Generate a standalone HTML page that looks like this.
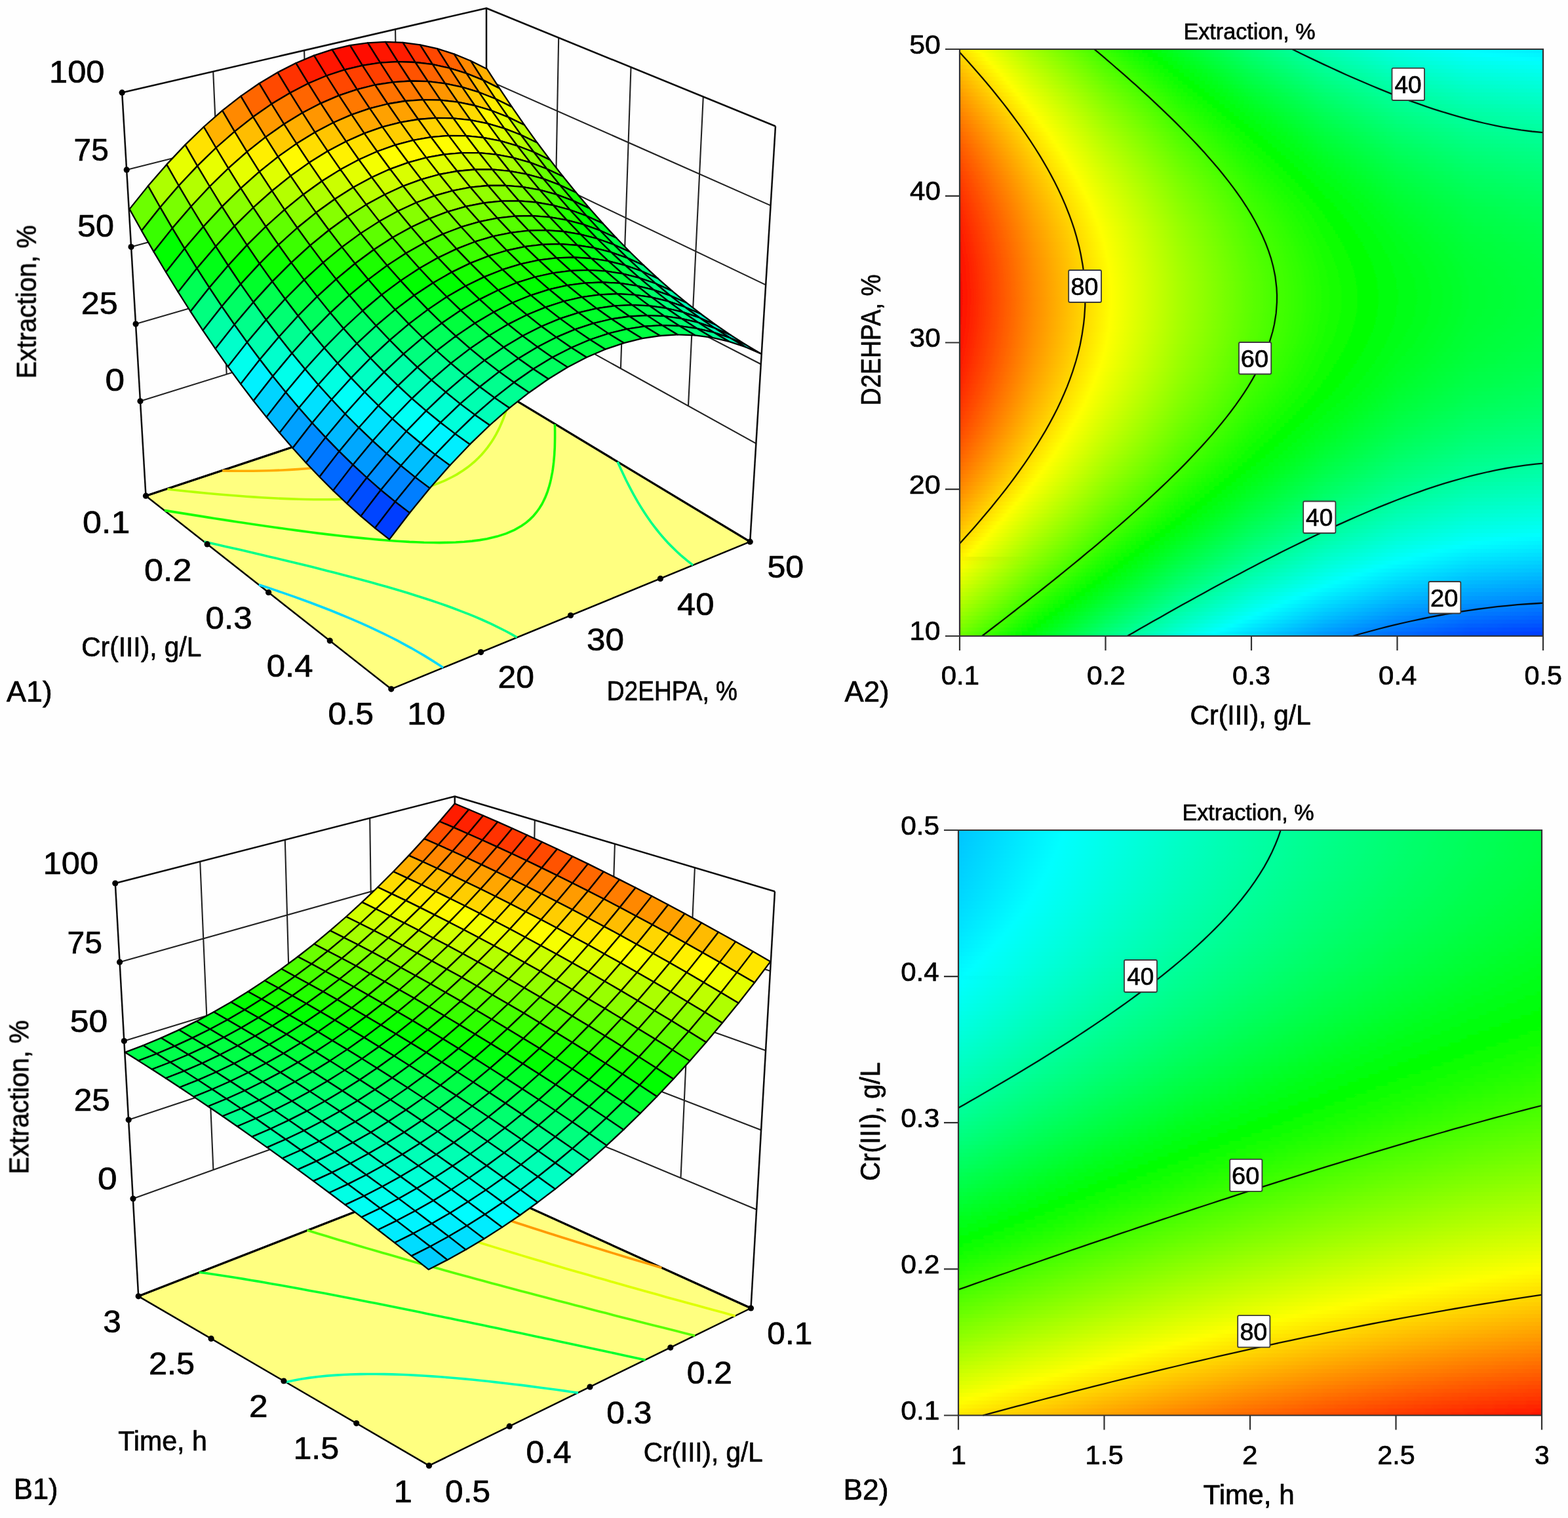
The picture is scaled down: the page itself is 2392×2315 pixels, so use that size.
<!DOCTYPE html>
<html lang="en"><head><meta charset="utf-8"><title>Response surface and contour plots</title><style>html,body{margin:0;padding:0;background:#fff}svg{display:block}text{font-family:"Liberation Sans",Arial,sans-serif}</style></head><body><svg xmlns="http://www.w3.org/2000/svg" width="2392" height="2315" viewBox="0 0 2392 2315">
<defs><filter id="soft" filterUnits="userSpaceOnUse" x="0" y="0" width="2392" height="2315"><feGaussianBlur stdDeviation="0.7"/></filter></defs>
<rect width="2392" height="2315" fill="#fefefe"/>
<g filter="url(#soft)">
<g id="A1"><path d="M214 611.8 L740.8 447.8 L1153 676.2 M207.1 494.1 L741.1 339 L1160.5 555.3 M200.1 376.5 L741.4 230.1 L1168 434.4 M193.2 258.9 L741.7 121.3 L1175.5 313.4 M325.2 109.1 L345.7 570.8 M852.2 57.5 L843.9 504.9 M464.1 76.9 L477.4 529.8 M962.5 102.5 L946.9 562 M603.1 44.7 L609.1 488.8 M1072.8 147.5 L1050 619.1" fill="none" stroke="#222" stroke-width="2.1"/>
<path d="M186.2 141.2 L742 12.5 L1183 192.5 M186.2 141.2 L222.5 756.2 M742 12.5 L742 583.5 M1183 192.5 L1144.2 826.2" fill="none" stroke="#0a0a0a" stroke-width="2.5" stroke-linejoin="round"/>
<path d="M222.5 756.2 L596.8 1050.8 L1144.2 826.2 L742 583.5 Z" fill="#ffff80" stroke="#050505" stroke-width="2.5" stroke-linejoin="round"/>
<path d="M222.5 756.2 L742 583.5 L1144.2 826.2" fill="none" stroke="#000" stroke-width="3.2" stroke-linejoin="round"/>
<path d="M394.8 891.7 407.2 895.7 419.5 899.9 429.7 903.4 439.8 906.9 449.8 910.4 459.8 914 472.8 918.8 484.6 923.2 494.4 927 504.1 930.8 516.9 936 528.1 940.6 537.6 944.6 549.8 949.9 560.9 954.9 570 959.1 583.6 965.6 592.6 970 605.8 976.7 614.4 981.3 627.3 988.3 638 994.5 648.1 1000.4 660.2 1007.9 672.1 1015.6 676 1018.2" fill="none" stroke="#00d8ff" stroke-width="3.6"/>
<path d="M311.6 826.1 321.3 828.3 332.4 830.8 343.9 833.4 355.4 836 366.9 838.6 378.4 841.3 389.9 844 400.6 846.5 410.7 848.9 420.9 851.3 431.1 853.7 441.6 856.2 453.1 859 464.6 861.8 476 864.6 487.5 867.5 498.9 870.4 510.3 873.3 521.6 876.2 533 879.2 544.3 882.2 555.5 885.2 566.7 888.3 577.9 891.4 589 894.6 600.1 897.8 611.1 901 622 904.3 632.8 907.7 643.9 911.2 657.1 915.5 670 919.9 680.5 923.5 690.7 927.3 700.8 931.1 715.8 936.9 725.6 940.9 735.1 945 749.2 951.4 758.3 955.8 771.6 962.5 780.2 967.2 788.6 972" fill="none" stroke="#0f8" stroke-width="3.6"/>
<path d="M1057.1 861.9 1047.3 854.2 1038.1 846.3 1032.3 841 1024 832.9 1018.7 827.5 1013.5 821.7 1006.5 813.6 1002 808 997.6 802.4 993 796.3 987.8 788.8 983.6 782.5 979.9 776.8 976.4 771.1 972.9 765.4 969.6 759.6 966.4 753.9 963.3 748.2 960.3 742.4 957.4 736.7 954.5 731 951.8 725.3 949.1 719.6 946.5 713.9 943.9 708.2 942.2 704.3" fill="none" stroke="#0f8" stroke-width="3.6"/>
<path d="M251 778.4 263.2 780.4 275.7 782.4 285.3 783.9 294.5 785.4 307.2 787.4 319.5 789.4 328.1 790.7 339 792.4 351.8 794.4 362.3 796 371.2 797.3 384.3 799.2 396.4 801 404.9 802.2 417.2 804 430.3 805.8 438.8 807 450.8 808.6 464 810.4 472.4 811.5 485 813.1 497.4 814.6 505.9 815.6 520.1 817.3 530.3 818.4 541.7 819.6 554.6 820.9 563.9 821.8 578.5 823.1 586.6 823.8 601.8 825 610.2 825.5 624.7 826.4 634.9 826.8 646.8 827.3 661.1 827.5 670.5 827.6 681.8 827.4 695.1 827 707.9 826.2 720.1 825.1 731.8 823.6 742.9 821.7 758.3 818.1 772.3 813.6 784.9 808.1 795.9 801.8 802.5 797.1 808.4 792.1 813.8 786.7 818.6 781 822.9 775 826.6 769 828.8 764.7 831.6 758.9 834.2 752.5 835.6 748.6 837.8 741.6 839 737.3 840.5 730.8 841.4 726.4 842.7 719.8 843.3 715.9 844.2 709.1 844.7 704.7 845.2 699 845.7 693.3 845.9 689.2 846.3 682.7 846.4 677.9 846.5 673.2 846.6 666.9 846.6 662.5 846.6 657.7 846.5 651.6 846.4 647" fill="none" stroke="#16ff00" stroke-width="3.6"/>
<path d="M255.4 746 264.6 747 275.9 748.2 287.9 749.5 296.7 750.4 310.8 751.7 318.6 752.5 332.2 753.7 341.4 754.5 354 755.5 364 756.3 376.3 757.2 386.3 757.9 399.2 758.7 408.3 759.3 422.8 760 430.8 760.4 444.2 760.9 455.6 761.3 465.2 761.5 479 761.7 490.6 761.8 499.7 761.8 512.5 761.6 525.4 761.2 538.1 760.7 550.3 760 561.8 759.1 574.1 758 586.1 756.6 597.3 755.1 608.1 753.3 621.3 750.8 633.8 748 648.1 744.1 657.1 741.2 667.9 737.3 678.1 733.1 689.6 727.5 696.8 723.6 706.8 717.2 713.1 712.8 719 708.1 724.6 703.3 729.9 698.3 734.8 693.2 739.4 687.9 743.8 682.4 747.3 677.5 750.1 673.4 753.4 668.2 756.8 662.4 759 658.1 761.4 653.4 764.2 647.3 765.7 643.7 768.1 638 769.7 633.4 771.5 628.5 773.1 623.4 774.5 618.9 775.9 613.7 777.1 609.2 777.9 606" fill="none" stroke="#b5ff00" stroke-width="3.6"/>
<path d="M339.2 717.9 352.3 718.1 364.9 718.2 373.7 718.2 385.4 718.2 398.3 718 410.9 717.7 420.7 717.4 430.9 717 442.1 716.4 454.2 715.6 466 714.7 477.6 713.6 489 712.4 502.7 710.6 516.4 708.6 526.9 706.8 537.2 704.9 552.1 701.6 564.2 698.6 575.4 695.4 588.6 691.2 601.2 686.5 612 682.1 620.6 678.1 631.5 672.5 638.3 668.6 644.9 664.6 653.7 658.7 660.2 653.9 665.9 649.4 671.3 644.7 676.4 640 681.3 635.1 686 630.2 689.9 625.8 693.2 621.7 696.7 617.3 700.6 612 704.4 606.7 706.8 602.9 709.6 598.5 712.8 592.9 713.1 592.3" fill="none" stroke="#ffab00" stroke-width="3.6"/>
<g stroke="#000" stroke-width="2.3" stroke-linejoin="round"><path d="M718 92.7 736.9 122.1 761.9 134.6 743 105.3 Z" fill="#ffb000"/><path d="M736.9 122.1 756 150.8 781 163.1 761.9 134.6 Z" fill="#ffe400"/><path d="M692.6 82.3 711.5 111.9 736.9 122.1 718 92.7 Z" fill="#f80"/><path d="M666.9 74.1 685.9 103.9 711.5 111.9 692.6 82.3 Z" fill="#ff6400"/><path d="M711.5 111.9 730.7 140.7 756 150.8 736.9 122.1 Z" fill="#fb0"/><path d="M756 150.8 775.3 178.6 800.2 190.8 781 163.1 Z" fill="#e8ff00"/><path d="M640.8 68.3 659.8 98.2 685.9 103.9 666.9 74.1 Z" fill="#ff4700"/><path d="M685.9 103.9 705 132.9 730.7 140.7 711.5 111.9 Z" fill="#ff9800"/><path d="M730.7 140.7 750 168.7 775.3 178.6 756 150.8 Z" fill="#ffed00"/><path d="M775.3 178.6 794.7 205.7 819.6 217.8 800.2 190.8 Z" fill="#b9ff00"/><path d="M659.8 98.2 679 127.4 705 132.9 685.9 103.9 Z" fill="#ff7b00"/><path d="M614.5 64.9 633.5 95 659.8 98.2 640.8 68.3 Z" fill="#ff3000"/><path d="M705 132.9 724.3 161 750 168.7 730.7 140.7 Z" fill="#ffca00"/><path d="M750 168.7 769.4 195.9 794.7 205.7 775.3 178.6 Z" fill="#e2ff00"/><path d="M794.7 205.7 814.3 232 839.2 243.9 819.6 217.8 Z" fill="#8dff00"/><path d="M633.5 95 652.7 124.2 679 127.4 659.8 98.2 Z" fill="#ff6400"/><path d="M679 127.4 698.3 155.7 724.3 161 705 132.9 Z" fill="#ffad00"/><path d="M769.4 195.9 789 222.3 814.3 232 794.7 205.7 Z" fill="#b6ff00"/><path d="M587.9 63.8 606.9 94.1 633.5 95 614.5 64.9 Z" fill="#ff1e00"/><path d="M724.3 161 743.8 188.4 769.4 195.9 750 168.7 Z" fill="#fff900"/><path d="M814.3 232 834.1 257.5 859 269.3 839.2 243.9 Z" fill="#63ff00"/><path d="M606.9 94.1 626.1 123.5 652.7 124.2 633.5 95 Z" fill="#ff5200"/><path d="M743.8 188.4 763.4 214.9 789 222.3 769.4 195.9 Z" fill="#d9ff00"/><path d="M561 65.3 580 95.7 606.9 94.1 587.9 63.8 Z" fill="#ff1300"/><path d="M652.7 124.2 672 152.7 698.3 155.7 679 127.4 Z" fill="#ff9500"/><path d="M698.3 155.7 717.8 183.2 743.8 188.4 724.3 161 Z" fill="#ffdb00"/><path d="M789 222.3 808.9 247.9 834.1 257.5 814.3 232 Z" fill="#8cff00"/><path d="M834.1 257.5 854.1 282.2 878.9 293.8 859 269.3 Z" fill="#3cff00"/><path d="M533.9 69.2 552.9 99.8 580 95.7 561 65.3 Z" fill="#ff0d00"/><path d="M580 95.7 599.2 125.3 626.1 123.5 606.9 94.1 Z" fill="#ff4700"/><path d="M626.1 123.5 645.4 152.1 672 152.7 652.7 124.2 Z" fill="#ff8400"/><path d="M717.8 183.2 737.4 209.8 763.4 214.9 743.8 188.4 Z" fill="#f6ff00"/><path d="M763.4 214.9 783.3 240.7 808.9 247.9 789 222.3 Z" fill="#afff00"/><path d="M672 152.7 691.5 180.3 717.8 183.2 698.3 155.7 Z" fill="#ffc400"/><path d="M808.9 247.9 828.9 272.7 854.1 282.2 834.1 257.5 Z" fill="#65ff00"/><path d="M854.1 282.2 874.3 306.1 899.1 317.6 878.9 293.8 Z" fill="#17ff00"/><path d="M506.6 75.6 525.6 106.4 552.9 99.8 533.9 69.2 Z" fill="#ff0d00"/><path d="M552.9 99.8 572.1 129.5 599.2 125.3 580 95.7 Z" fill="#ff4100"/><path d="M599.2 125.3 618.5 154 645.4 152.1 626.1 123.5 Z" fill="#ff7800"/><path d="M645.4 152.1 664.9 179.9 691.5 180.3 672 152.7 Z" fill="#ffb300"/><path d="M691.5 180.3 711.1 207.2 737.4 209.8 717.8 183.2 Z" fill="#fff100"/><path d="M737.4 209.8 757.3 235.7 783.3 240.7 763.4 214.9 Z" fill="#cf0"/><path d="M783.3 240.7 803.3 265.6 828.9 272.7 808.9 247.9 Z" fill="#8f0"/><path d="M828.9 272.7 849.1 296.7 874.3 306.1 854.1 282.2 Z" fill="#40ff00"/><path d="M874.3 306.1 894.7 329.2 919.5 340.6 899.1 317.6 Z" fill="#00ff0c"/><path d="M525.6 106.4 544.7 136.3 572.1 129.5 552.9 99.8 Z" fill="#ff4100"/><path d="M479 84.6 498 115.5 525.6 106.4 506.6 75.6 Z" fill="#ff1300"/><path d="M572.1 129.5 591.4 158.5 618.5 154 599.2 125.3 Z" fill="#ff7200"/><path d="M618.5 154 638 182 664.9 179.9 645.4 152.1 Z" fill="#ffa700"/><path d="M664.9 179.9 684.5 206.9 711.1 207.2 691.5 180.3 Z" fill="#ffdf00"/><path d="M711.1 207.2 731 233.2 757.3 235.7 737.4 209.8 Z" fill="#e4ff00"/><path d="M757.3 235.7 777.3 260.8 803.3 265.6 783.3 240.7 Z" fill="#a5ff00"/><path d="M803.3 265.6 823.5 289.7 849.1 296.7 828.9 272.7 Z" fill="#63ff00"/><path d="M849.1 296.7 869.5 320 894.7 329.2 874.3 306.1 Z" fill="#1dff00"/><path d="M894.7 329.2 915.4 351.5 940.2 362.8 919.5 340.6 Z" fill="#00ff2b"/><path d="M498 115.5 517.1 145.6 544.7 136.3 525.6 106.4 Z" fill="#ff4700"/><path d="M544.7 136.3 564 165.4 591.4 158.5 572.1 129.5 Z" fill="#ff7300"/><path d="M638 182 657.6 209.2 684.5 206.9 664.9 179.9 Z" fill="#ffd300"/><path d="M777.3 260.8 797.5 285.1 823.5 289.7 803.3 265.6 Z" fill="#80ff00"/><path d="M823.5 289.7 844 313.1 869.5 320 849.1 296.7 Z" fill="#40ff00"/><path d="M869.5 320 890.2 342.4 915.4 351.5 894.7 329.2 Z" fill="#00ff02"/><path d="M591.4 158.5 610.8 186.6 638 182 618.5 154 Z" fill="#ffa100"/><path d="M684.5 206.9 704.4 233.1 731 233.2 711.1 207.2 Z" fill="#f5ff00"/><path d="M915.4 351.5 936.3 373 961 384.2 940.2 362.8 Z" fill="#00ff49"/><path d="M451.3 96.2 470.3 127.3 498 115.5 479 84.6 Z" fill="#ff1f00"/><path d="M731 233.2 751 258.4 777.3 260.8 757.3 235.7 Z" fill="#bcff00"/><path d="M610.8 186.6 630.4 213.9 657.6 209.2 638 182 Z" fill="#ffce00"/><path d="M423.4 110.4 442.4 141.7 470.3 127.3 451.3 96.2 Z" fill="#ff3100"/><path d="M470.3 127.3 489.3 157.6 517.1 145.6 498 115.5 Z" fill="#ff5300"/><path d="M517.1 145.6 536.4 174.9 564 165.4 544.7 136.3 Z" fill="#ff7900"/><path d="M564 165.4 583.4 193.7 610.8 186.6 591.4 158.5 Z" fill="#ffa100"/><path d="M657.6 209.2 677.4 235.5 704.4 233.1 684.5 206.9 Z" fill="#fffd00"/><path d="M704.4 233.1 724.4 258.5 751 258.4 731 233.2 Z" fill="#ceff00"/><path d="M751 258.4 771.2 282.8 797.5 285.1 777.3 260.8 Z" fill="#97ff00"/><path d="M797.5 285.1 818 308.5 844 313.1 823.5 289.7 Z" fill="#5eff00"/><path d="M844 313.1 864.6 335.6 890.2 342.4 869.5 320 Z" fill="#21ff00"/><path d="M890.2 342.4 911.1 364 936.3 373 915.4 351.5 Z" fill="#00ff20"/><path d="M936.3 373 957.4 393.6 982.2 404.8 961 384.2 Z" fill="#00ff64"/><path d="M442.4 141.7 461.4 172.1 489.3 157.6 470.3 127.3 Z" fill="#ff6500"/><path d="M583.4 193.7 603 221.2 630.4 213.9 610.8 186.6 Z" fill="#ffce00"/><path d="M818 308.5 838.7 331.2 864.6 335.6 844 313.1 Z" fill="#3eff00"/><path d="M630.4 213.9 650.2 240.4 677.4 235.5 657.6 209.2 Z" fill="#fff800"/><path d="M864.6 335.6 885.5 357.3 911.1 364 890.2 342.4 Z" fill="#03ff00"/><path d="M395.4 127.2 414.3 158.6 442.4 141.7 423.4 110.4 Z" fill="#ff4800"/><path d="M489.3 157.6 508.5 187 536.4 174.9 517.1 145.6 Z" fill="#ff8400"/><path d="M536.4 174.9 555.7 203.4 583.4 193.7 564 165.4 Z" fill="#ffa700"/><path d="M677.4 235.5 697.4 261 724.4 258.5 704.4 233.1 Z" fill="#d9ff00"/><path d="M724.4 258.5 744.6 283 771.2 282.8 751 258.4 Z" fill="#a9ff00"/><path d="M771.2 282.8 791.7 306.4 818 308.5 797.5 285.1 Z" fill="#75ff00"/><path d="M911.1 364 932.3 384.7 957.4 393.6 936.3 373 Z" fill="#00ff3b"/><path d="M957.4 393.6 978.8 413.5 1003.6 424.6 982.2 404.8 Z" fill="#00ff7c"/><path d="M367.3 146.6 386.1 178.3 414.3 158.6 395.4 127.2 Z" fill="#f60"/><path d="M414.3 158.6 433.3 189.3 461.4 172.1 442.4 141.7 Z" fill="#ff7c00"/><path d="M461.4 172.1 480.5 201.8 508.5 187 489.3 157.6 Z" fill="#ff9600"/><path d="M555.7 203.4 575.3 231 603 221.2 583.4 193.7 Z" fill="#ffd400"/><path d="M603 221.2 622.7 247.8 650.2 240.4 630.4 213.9 Z" fill="#fff800"/><path d="M650.2 240.4 670.2 266 697.4 261 677.4 235.5 Z" fill="#dfff00"/><path d="M697.4 261 717.6 285.7 744.6 283 724.4 258.5 Z" fill="#b4ff00"/><path d="M744.6 283 765 306.7 791.7 306.4 771.2 282.8 Z" fill="#87ff00"/><path d="M791.7 306.4 812.3 329.2 838.7 331.2 818 308.5 Z" fill="#5f0"/><path d="M838.7 331.2 859.6 353 885.5 357.3 864.6 335.6 Z" fill="#21ff00"/><path d="M885.5 357.3 906.7 378.2 932.3 384.7 911.1 364 Z" fill="#00ff17"/><path d="M932.3 384.7 953.7 404.7 978.8 413.5 957.4 393.6 Z" fill="#00ff53"/><path d="M978.8 413.5 1000.5 432.5 1025.2 443.6 1003.6 424.6 Z" fill="#00ff92"/><path d="M508.5 187 527.9 215.7 555.7 203.4 536.4 174.9 Z" fill="#ffb300"/><path d="M386.1 178.3 405.1 209.1 433.3 189.3 414.3 158.6 Z" fill="#ff9a00"/><path d="M339.1 168.7 357.9 200.6 386.1 178.3 367.3 146.6 Z" fill="#ff8900"/><path d="M433.3 189.3 452.4 219.1 480.5 201.8 461.4 172.1 Z" fill="#ffae00"/><path d="M527.9 215.7 547.4 243.5 575.3 231 555.7 203.4 Z" fill="#ffe000"/><path d="M575.3 231 595 257.8 622.7 247.8 603 221.2 Z" fill="#fffe00"/><path d="M622.7 247.8 642.7 273.6 670.2 266 650.2 240.4 Z" fill="#dfff00"/><path d="M670.2 266 690.3 290.9 717.6 285.7 697.4 261 Z" fill="#baff00"/><path d="M717.6 285.7 738 309.5 765 306.7 744.6 283 Z" fill="#92ff00"/><path d="M765 306.7 785.6 329.6 812.3 329.2 791.7 306.4 Z" fill="#67ff00"/><path d="M812.3 329.2 833.2 351.1 859.6 353 838.7 331.2 Z" fill="#38ff00"/><path d="M859.6 353 880.7 374 906.7 378.2 885.5 357.3 Z" fill="#06ff00"/><path d="M906.7 378.2 928.1 398.2 953.7 404.7 932.3 384.7 Z" fill="#00ff30"/><path d="M953.7 404.7 975.4 423.8 1000.5 432.5 978.8 413.5 Z" fill="#00ff69"/><path d="M1000.5 432.5 1022.5 450.8 1047.2 461.7 1025.2 443.6 Z" fill="#00ffa5"/><path d="M480.5 201.8 499.9 230.6 527.9 215.7 508.5 187 Z" fill="#ffc500"/><path d="M357.9 200.6 376.7 231.6 405.1 209.1 386.1 178.3 Z" fill="#ffbd00"/><path d="M405.1 209.1 424.1 239.1 452.4 219.1 433.3 189.3 Z" fill="#ffcb00"/><path d="M499.9 230.6 519.3 258.6 547.4 243.5 527.9 215.7 Z" fill="#fff100"/><path d="M642.7 273.6 662.8 298.7 690.3 290.9 670.2 266 Z" fill="#baff00"/><path d="M690.3 290.9 710.7 314.9 738 309.5 717.6 285.7 Z" fill="#98ff00"/><path d="M738 309.5 758.6 332.6 785.6 329.6 765 306.7 Z" fill="#72ff00"/><path d="M785.6 329.6 806.5 351.7 833.2 351.1 812.3 329.2 Z" fill="#49ff00"/><path d="M880.7 374 902.1 394.1 928.1 398.2 906.7 378.2 Z" fill="#00ff12"/><path d="M928.1 398.2 949.8 417.4 975.4 423.8 953.7 404.7 Z" fill="#00ff45"/><path d="M975.4 423.8 997.4 442.1 1022.5 450.8 1000.5 432.5 Z" fill="#00ff7c"/><path d="M1022.5 450.8 1044.8 468.2 1069.5 479 1047.2 461.7 Z" fill="#00ffb5"/><path d="M452.4 219.1 471.6 248.1 499.9 230.6 480.5 201.8 Z" fill="#fd0"/><path d="M547.4 243.5 567.1 270.5 595 257.8 575.3 231 Z" fill="#f4ff00"/><path d="M595 257.8 614.9 283.8 642.7 273.6 622.7 247.8 Z" fill="#d9ff00"/><path d="M310.8 193.5 329.5 225.5 357.9 200.6 339.1 168.7 Z" fill="#ffb200"/><path d="M833.2 351.1 854.4 372.2 880.7 374 859.6 353 Z" fill="#1dff00"/><path d="M471.6 248.1 491 276.3 519.3 258.6 499.9 230.6 Z" fill="#f5ff00"/><path d="M662.8 298.7 683.1 322.8 710.7 314.9 690.3 290.9 Z" fill="#98ff00"/><path d="M710.7 314.9 731.3 338.1 758.6 332.6 738 309.5 Z" fill="#78ff00"/><path d="M282.5 220.9 301.1 253.1 329.5 225.5 310.8 193.5 Z" fill="#ffe200"/><path d="M329.5 225.5 348.3 256.7 376.7 231.6 357.9 200.6 Z" fill="#ffe600"/><path d="M376.7 231.6 395.7 261.8 424.1 239.1 405.1 209.1 Z" fill="#ffef00"/><path d="M758.6 332.6 779.5 354.8 806.5 351.7 785.6 329.6 Z" fill="#5f0"/><path d="M902.1 394.1 923.8 413.4 949.8 417.4 928.1 398.2 Z" fill="#00ff28"/><path d="M949.8 417.4 971.8 435.8 997.4 442.1 975.4 423.8 Z" fill="#00ff59"/><path d="M997.4 442.1 1019.7 459.6 1044.8 468.2 1022.5 450.8 Z" fill="#00ff8c"/><path d="M424.1 239.1 443.3 268.3 471.6 248.1 452.4 219.1 Z" fill="#fffa00"/><path d="M519.3 258.6 538.9 285.8 567.1 270.5 547.4 243.5 Z" fill="#e3ff00"/><path d="M614.9 283.8 635 309 662.8 298.7 642.7 273.6 Z" fill="#b4ff00"/><path d="M567.1 270.5 586.9 296.7 614.9 283.8 595 257.8 Z" fill="#cdff00"/><path d="M806.5 351.7 827.6 372.9 854.4 372.2 833.2 351.1 Z" fill="#2fff00"/><path d="M854.4 372.2 875.8 392.5 902.1 394.1 880.7 374 Z" fill="#05ff00"/><path d="M1044.8 468.2 1067.4 484.7 1092 495.5 1069.5 479 Z" fill="#00ffc4"/><path d="M301.1 253.1 319.9 284.5 348.3 256.7 329.5 225.5 Z" fill="#e8ff00"/><path d="M443.3 268.3 462.6 296.7 491 276.3 471.6 248.1 Z" fill="#d7ff00"/><path d="M683.1 322.8 703.6 346.2 731.3 338.1 710.7 314.9 Z" fill="#78ff00"/><path d="M731.3 338.1 752.1 360.4 779.5 354.8 758.6 332.6 Z" fill="#5bff00"/><path d="M923.8 413.4 945.8 431.9 971.8 435.8 949.8 417.4 Z" fill="#00ff3b"/><path d="M971.8 435.8 994.1 453.4 1019.7 459.6 997.4 442.1 Z" fill="#00ff69"/><path d="M491 276.3 510.6 303.7 538.9 285.8 519.3 258.6 Z" fill="#cbff00"/><path d="M635 309 655.3 333.4 683.1 322.8 662.8 298.7 Z" fill="#92ff00"/><path d="M254.2 250.9 272.7 283.3 301.1 253.1 282.5 220.9 Z" fill="#e7ff00"/><path d="M348.3 256.7 367.3 287.1 395.7 261.8 376.7 231.6 Z" fill="#e6ff00"/><path d="M395.7 261.8 414.9 291.2 443.3 268.3 424.1 239.1 Z" fill="#e0ff00"/><path d="M538.9 285.8 558.7 312.1 586.9 296.7 567.1 270.5 Z" fill="#bf0"/><path d="M586.9 296.7 606.9 322 635 309 614.9 283.8 Z" fill="#a8ff00"/><path d="M779.5 354.8 800.5 376.2 827.6 372.9 806.5 351.7 Z" fill="#3aff00"/><path d="M827.6 372.9 849 393.3 875.8 392.5 854.4 372.2 Z" fill="#16ff00"/><path d="M875.8 392.5 897.4 411.9 923.8 413.4 902.1 394.1 Z" fill="#0f1"/><path d="M1019.7 459.6 1042.3 476.2 1067.4 484.7 1044.8 468.2 Z" fill="#00ff9b"/><path d="M1067.4 484.7 1090.3 500.4 1115 511.2 1092 495.5 Z" fill="#00ffcf"/><path d="M272.7 283.3 291.4 315 319.9 284.5 301.1 253.1 Z" fill="#b3ff00"/><path d="M319.9 284.5 338.7 315.1 367.3 287.1 348.3 256.7 Z" fill="#b7ff00"/><path d="M414.9 291.2 434.1 319.8 462.6 296.7 443.3 268.3 Z" fill="#b4ff00"/><path d="M703.6 346.2 724.4 368.7 752.1 360.4 731.3 338.1 Z" fill="#5bff00"/><path d="M945.8 431.9 968.1 449.6 994.1 453.4 971.8 435.8 Z" fill="#00ff4c"/><path d="M462.6 296.7 482.1 324.3 510.6 303.7 491 276.3 Z" fill="#aeff00"/><path d="M655.3 333.4 675.7 356.9 703.6 346.2 683.1 322.8 Z" fill="#72ff00"/><path d="M510.6 303.7 530.3 330.2 558.7 312.1 538.9 285.8 Z" fill="#a4ff00"/><path d="M558.7 312.1 578.7 337.6 606.9 322 586.9 296.7 Z" fill="#96ff00"/><path d="M606.9 322 627.2 346.5 655.3 333.4 635 309 Z" fill="#86ff00"/><path d="M752.1 360.4 773.1 382 800.5 376.2 779.5 354.8 Z" fill="#40ff00"/><path d="M800.5 376.2 821.9 396.7 849 393.3 827.6 372.9 Z" fill="#2f0"/><path d="M849 393.3 870.6 412.9 897.4 411.9 875.8 392.5 Z" fill="#01ff00"/><path d="M897.4 411.9 919.4 430.5 945.8 431.9 923.8 413.4 Z" fill="#00ff24"/><path d="M994.1 453.4 1016.7 470 1042.3 476.2 1019.7 459.6 Z" fill="#00ff78"/><path d="M1042.3 476.2 1065.2 491.9 1090.3 500.4 1067.4 484.7 Z" fill="#00ffa6"/><path d="M1090.3 500.4 1113.6 515.2 1138.2 526 1115 511.2 Z" fill="#00ffd9"/><path d="M225.9 283.6 244.3 316.2 272.7 283.3 254.2 250.9 Z" fill="#adff00"/><path d="M367.3 287.1 386.3 316.7 414.9 291.2 395.7 261.8 Z" fill="#b7ff00"/><path d="M197.6 318.9 216 351.8 244.3 316.2 225.9 283.6 Z" fill="#6cff00"/><path d="M244.3 316.2 262.9 348.1 291.4 315 272.7 283.3 Z" fill="#79ff00"/><path d="M291.4 315 310.2 345.8 338.7 315.1 319.9 284.5 Z" fill="#82ff00"/><path d="M338.7 315.1 357.7 344.9 386.3 316.7 367.3 287.1 Z" fill="#8f0"/><path d="M386.3 316.7 405.5 345.5 434.1 319.8 414.9 291.2 Z" fill="#8bff00"/><path d="M434.1 319.8 453.5 347.5 482.1 324.3 462.6 296.7 Z" fill="#8aff00"/><path d="M482.1 324.3 501.8 351 530.3 330.2 510.6 303.7 Z" fill="#86ff00"/><path d="M530.3 330.2 550.2 355.9 578.7 337.6 558.7 312.1 Z" fill="#7fff00"/><path d="M578.7 337.6 598.8 362.3 627.2 346.5 606.9 322 Z" fill="#74ff00"/><path d="M627.2 346.5 647.6 370.2 675.7 356.9 655.3 333.4 Z" fill="#6f0"/><path d="M675.7 356.9 696.4 379.6 724.4 368.7 703.6 346.2 Z" fill="#5f0"/><path d="M724.4 368.7 745.4 390.4 773.1 382 752.1 360.4 Z" fill="#40ff00"/><path d="M773.1 382 794.4 402.6 821.9 396.7 800.5 376.2 Z" fill="#28ff00"/><path d="M821.9 396.7 843.5 416.4 870.6 412.9 849 393.3 Z" fill="#0cff00"/><path d="M870.6 412.9 892.6 431.6 919.4 430.5 897.4 411.9 Z" fill="#00ff13"/><path d="M919.4 430.5 941.6 448.2 968.1 449.6 945.8 431.9 Z" fill="#00ff35"/><path d="M968.1 449.6 990.7 466.3 1016.7 470 994.1 453.4 Z" fill="#00ff5a"/><path d="M1016.7 470 1039.6 485.8 1065.2 491.9 1042.3 476.2 Z" fill="#00ff83"/><path d="M1065.2 491.9 1088.5 506.8 1113.6 515.2 1090.3 500.4 Z" fill="#00ffb0"/><path d="M1113.6 515.2 1137.3 529.2 1161.9 539.9 1138.2 526 Z" fill="#00ffdf"/><path d="M216 351.8 234.5 383.8 262.9 348.1 244.3 316.2 Z" fill="#38ff00"/><path d="M357.7 344.9 376.8 373.9 405.5 345.5 386.3 316.7 Z" fill="#5cff00"/><path d="M501.8 351 521.6 376.9 550.2 355.9 530.3 330.2 Z" fill="#61ff00"/><path d="M550.2 355.9 570.3 380.8 598.8 362.3 578.7 337.6 Z" fill="#5dff00"/><path d="M598.8 362.3 619.2 386.2 647.6 370.2 627.2 346.5 Z" fill="#54ff00"/><path d="M745.4 390.4 766.6 411.2 794.4 402.6 773.1 382 Z" fill="#28ff00"/><path d="M794.4 402.6 816 422.5 843.5 416.4 821.9 396.7 Z" fill="#12ff00"/><path d="M843.5 416.4 865.4 435.2 892.6 431.6 870.6 412.9 Z" fill="#00ff07"/><path d="M892.6 431.6 914.8 449.4 941.6 448.2 919.4 430.5 Z" fill="#00ff23"/><path d="M990.7 466.3 1013.6 482.2 1039.6 485.8 1016.7 470 Z" fill="#0f6"/><path d="M1039.6 485.8 1062.9 500.8 1088.5 506.8 1065.2 491.9 Z" fill="#00ff8c"/><path d="M1088.5 506.8 1112.1 520.8 1137.3 529.2 1113.6 515.2 Z" fill="#00ffb6"/><path d="M453.5 347.5 473.1 374.4 501.8 351 482.1 324.3 Z" fill="#63ff00"/><path d="M647.6 370.2 668.2 393.1 696.4 379.6 675.7 356.9 Z" fill="#49ff00"/><path d="M262.9 348.1 281.6 379.1 310.2 345.8 291.4 315 Z" fill="#47ff00"/><path d="M310.2 345.8 329.1 375.8 357.7 344.9 338.7 315.1 Z" fill="#53ff00"/><path d="M405.5 345.5 424.8 373.4 453.5 347.5 434.1 319.8 Z" fill="#61ff00"/><path d="M696.4 379.6 717.4 401.4 745.4 390.4 724.4 368.7 Z" fill="#3aff00"/><path d="M941.6 448.2 964.2 465.1 990.7 466.3 968.1 449.6 Z" fill="#00ff43"/><path d="M234.5 383.8 253.1 415 281.6 379.1 262.9 348.1 Z" fill="#06ff00"/><path d="M329.1 375.8 348.1 405 376.8 373.9 357.7 344.9 Z" fill="#27ff00"/><path d="M376.8 373.9 396 402.1 424.8 373.4 405.5 345.5 Z" fill="#32ff00"/><path d="M521.6 376.9 541.6 402 570.3 380.8 550.2 355.9 Z" fill="#3fff00"/><path d="M570.3 380.8 590.6 404.9 619.2 386.2 598.8 362.3 Z" fill="#3dff00"/><path d="M766.6 411.2 788.2 431.2 816 422.5 794.4 402.6 Z" fill="#12ff00"/><path d="M816 422.5 837.8 441.4 865.4 435.2 843.5 416.4 Z" fill="#00ff01"/><path d="M865.4 435.2 887.6 453.2 914.8 449.4 892.6 431.6 Z" fill="#00ff18"/><path d="M1013.6 482.2 1036.8 497.2 1062.9 500.8 1039.6 485.8 Z" fill="#00ff6f"/><path d="M1062.9 500.8 1086.5 514.8 1112.1 520.8 1088.5 506.8 Z" fill="#00ff93"/><path d="M473.1 374.4 492.8 400.6 521.6 376.9 501.8 351 Z" fill="#3eff00"/><path d="M619.2 386.2 639.8 409.3 668.2 393.1 647.6 370.2 Z" fill="#37ff00"/><path d="M717.4 401.4 738.6 422.4 766.6 411.2 745.4 390.4 Z" fill="#2f0"/><path d="M914.8 449.4 937.3 466.4 964.2 465.1 941.6 448.2 Z" fill="#00ff32"/><path d="M964.2 465.1 987.1 481.1 1013.6 482.2 990.7 466.3 Z" fill="#00ff4f"/><path d="M424.8 373.4 444.3 400.6 473.1 374.4 453.5 347.5 Z" fill="#3aff00"/><path d="M668.2 393.1 689.1 415.1 717.4 401.4 696.4 379.6 Z" fill="#2eff00"/><path d="M281.6 379.1 300.4 409.3 329.1 375.8 310.2 345.8 Z" fill="#18ff00"/><path d="M541.6 402 561.8 426.3 590.6 404.9 570.3 380.8 Z" fill="#1fff00"/><path d="M788.2 431.2 809.9 450.3 837.8 441.4 816 422.5 Z" fill="#00ff01"/><path d="M837.8 441.4 860 459.5 887.6 453.2 865.4 435.2 Z" fill="#00ff12"/><path d="M1036.8 497.2 1060.5 511.4 1086.5 514.8 1062.9 500.8 Z" fill="#00ff76"/><path d="M396 402.1 415.4 429.4 444.3 400.6 424.8 373.4 Z" fill="#0aff00"/><path d="M492.8 400.6 512.8 425.9 541.6 402 521.6 376.9 Z" fill="#1cff00"/><path d="M590.6 404.9 611.1 428.1 639.8 409.3 619.2 386.2 Z" fill="#1fff00"/><path d="M253.1 415 271.8 445.4 300.4 409.3 281.6 379.1 Z" fill="#00ff28"/><path d="M300.4 409.3 319.3 438.7 348.1 405 329.1 375.8 Z" fill="#00ff14"/><path d="M348.1 405 367.2 433.3 396 402.1 376.8 373.9 Z" fill="#00ff03"/><path d="M738.6 422.4 760 442.5 788.2 431.2 766.6 411.2 Z" fill="#0cff00"/><path d="M887.6 453.2 910 470.3 937.3 466.4 914.8 449.4 Z" fill="#00ff26"/><path d="M937.3 466.4 960.2 482.5 987.1 481.1 964.2 465.1 Z" fill="#00ff3d"/><path d="M987.1 481.1 1010.3 496.2 1036.8 497.2 1013.6 482.2 Z" fill="#00ff58"/><path d="M444.3 400.6 464 426.9 492.8 400.6 473.1 374.4 Z" fill="#15ff00"/><path d="M639.8 409.3 660.6 431.5 689.1 415.1 668.2 393.1 Z" fill="#1cff00"/><path d="M689.1 415.1 710.2 436.3 738.6 422.4 717.4 401.4 Z" fill="#16ff00"/><path d="M271.8 445.4 290.6 475 319.3 438.7 300.4 409.3 Z" fill="#0f5"/><path d="M809.9 450.3 832 468.6 860 459.5 837.8 441.4 Z" fill="#00ff12"/><path d="M415.4 429.4 435 456 464 426.9 444.3 400.6 Z" fill="#00ff1a"/><path d="M512.8 425.9 532.9 450.3 561.8 426.3 541.6 402 Z" fill="#00ff04"/><path d="M561.8 426.3 582.2 449.7 611.1 428.1 590.6 404.9 Z" fill="#02ff00"/><path d="M760 442.5 781.7 461.8 809.9 450.3 788.2 431.2 Z" fill="#00ff07"/><path d="M860 459.5 882.4 476.8 910 470.3 887.6 453.2 Z" fill="#00ff20"/><path d="M910 470.3 932.9 486.5 960.2 482.5 937.3 466.4 Z" fill="#00ff32"/><path d="M960.2 482.5 983.4 497.7 1010.3 496.2 987.1 481.1 Z" fill="#00ff46"/><path d="M1010.3 496.2 1033.9 510.4 1060.5 511.4 1036.8 497.2 Z" fill="#00ff5e"/><path d="M367.2 433.3 386.5 460.9 415.4 429.4 396 402.1 Z" fill="#00ff2b"/><path d="M464 426.9 483.8 452.4 512.8 425.9 492.8 400.6 Z" fill="#00ff0e"/><path d="M611.1 428.1 631.8 450.5 660.6 431.5 639.8 409.3 Z" fill="#05ff00"/><path d="M660.6 431.5 681.6 452.8 710.2 436.3 689.1 415.1 Z" fill="#04ff00"/><path d="M710.2 436.3 731.6 456.6 760 442.5 738.6 422.4 Z" fill="#0f0"/><path d="M319.3 438.7 338.4 467.3 367.2 433.3 348.1 405 Z" fill="#00ff3e"/><path d="M435 456 454.7 481.7 483.8 452.4 464 426.9 Z" fill="#00ff3d"/><path d="M290.6 475 309.5 503.9 338.4 467.3 319.3 438.7 Z" fill="#00ff7f"/><path d="M386.5 460.9 406 487.7 435 456 415.4 429.4 Z" fill="#00ff4f"/><path d="M483.8 452.4 503.8 477.1 532.9 450.3 512.8 425.9 Z" fill="#00ff2d"/><path d="M532.9 450.3 553.2 474 582.2 449.7 561.8 426.3 Z" fill="#00ff21"/><path d="M582.2 449.7 602.8 472.3 631.8 450.5 611.1 428.1 Z" fill="#00ff19"/><path d="M631.8 450.5 652.8 472.1 681.6 452.8 660.6 431.5 Z" fill="#00ff14"/><path d="M681.6 452.8 702.9 473.3 731.6 456.6 710.2 436.3 Z" fill="#00ff12"/><path d="M731.6 456.6 753.2 476 781.7 461.8 760 442.5 Z" fill="#00ff13"/><path d="M781.7 461.8 803.7 480.2 832 468.6 809.9 450.3 Z" fill="#00ff18"/><path d="M832 468.6 854.4 485.9 882.4 476.8 860 459.5 Z" fill="#00ff20"/><path d="M882.4 476.8 905.1 493.1 932.9 486.5 910 470.3 Z" fill="#00ff2c"/><path d="M932.9 486.5 956 501.8 983.4 497.7 960.2 482.5 Z" fill="#00ff3b"/><path d="M983.4 497.7 1006.9 512 1033.9 510.4 1010.3 496.2 Z" fill="#00ff4d"/><path d="M338.4 467.3 357.6 495.1 386.5 460.9 367.2 433.3 Z" fill="#00ff65"/><path d="M454.7 481.7 474.6 506.6 503.8 477.1 483.8 452.4 Z" fill="#00ff5d"/><path d="M854.4 485.9 877.1 502.4 905.1 493.1 882.4 476.8 Z" fill="#00ff2c"/><path d="M905.1 493.1 928.2 508.6 956 501.8 932.9 486.5 Z" fill="#00ff35"/><path d="M956 501.8 979.5 516.2 1006.9 512 983.4 497.7 Z" fill="#00ff41"/><path d="M309.5 503.9 328.6 531.9 357.6 495.1 338.4 467.3 Z" fill="#00ffa6"/><path d="M357.6 495.1 376.9 522.1 406 487.7 386.5 460.9 Z" fill="#00ff8a"/><path d="M406 487.7 425.6 513.7 454.7 481.7 435 456 Z" fill="#00ff72"/><path d="M503.8 477.1 524 501 553.2 474 532.9 450.3 Z" fill="#00ff4b"/><path d="M553.2 474 573.7 496.8 602.8 472.3 582.2 449.7 Z" fill="#00ff3c"/><path d="M602.8 472.3 623.7 494.1 652.8 472.1 631.8 450.5 Z" fill="#00ff31"/><path d="M652.8 472.1 673.9 492.8 702.9 473.3 681.6 452.8 Z" fill="#00ff29"/><path d="M702.9 473.3 724.4 493 753.2 476 731.6 456.6 Z" fill="#00ff25"/><path d="M753.2 476 775.1 494.6 803.7 480.2 781.7 461.8 Z" fill="#00ff24"/><path d="M803.7 480.2 826 497.8 854.4 485.9 832 468.6 Z" fill="#00ff26"/><path d="M328.6 531.9 347.8 559.1 376.9 522.1 357.6 495.1 Z" fill="#00ffcb"/><path d="M425.6 513.7 445.4 538.8 474.6 506.6 454.7 481.7 Z" fill="#00ff91"/><path d="M474.6 506.6 494.7 530.7 524 501 503.8 477.1 Z" fill="#00ff7a"/><path d="M623.7 494.1 644.8 515 673.9 492.8 652.8 472.1 Z" fill="#00ff47"/><path d="M673.9 492.8 695.4 512.6 724.4 493 702.9 473.3 Z" fill="#00ff3d"/><path d="M724.4 493 746.3 511.7 775.1 494.6 753.2 476 Z" fill="#00ff36"/><path d="M877.1 502.4 900.1 518 928.2 508.6 905.1 493.1 Z" fill="#00ff35"/><path d="M928.2 508.6 951.7 523.1 979.5 516.2 956 501.8 Z" fill="#00ff3c"/><path d="M573.7 496.8 594.5 518.8 623.7 494.1 602.8 472.3 Z" fill="#00ff54"/><path d="M826 497.8 848.6 514.4 877.1 502.4 854.4 485.9 Z" fill="#00ff32"/><path d="M376.9 522.1 396.4 548.3 425.6 513.7 406 487.7 Z" fill="#00ffad"/><path d="M524 501 544.4 524 573.7 496.8 553.2 474 Z" fill="#00ff65"/><path d="M775.1 494.6 797.3 512.3 826 497.8 803.7 480.2 Z" fill="#00ff32"/><path d="M900.1 518 923.4 532.7 951.7 523.1 928.2 508.6 Z" fill="#00ff3c"/><path d="M347.8 559.1 367.2 585.6 396.4 548.3 376.9 522.1 Z" fill="#00ffed"/><path d="M396.4 548.3 416.1 573.7 445.4 538.8 425.6 513.7 Z" fill="#0fc"/><path d="M445.4 538.8 465.4 563.1 494.7 530.7 474.6 506.6 Z" fill="#00ffaf"/><path d="M494.7 530.7 515 554 544.4 524 524 501 Z" fill="#00ff95"/><path d="M594.5 518.8 615.5 539.9 644.8 515 623.7 494.1 Z" fill="#00ff6a"/><path d="M644.8 515 666.1 535 695.4 512.6 673.9 492.8 Z" fill="#00ff5a"/><path d="M695.4 512.6 717.1 531.6 746.3 511.7 724.4 493 Z" fill="#00ff4d"/><path d="M746.3 511.7 768.4 529.6 797.3 512.3 775.1 494.6 Z" fill="#0f4"/><path d="M797.3 512.3 819.9 529.2 848.6 514.4 826 497.8 Z" fill="#00ff3e"/><path d="M848.6 514.4 871.6 530.2 900.1 518 877.1 502.4 Z" fill="#00ff3b"/><path d="M544.4 524 565.1 546.2 594.5 518.8 573.7 496.8 Z" fill="#00ff7e"/><path d="M367.2 585.6 386.7 611.2 416.1 573.7 396.4 548.3 Z" fill="#00f1ff"/><path d="M666.1 535 687.8 554.2 717.1 531.6 695.4 512.6 Z" fill="#00ff6b"/><path d="M515 554 535.6 576.4 565.1 546.2 544.4 524 Z" fill="#00ffad"/><path d="M615.5 539.9 636.7 560.2 666.1 535 644.8 515 Z" fill="#00ff7d"/><path d="M871.6 530.2 894.8 545 923.4 532.7 900.1 518 Z" fill="#00ff42"/><path d="M416.1 573.7 435.9 598.3 465.4 563.1 445.4 538.8 Z" fill="#00ffea"/><path d="M465.4 563.1 485.5 586.7 515 554 494.7 530.7 Z" fill="#00ffca"/><path d="M565.1 546.2 585.9 567.6 615.5 539.9 594.5 518.8 Z" fill="#00ff93"/><path d="M717.1 531.6 739.1 549.7 768.4 529.6 746.3 511.7 Z" fill="#00ff5c"/><path d="M768.4 529.6 790.8 546.7 819.9 529.2 797.3 512.3 Z" fill="#00ff50"/><path d="M819.9 529.2 842.7 545.1 871.6 530.2 848.6 514.4 Z" fill="#00ff47"/><path d="M386.7 611.2 406.5 636.1 435.9 598.3 416.1 573.7 Z" fill="#00d4ff"/><path d="M485.5 586.7 505.9 609.3 535.6 576.4 515 554 Z" fill="#00ffe2"/><path d="M535.6 576.4 556.3 598 585.9 567.6 565.1 546.2 Z" fill="#00ffc3"/><path d="M585.9 567.6 607.1 588.1 636.7 560.2 615.5 539.9 Z" fill="#00ffa7"/><path d="M636.7 560.2 658.2 579.6 687.8 554.2 666.1 535 Z" fill="#00ff8e"/><path d="M687.8 554.2 709.7 572.6 739.1 549.7 717.1 531.6 Z" fill="#00ff79"/><path d="M739.1 549.7 761.5 566.9 790.8 546.7 768.4 529.6 Z" fill="#00ff67"/><path d="M790.8 546.7 813.5 562.8 842.7 545.1 819.9 529.2 Z" fill="#00ff59"/><path d="M842.7 545.1 865.9 560.1 894.8 545 871.6 530.2 Z" fill="#00ff4e"/><path d="M435.9 598.3 456 622 485.5 586.7 465.4 563.1 Z" fill="#00faff"/><path d="M406.5 636.1 426.4 660.1 456 622 435.9 598.3 Z" fill="#00b9ff"/><path d="M456 622 476.2 645 505.9 609.3 485.5 586.7 Z" fill="#00e1ff"/><path d="M505.9 609.3 526.5 631.2 556.3 598 535.6 576.4 Z" fill="#00fff8"/><path d="M556.3 598 577.3 618.8 607.1 588.1 585.9 567.6 Z" fill="#00ffd6"/><path d="M607.1 588.1 628.4 607.8 658.2 579.6 636.7 560.2 Z" fill="#00ffb7"/><path d="M658.2 579.6 680 598.2 709.7 572.6 687.8 554.2 Z" fill="#00ff9c"/><path d="M709.7 572.6 731.9 590 761.5 566.9 739.1 549.7 Z" fill="#00ff85"/><path d="M761.5 566.9 784.1 583.3 813.5 562.8 790.8 546.7 Z" fill="#00ff70"/><path d="M813.5 562.8 836.6 578 865.9 560.1 842.7 545.1 Z" fill="#00ff5f"/><path d="M577.3 618.8 598.5 638.7 628.4 607.8 607.1 588.1 Z" fill="#00ffe7"/><path d="M731.9 590 754.4 606.6 784.1 583.3 761.5 566.9 Z" fill="#00ff8e"/><path d="M784.1 583.3 807.1 598.7 836.6 578 813.5 562.8 Z" fill="#0f7"/><path d="M426.4 660.1 446.5 683.3 476.2 645 456 622 Z" fill="#00a1ff"/><path d="M476.2 645 496.7 667.1 526.5 631.2 505.9 609.3 Z" fill="#0cf"/><path d="M526.5 631.2 547.4 652.2 577.3 618.8 556.3 598 Z" fill="#00f3ff"/><path d="M628.4 607.8 650.1 626.6 680 598.2 658.2 579.6 Z" fill="#00ffc6"/><path d="M680 598.2 702 615.9 731.9 590 709.7 572.6 Z" fill="#00ffa8"/><path d="M446.5 683.3 466.8 705.7 496.7 667.1 476.2 645 Z" fill="#008bff"/><path d="M547.4 652.2 568.5 672.4 598.5 638.7 577.3 618.8 Z" fill="#00e3ff"/><path d="M598.5 638.7 620 657.8 650.1 626.6 628.4 607.8 Z" fill="#00fff5"/><path d="M702 615.9 724.4 632.7 754.4 606.6 731.9 590 Z" fill="#00ffb1"/><path d="M754.4 606.6 777.2 622.2 807.1 598.7 784.1 583.3 Z" fill="#00ff94"/><path d="M496.7 667.1 517.4 688.4 547.4 652.2 526.5 631.2 Z" fill="#00b8ff"/><path d="M650.1 626.6 672 644.5 702 615.9 680 598.2 Z" fill="#00ffd1"/><path d="M466.8 705.7 487.4 727.3 517.4 688.4 496.7 667.1 Z" fill="#0078ff"/><path d="M620 657.8 641.8 676 672 644.5 650.1 626.6 Z" fill="#00feff"/><path d="M724.4 632.7 747.1 648.5 777.2 622.2 754.4 606.6 Z" fill="#00ffb8"/><path d="M517.4 688.4 538.4 708.9 568.5 672.4 547.4 652.2 Z" fill="#00a8ff"/><path d="M568.5 672.4 589.9 691.8 620 657.8 598.5 638.7 Z" fill="#00d4ff"/><path d="M672 644.5 694.3 661.6 724.4 632.7 702 615.9 Z" fill="#00ffda"/><path d="M487.4 727.3 508.2 748.1 538.4 708.9 517.4 688.4 Z" fill="#0067ff"/><path d="M589.9 691.8 611.5 710.2 641.8 676 620 657.8 Z" fill="#00c9ff"/><path d="M641.8 676 663.9 693.3 694.3 661.6 672 644.5 Z" fill="#00f4ff"/><path d="M694.3 661.6 716.8 677.7 747.1 648.5 724.4 632.7 Z" fill="#00ffe1"/><path d="M538.4 708.9 559.6 728.5 589.9 691.8 568.5 672.4 Z" fill="#09f"/><path d="M508.2 748.1 529.2 768 559.6 728.5 538.4 708.9 Z" fill="#0059ff"/><path d="M559.6 728.5 581 747.3 611.5 710.2 589.9 691.8 Z" fill="#008eff"/><path d="M611.5 710.2 633.4 727.8 663.9 693.3 641.8 676 Z" fill="#00bfff"/><path d="M663.9 693.3 686.3 709.7 716.8 677.7 694.3 661.6 Z" fill="#0ef"/><path d="M529.2 768 550.5 787.1 581 747.3 559.6 728.5 Z" fill="#004dff"/><path d="M581 747.3 602.8 765.2 633.4 727.8 611.5 710.2 Z" fill="#0085ff"/><path d="M633.4 727.8 655.7 744.6 686.3 709.7 663.9 693.3 Z" fill="#00b9ff"/><path d="M550.5 787.1 572.1 805.3 602.8 765.2 581 747.3 Z" fill="#04f"/><path d="M602.8 765.2 624.9 782.2 655.7 744.6 633.4 727.8 Z" fill="#007eff"/><path d="M572.1 805.3 594 822.6 624.9 782.2 602.8 765.2 Z" fill="#003dff"/></g>
<g fill="#000"><circle cx="214" cy="611.8" r="4.6"/><circle cx="207.1" cy="494.1" r="4.6"/><circle cx="200.1" cy="376.5" r="4.6"/><circle cx="193.2" cy="258.9" r="4.6"/><circle cx="186.2" cy="141.2" r="4.6"/><circle cx="222.5" cy="756.2" r="4.6"/><circle cx="316.1" cy="829.9" r="4.6"/><circle cx="733.6" cy="994.6" r="4.6"/><circle cx="409.6" cy="903.5" r="4.6"/><circle cx="870.5" cy="938.5" r="4.6"/><circle cx="503.2" cy="977.1" r="4.6"/><circle cx="1007.4" cy="882.4" r="4.6"/><circle cx="596.8" cy="1050.8" r="4.6"/><circle cx="1144.2" cy="826.2" r="4.6"/></g></g>
<g id="B1"><path d="M203 1828 L692.7 1652.3 L1153.8 1844.5 M196.2 1707.8 L692.9 1542.8 L1160.8 1723.2 M189.4 1587.5 L693.2 1433.4 L1167.9 1602 M182.6 1467.2 L693.5 1323.9 L1174.9 1480.8 M305.2 1313.9 L325.4 1784.1 M815.8 1250.8 L807.9 1700.3 M434.8 1280.8 L447.8 1740.1 M937.9 1287 L923.2 1748.4 M564.2 1247.6 L570.2 1696.2 M1059.9 1323.2 L1038.5 1796.4" fill="none" stroke="#222" stroke-width="2.1"/>
<path d="M175.8 1347 L693.8 1214.5 L1182 1359.5 M175.8 1347 L211.2 1976.8 M693.8 1214.5 L692 1789.4 M1182 1359.5 L1145.5 1995" fill="none" stroke="#0a0a0a" stroke-width="2.5" stroke-linejoin="round"/>
<path d="M211.2 1976.8 L654.5 2235.2 L1145.5 1995 L692 1789.4 Z" fill="#ffff80" stroke="#050505" stroke-width="2.5" stroke-linejoin="round"/>
<path d="M211.2 1976.8 L692 1789.4 L1145.5 1995" fill="none" stroke="#000" stroke-width="3.2" stroke-linejoin="round"/>
<path d="M436.2 2107.7 447.8 2105.2 459.9 2103 472.5 2101.1 485.5 2099.5 499 2098.1 513 2097.1 523.6 2096.5 534.8 2096 549.9 2095.6 560.5 2095.5 573.5 2095.5 586.1 2095.6 598 2095.9 610.5 2096.3 623.4 2096.8 634 2097.4 649.4 2098.3 658.9 2098.9 671.9 2099.8 686.5 2101 695.9 2101.8 708.5 2102.9 722.9 2104.3 734.6 2105.5 744.5 2106.5 758.4 2108.1 772.4 2109.7 785.1 2111.2 795.4 2112.4 807 2113.9 820.8 2115.7 834.5 2117.5 848.1 2119.3 859.6 2120.9 870.6 2122.5 882 2124.1" fill="none" stroke="#00ffb3" stroke-width="3.6"/>
<path d="M303.6 1940.2 315.3 1941.8 326.9 1943.5 338.5 1945.2 349.9 1947 361.3 1948.8 372.7 1950.6 383.2 1952.4 393.8 1954.1 404.5 1956 415.3 1957.9 426.2 1959.8 437.2 1961.7 448.3 1963.7 459.4 1965.8 470.7 1967.9 482 1970 493.5 1972.1 505 1974.3 516.6 1976.5 528.2 1978.8 539.9 1981.1 551 1983.2 562.2 1985.4 573.3 1987.6 584.4 1989.8 595.5 1992.1 606.7 1994.3 617.8 1996.5 629 1998.8 640.2 2001.1 651.4 2003.4 662.6 2005.7 673.8 2008 686.4 2010.6 699 2013.2 711.7 2015.8 724.5 2018.5 735.8 2020.8 747.1 2023.2 758.5 2025.6 769.9 2028 781.3 2030.4 792.7 2032.8 804.2 2035.2 815.6 2037.7 828.8 2040.5 842.1 2043.3 855.5 2046.2 867.5 2048.7 879.1 2051.2 890.7 2053.7 902.3 2056.2 914 2058.7 925.7 2061.2 937.4 2063.8 950.8 2066.7 964.7 2069.7 978.6 2072.7 984.6 2074" fill="none" stroke="#00ff2d" stroke-width="3.6"/>
<path d="M468.5 1876 477 1878.7 486.7 1881.7 498.6 1885.3 507.3 1888 520.4 1892 529.3 1894.6 539.1 1897.5 551.6 1901.2 560.6 1903.9 573.2 1907.6 583.3 1910.5 592.5 1913.1 606.3 1917.1 615.6 1919.7 624.9 1922.4 639 1926.4 648.4 1929 657.9 1931.6 672.2 1935.6 681.8 1938.3 691.5 1940.9 705.3 1944.7 715.7 1947.6 725.5 1950.2 737.7 1953.5 750.2 1956.9 760.1 1959.6 770.1 1962.2 785.1 1966.2 795.2 1968.9 805.3 1971.6 818.3 1975 830.8 1978.3 841.1 1981 851.4 1983.7 866.5 1987.6 877.3 1990.4 887.7 1993.1 898.7 1996 914 1999.9 924.6 2002.6 935.2 2005.4 946.9 2008.4 962 2012.2 972.7 2014.9 983.5 2017.7 995.3 2020.7 1010.7 2024.5 1021.6 2027.3 1032.6 2030.1 1043.9 2032.9 1060.1 2037 1060.2 2037" fill="none" stroke="#59ff00" stroke-width="3.6"/>
<path d="M562.2 1839.6 570.2 1842.4 582.2 1846.5 590.3 1849.2 602.5 1853.4 610.7 1856.1 623.1 1860.3 631.6 1863.1 644 1867.1 653.2 1870.1 665.2 1874 674.4 1877 686.7 1880.9 695.4 1883.7 708.5 1887.8 717.3 1890.6 730.6 1894.7 739.5 1897.5 753 1901.6 762 1904.4 775.6 1908.5 784.8 1911.3 795.1 1914.4 807.9 1918.2 817.2 1921 831.2 1925.1 840.6 1927.9 852.8 1931.5 864.3 1934.9 873.9 1937.7 888.3 1941.8 898 1944.6 909.4 1947.9 922.4 1951.6 932.2 1954.4 946.7 1958.5 957 1961.4 967 1964.3 982 1968.5 992.1 1971.3 1002.3 1974.1 1017.5 1978.4 1027.8 1981.2 1038.9 1984.3 1053.5 1988.3 1063.9 1991.1 1075.5 1994.3 1090.1 1998.3 1100.6 2001.1 1112 2004.2 1121.8 2006.9" fill="none" stroke="#deff00" stroke-width="3.6"/>
<path d="M633.4 1811.9 641.1 1814.7 652.7 1818.8 664.5 1823 672.3 1825.7 684.3 1829.9 692.2 1832.7 704.3 1836.8 716.5 1841 724.7 1843.8 737 1847.9 745.3 1850.7 757.8 1854.9 767.2 1857.9 778.9 1861.8 790.9 1865.7 800.3 1868.8 813.3 1873 822 1875.8 835.1 1880 843.9 1882.8 857.2 1887 866.1 1889.8 879.6 1894 888.6 1896.8 902.2 1901 911.4 1903.8 925 1908 934.4 1910.9 946.4 1914.5 957.7 1918 967.6 1920.9 981.3 1925 990.8 1927.9 1005.2 1932.2 1009.4 1933.4" fill="none" stroke="#ff9a00" stroke-width="3.6"/>
<g stroke="#000" stroke-width="2.3" stroke-linejoin="round"><path d="M670.5 1252.7 692 1261.9 715.3 1234.5 693.7 1225.5 Z" fill="#ff1b00"/><path d="M692 1261.9 713.8 1271.5 737.1 1243.8 715.3 1234.5 Z" fill="#ff2100"/><path d="M647.2 1279.1 668.6 1288.5 692 1261.9 670.5 1252.7 Z" fill="#ff4f00"/><path d="M623.7 1304.6 645.1 1314.2 668.6 1288.5 647.2 1279.1 Z" fill="#ff8000"/><path d="M668.6 1288.5 690.3 1298.2 713.8 1271.5 692 1261.9 Z" fill="#f50"/><path d="M713.8 1271.5 735.8 1281.3 759.2 1253.4 737.1 1243.8 Z" fill="#ff2900"/><path d="M600.1 1329.2 621.4 1339.1 645.1 1314.2 623.7 1304.6 Z" fill="#ffaf00"/><path d="M645.1 1314.2 666.8 1324.2 690.3 1298.2 668.6 1288.5 Z" fill="#ff8700"/><path d="M690.3 1298.2 712.3 1308.3 735.8 1281.3 713.8 1271.5 Z" fill="#ff5d00"/><path d="M735.8 1281.3 758.1 1291.4 781.5 1263.3 759.2 1253.4 Z" fill="#ff3000"/><path d="M621.4 1339.1 643 1349.2 666.8 1324.2 645.1 1314.2 Z" fill="#ffb600"/><path d="M576.3 1353 597.6 1363.1 621.4 1339.1 600.1 1329.2 Z" fill="#ffdb00"/><path d="M666.8 1324.2 688.7 1334.4 712.3 1308.3 690.3 1298.2 Z" fill="#ff8e00"/><path d="M712.3 1308.3 734.5 1318.6 758.1 1291.4 735.8 1281.3 Z" fill="#ff6400"/><path d="M758.1 1291.4 780.6 1301.8 804.1 1273.5 781.5 1263.3 Z" fill="#ff3800"/><path d="M597.6 1363.1 619.1 1373.4 643 1349.2 621.4 1339.1 Z" fill="#ffe200"/><path d="M643 1349.2 664.8 1359.7 688.7 1334.4 666.8 1324.2 Z" fill="#ffbd00"/><path d="M734.5 1318.6 757 1329.3 780.6 1301.8 758.1 1291.4 Z" fill="#ff6c00"/><path d="M552.3 1375.9 573.5 1386.2 597.6 1363.1 576.3 1353 Z" fill="#f9ff00"/><path d="M688.7 1334.4 710.8 1345 734.5 1318.6 712.3 1308.3 Z" fill="#ff9600"/><path d="M780.6 1301.8 803.4 1312.5 826.9 1284 804.1 1273.5 Z" fill="#ff4000"/><path d="M573.5 1386.2 595 1396.8 619.1 1373.4 597.6 1363.1 Z" fill="#f2ff00"/><path d="M710.8 1345 733.2 1355.8 757 1329.3 734.5 1318.6 Z" fill="#ff9e00"/><path d="M528.1 1398 549.3 1408.5 573.5 1386.2 552.3 1375.9 Z" fill="#d1ff00"/><path d="M619.1 1373.4 640.9 1384.1 664.8 1359.7 643 1349.2 Z" fill="#ffea00"/><path d="M664.8 1359.7 686.9 1370.5 710.8 1345 688.7 1334.4 Z" fill="#ffc500"/><path d="M757 1329.3 779.7 1340.2 803.4 1312.5 780.6 1301.8 Z" fill="#ff7500"/><path d="M803.4 1312.5 826.4 1323.6 850 1294.8 826.9 1284 Z" fill="#ff4900"/><path d="M503.7 1419.2 524.8 1429.9 549.3 1408.5 528.1 1398 Z" fill="#adff00"/><path d="M549.3 1408.5 570.7 1419.2 595 1396.8 573.5 1386.2 Z" fill="#caff00"/><path d="M595 1396.8 616.7 1407.6 640.9 1384.1 619.1 1373.4 Z" fill="#eaff00"/><path d="M686.9 1370.5 709.3 1381.5 733.2 1355.8 710.8 1345 Z" fill="#ffcd00"/><path d="M733.2 1355.8 755.9 1367 779.7 1340.2 757 1329.3 Z" fill="#ffa600"/><path d="M640.9 1384.1 662.9 1395.1 686.9 1370.5 664.8 1359.7 Z" fill="#fff100"/><path d="M779.7 1340.2 802.7 1351.5 826.4 1323.6 803.4 1312.5 Z" fill="#ff7e00"/><path d="M826.4 1323.6 849.7 1335 873.4 1306 850 1294.8 Z" fill="#ff5300"/><path d="M479.1 1439.6 500.1 1450.4 524.8 1429.9 503.7 1419.2 Z" fill="#8aff00"/><path d="M524.8 1429.9 546.2 1440.8 570.7 1419.2 549.3 1408.5 Z" fill="#a5ff00"/><path d="M570.7 1419.2 592.3 1430.3 616.7 1407.6 595 1396.8 Z" fill="#c3ff00"/><path d="M616.7 1407.6 638.7 1418.8 662.9 1395.1 640.9 1384.1 Z" fill="#e2ff00"/><path d="M662.9 1395.1 685.2 1406.4 709.3 1381.5 686.9 1370.5 Z" fill="#fffa00"/><path d="M709.3 1381.5 731.9 1393 755.9 1367 733.2 1355.8 Z" fill="#ffd600"/><path d="M755.9 1367 778.8 1378.5 802.7 1351.5 779.7 1340.2 Z" fill="#ffb000"/><path d="M802.7 1351.5 825.9 1363.1 849.7 1335 826.4 1323.6 Z" fill="#ff8700"/><path d="M849.7 1335 873.3 1346.7 897 1317.4 873.4 1306 Z" fill="#ff5c00"/><path d="M500.1 1450.4 521.4 1461.6 546.2 1440.8 524.8 1429.9 Z" fill="#83ff00"/><path d="M454.3 1459 475.3 1470.1 500.1 1450.4 479.1 1439.6 Z" fill="#6aff00"/><path d="M546.2 1440.8 567.8 1452.1 592.3 1430.3 570.7 1419.2 Z" fill="#9eff00"/><path d="M592.3 1430.3 614.2 1441.7 638.7 1418.8 616.7 1407.6 Z" fill="#bf0"/><path d="M638.7 1418.8 660.9 1430.4 685.2 1406.4 662.9 1395.1 Z" fill="#daff00"/><path d="M685.2 1406.4 707.7 1418 731.9 1393 709.3 1381.5 Z" fill="#fbff00"/><path d="M731.9 1393 754.7 1404.7 778.8 1378.5 755.9 1367 Z" fill="#ffdf00"/><path d="M778.8 1378.5 802 1390.4 825.9 1363.1 802.7 1351.5 Z" fill="#ffb900"/><path d="M825.9 1363.1 849.4 1375.1 873.3 1346.7 849.7 1335 Z" fill="#ff9100"/><path d="M873.3 1346.7 897.1 1358.7 920.9 1329.2 897 1317.4 Z" fill="#ff6700"/><path d="M475.3 1470.1 496.5 1481.4 521.4 1461.6 500.1 1450.4 Z" fill="#63ff00"/><path d="M521.4 1461.6 543 1473.1 567.8 1452.1 546.2 1440.8 Z" fill="#7bff00"/><path d="M614.2 1441.7 636.4 1453.4 660.9 1430.4 638.7 1418.8 Z" fill="#b2ff00"/><path d="M754.7 1404.7 777.9 1416.8 802 1390.4 778.8 1378.5 Z" fill="#ffe800"/><path d="M802 1390.4 825.4 1402.5 849.4 1375.1 825.9 1363.1 Z" fill="#ffc300"/><path d="M849.4 1375.1 873.2 1387.3 897.1 1358.7 873.3 1346.7 Z" fill="#ff9b00"/><path d="M567.8 1452.1 589.6 1463.7 614.2 1441.7 592.3 1430.3 Z" fill="#96ff00"/><path d="M660.9 1430.4 683.4 1442.2 707.7 1418 685.2 1406.4 Z" fill="#d1ff00"/><path d="M897.1 1358.7 921.2 1371.1 945.1 1341.4 920.9 1329.2 Z" fill="#ff7100"/><path d="M429.2 1477.6 450.1 1488.9 475.3 1470.1 454.3 1459 Z" fill="#4dff00"/><path d="M707.7 1418 730.5 1430 754.7 1404.7 731.9 1393 Z" fill="#f2ff00"/><path d="M589.6 1463.7 611.7 1475.7 636.4 1453.4 614.2 1441.7 Z" fill="#8dff00"/><path d="M403.9 1495.4 424.7 1506.8 450.1 1488.9 429.2 1477.6 Z" fill="#32ff00"/><path d="M450.1 1488.9 471.3 1500.4 496.5 1481.4 475.3 1470.1 Z" fill="#46ff00"/><path d="M496.5 1481.4 518 1493.1 543 1473.1 521.4 1461.6 Z" fill="#5bff00"/><path d="M543 1473.1 564.8 1484.9 589.6 1463.7 567.8 1452.1 Z" fill="#73ff00"/><path d="M636.4 1453.4 658.8 1465.5 683.4 1442.2 660.9 1430.4 Z" fill="#a9ff00"/><path d="M683.4 1442.2 706.1 1454.4 730.5 1430 707.7 1418 Z" fill="#c8ff00"/><path d="M730.5 1430 753.6 1442.3 777.9 1416.8 754.7 1404.7 Z" fill="#e9ff00"/><path d="M777.9 1416.8 801.2 1429.2 825.4 1402.5 802 1390.4 Z" fill="#fff200"/><path d="M825.4 1402.5 849.1 1415.1 873.2 1387.3 849.4 1375.1 Z" fill="#ffcd00"/><path d="M873.2 1387.3 897.3 1399.9 921.2 1371.1 897.1 1358.7 Z" fill="#ffa600"/><path d="M921.2 1371.1 945.6 1383.8 969.6 1353.8 945.1 1341.4 Z" fill="#ff7d00"/><path d="M424.7 1506.8 445.9 1518.5 471.3 1500.4 450.1 1488.9 Z" fill="#2bff00"/><path d="M564.8 1484.9 586.9 1497 611.7 1475.7 589.6 1463.7 Z" fill="#6bff00"/><path d="M801.2 1429.2 824.9 1441.9 849.1 1415.1 825.4 1402.5 Z" fill="#fffd00"/><path d="M611.7 1475.7 634.1 1487.9 658.8 1465.5 636.4 1453.4 Z" fill="#84ff00"/><path d="M849.1 1415.1 873.1 1427.9 897.3 1399.9 873.2 1387.3 Z" fill="#ffd800"/><path d="M378.3 1512.2 399.1 1523.8 424.7 1506.8 403.9 1495.4 Z" fill="#1aff00"/><path d="M471.3 1500.4 492.8 1512.3 518 1493.1 496.5 1481.4 Z" fill="#3eff00"/><path d="M518 1493.1 539.7 1505.1 564.8 1484.9 543 1473.1 Z" fill="#53ff00"/><path d="M658.8 1465.5 681.5 1477.9 706.1 1454.4 683.4 1442.2 Z" fill="#a0ff00"/><path d="M706.1 1454.4 729.1 1466.9 753.6 1442.3 730.5 1430 Z" fill="#beff00"/><path d="M753.6 1442.3 776.9 1454.9 801.2 1429.2 777.9 1416.8 Z" fill="#dfff00"/><path d="M897.3 1399.9 921.6 1412.9 945.6 1383.8 921.2 1371.1 Z" fill="#ffb100"/><path d="M945.6 1383.8 970.3 1396.9 994.3 1366.6 969.6 1353.8 Z" fill="#f80"/><path d="M352.4 1528.2 373.2 1540 399.1 1523.8 378.3 1512.2 Z" fill="#04ff00"/><path d="M399.1 1523.8 420.2 1535.7 445.9 1518.5 424.7 1506.8 Z" fill="#12ff00"/><path d="M445.9 1518.5 467.3 1530.6 492.8 1512.3 471.3 1500.4 Z" fill="#23ff00"/><path d="M539.7 1505.1 561.8 1517.5 586.9 1497 564.8 1484.9 Z" fill="#4aff00"/><path d="M586.9 1497 609.2 1509.5 634.1 1487.9 611.7 1475.7 Z" fill="#61ff00"/><path d="M634.1 1487.9 656.8 1500.6 681.5 1477.9 658.8 1465.5 Z" fill="#7bff00"/><path d="M681.5 1477.9 704.5 1490.6 729.1 1466.9 706.1 1454.4 Z" fill="#96ff00"/><path d="M729.1 1466.9 752.4 1479.8 776.9 1454.9 753.6 1442.3 Z" fill="#b4ff00"/><path d="M776.9 1454.9 800.5 1467.9 824.9 1441.9 801.2 1429.2 Z" fill="#d4ff00"/><path d="M824.9 1441.9 848.9 1455 873.1 1427.9 849.1 1415.1 Z" fill="#f6ff00"/><path d="M873.1 1427.9 897.4 1441.1 921.6 1412.9 897.3 1399.9 Z" fill="#ffe400"/><path d="M921.6 1412.9 946.2 1426.2 970.3 1396.9 945.6 1383.8 Z" fill="#ffbd00"/><path d="M970.3 1396.9 995.2 1410.3 1019.3 1379.8 994.3 1366.6 Z" fill="#ff9400"/><path d="M492.8 1512.3 514.5 1524.5 539.7 1505.1 518 1493.1 Z" fill="#35ff00"/><path d="M373.2 1540 394.2 1552.1 420.2 1535.7 399.1 1523.8 Z" fill="#00ff04"/><path d="M326.2 1543.2 347 1555.2 373.2 1540 352.4 1528.2 Z" fill="#00ff0f"/><path d="M420.2 1535.7 441.5 1548 467.3 1530.6 445.9 1518.5 Z" fill="#0aff00"/><path d="M514.5 1524.5 536.4 1537.1 561.8 1517.5 539.7 1505.1 Z" fill="#2dff00"/><path d="M561.8 1517.5 584 1530.2 609.2 1509.5 586.9 1497 Z" fill="#41ff00"/><path d="M609.2 1509.5 631.8 1522.3 656.8 1500.6 634.1 1487.9 Z" fill="#58ff00"/><path d="M656.8 1500.6 679.7 1513.5 704.5 1490.6 681.5 1477.9 Z" fill="#71ff00"/><path d="M704.5 1490.6 727.7 1503.7 752.4 1479.8 729.1 1466.9 Z" fill="#8cff00"/><path d="M752.4 1479.8 776 1493 800.5 1467.9 776.9 1454.9 Z" fill="#a9ff00"/><path d="M800.5 1467.9 824.4 1481.2 848.9 1455 824.9 1441.9 Z" fill="#c9ff00"/><path d="M848.9 1455 873.1 1468.5 897.4 1441.1 873.1 1427.9 Z" fill="#ebff00"/><path d="M897.4 1441.1 922 1454.7 946.2 1426.2 921.6 1412.9 Z" fill="#ffef00"/><path d="M946.2 1426.2 971.1 1439.9 995.2 1410.3 970.3 1396.9 Z" fill="#ffc900"/><path d="M995.2 1410.3 1020.5 1424.1 1044.6 1393.3 1019.3 1379.8 Z" fill="#ffa100"/><path d="M467.3 1530.6 488.9 1543 514.5 1524.5 492.8 1512.3 Z" fill="#1aff00"/><path d="M347 1555.2 368 1567.5 394.2 1552.1 373.2 1540 Z" fill="#00ff17"/><path d="M394.2 1552.1 415.5 1564.5 441.5 1548 420.2 1535.7 Z" fill="#00ff0c"/><path d="M488.9 1543 510.8 1555.8 536.4 1537.1 514.5 1524.5 Z" fill="#12ff00"/><path d="M631.8 1522.3 654.6 1535.5 679.7 1513.5 656.8 1500.6 Z" fill="#4eff00"/><path d="M679.7 1513.5 702.9 1526.8 727.7 1503.7 704.5 1490.6 Z" fill="#67ff00"/><path d="M727.7 1503.7 751.2 1517.2 776 1493 752.4 1479.8 Z" fill="#81ff00"/><path d="M776 1493 799.8 1506.5 824.4 1481.2 800.5 1467.9 Z" fill="#9eff00"/><path d="M873.1 1468.5 897.6 1482.3 922 1454.7 897.4 1441.1 Z" fill="#dfff00"/><path d="M922 1454.7 946.8 1468.6 971.1 1439.9 946.2 1426.2 Z" fill="#fffc00"/><path d="M971.1 1439.9 996.3 1453.9 1020.5 1424.1 995.2 1410.3 Z" fill="#ffd600"/><path d="M1020.5 1424.1 1046 1438.2 1070.2 1407.2 1044.6 1393.3 Z" fill="#ffae00"/><path d="M441.5 1548 463.1 1560.6 488.9 1543 467.3 1530.6 Z" fill="#02ff00"/><path d="M536.4 1537.1 558.6 1550 584 1530.2 561.8 1517.5 Z" fill="#23ff00"/><path d="M584 1530.2 606.6 1543.2 631.8 1522.3 609.2 1509.5 Z" fill="#38ff00"/><path d="M299.8 1557.4 320.5 1569.5 347 1555.2 326.2 1543.2 Z" fill="#00ff20"/><path d="M824.4 1481.2 848.6 1494.9 873.1 1468.5 848.9 1455 Z" fill="#bdff00"/><path d="M463.1 1560.6 485 1573.6 510.8 1555.8 488.9 1543 Z" fill="#00ff07"/><path d="M654.6 1535.5 677.8 1549 702.9 1526.8 679.7 1513.5 Z" fill="#4f0"/><path d="M702.9 1526.8 726.3 1540.5 751.2 1517.2 727.7 1503.7 Z" fill="#5cff00"/><path d="M273 1570.6 293.6 1582.9 320.5 1569.5 299.8 1557.4 Z" fill="#00ff2f"/><path d="M320.5 1569.5 341.4 1582 368 1567.5 347 1555.2 Z" fill="#00ff28"/><path d="M368 1567.5 389.2 1580.1 415.5 1564.5 394.2 1552.1 Z" fill="#00ff1f"/><path d="M751.2 1517.2 775 1531 799.8 1506.5 776 1493 Z" fill="#76ff00"/><path d="M897.6 1482.3 922.4 1496.4 946.8 1468.6 922 1454.7 Z" fill="#d2ff00"/><path d="M946.8 1468.6 971.9 1482.9 996.3 1453.9 971.1 1439.9 Z" fill="#f6ff00"/><path d="M996.3 1453.9 1021.7 1468.3 1046 1438.2 1020.5 1424.1 Z" fill="#ffe300"/><path d="M415.5 1564.5 437.1 1577.3 463.1 1560.6 441.5 1548 Z" fill="#00ff14"/><path d="M510.8 1555.8 533 1568.9 558.6 1550 536.4 1537.1 Z" fill="#08ff00"/><path d="M606.6 1543.2 629.4 1556.6 654.6 1535.5 631.8 1522.3 Z" fill="#2eff00"/><path d="M558.6 1550 581.1 1563.2 606.6 1543.2 584 1530.2 Z" fill="#1aff00"/><path d="M799.8 1506.5 823.9 1520.5 848.6 1494.9 824.4 1481.2 Z" fill="#93ff00"/><path d="M848.6 1494.9 873 1508.9 897.6 1482.3 873.1 1468.5 Z" fill="#b1ff00"/><path d="M1046 1438.2 1071.8 1452.7 1096 1421.5 1070.2 1407.2 Z" fill="#fb0"/><path d="M293.6 1582.9 314.5 1595.6 341.4 1582 320.5 1569.5 Z" fill="#00ff36"/><path d="M437.1 1577.3 458.9 1590.5 485 1573.6 463.1 1560.6 Z" fill="#00ff1d"/><path d="M677.8 1549 701.2 1562.9 726.3 1540.5 702.9 1526.8 Z" fill="#39ff00"/><path d="M726.3 1540.5 750.1 1554.5 775 1531 751.2 1517.2 Z" fill="#50ff00"/><path d="M922.4 1496.4 947.4 1511 971.9 1482.9 946.8 1468.6 Z" fill="#c6ff00"/><path d="M971.9 1482.9 997.3 1497.5 1021.7 1468.3 996.3 1453.9 Z" fill="#e8ff00"/><path d="M485 1573.6 507.1 1586.9 533 1568.9 510.8 1555.8 Z" fill="#00ff10"/><path d="M629.4 1556.6 652.5 1570.4 677.8 1549 654.6 1535.5 Z" fill="#23ff00"/><path d="M245.9 1582.9 266.5 1595.4 293.6 1582.9 273 1570.6 Z" fill="#00ff3a"/><path d="M341.4 1582 362.6 1594.8 389.2 1580.1 368 1567.5 Z" fill="#00ff30"/><path d="M389.2 1580.1 410.7 1593.1 437.1 1577.3 415.5 1564.5 Z" fill="#00ff28"/><path d="M533 1568.9 555.5 1582.3 581.1 1563.2 558.6 1550 Z" fill="#00ff01"/><path d="M581.1 1563.2 603.9 1576.8 629.4 1556.6 606.6 1543.2 Z" fill="#10ff00"/><path d="M775 1531 799.1 1545.1 823.9 1520.5 799.8 1506.5 Z" fill="#6aff00"/><path d="M823.9 1520.5 848.3 1534.7 873 1508.9 848.6 1494.9 Z" fill="#87ff00"/><path d="M873 1508.9 897.8 1523.4 922.4 1496.4 897.6 1482.3 Z" fill="#a5ff00"/><path d="M1021.7 1468.3 1047.5 1483.1 1071.8 1452.7 1046 1438.2 Z" fill="#fff100"/><path d="M1071.8 1452.7 1097.9 1467.6 1122.2 1436.1 1096 1421.5 Z" fill="#ffc900"/><path d="M266.5 1595.4 287.3 1608.3 314.5 1595.6 293.6 1582.9 Z" fill="#00ff42"/><path d="M314.5 1595.6 335.6 1608.6 362.6 1594.8 341.4 1582 Z" fill="#00ff3f"/><path d="M410.7 1593.1 432.5 1606.5 458.9 1590.5 437.1 1577.3 Z" fill="#00ff31"/><path d="M701.2 1562.9 724.9 1577.2 750.1 1554.5 726.3 1540.5 Z" fill="#2dff00"/><path d="M947.4 1511 972.8 1525.9 997.3 1497.5 971.9 1482.9 Z" fill="#b8ff00"/><path d="M458.9 1590.5 481 1604 507.1 1586.9 485 1573.6 Z" fill="#00ff27"/><path d="M652.5 1570.4 675.8 1584.5 701.2 1562.9 677.8 1549 Z" fill="#18ff00"/><path d="M507.1 1586.9 529.5 1600.6 555.5 1582.3 533 1568.9 Z" fill="#00ff1a"/><path d="M555.5 1582.3 578.2 1596.2 603.9 1576.8 581.1 1563.2 Z" fill="#00ff0c"/><path d="M603.9 1576.8 626.9 1590.8 652.5 1570.4 629.4 1556.6 Z" fill="#05ff00"/><path d="M750.1 1554.5 774.1 1568.9 799.1 1545.1 775 1531 Z" fill="#45ff00"/><path d="M799.1 1545.1 823.4 1559.7 848.3 1534.7 823.9 1520.5 Z" fill="#5eff00"/><path d="M848.3 1534.7 873 1549.4 897.8 1523.4 873 1508.9 Z" fill="#7aff00"/><path d="M897.8 1523.4 922.8 1538.1 947.4 1511 922.4 1496.4 Z" fill="#98ff00"/><path d="M997.3 1497.5 1023 1512.6 1047.5 1483.1 1021.7 1468.3 Z" fill="#dbff00"/><path d="M1047.5 1483.1 1073.5 1498.3 1097.9 1467.6 1071.8 1452.7 Z" fill="#ff0"/><path d="M1097.9 1467.6 1124.3 1482.9 1148.7 1451.1 1122.2 1436.1 Z" fill="#ffd800"/><path d="M218.4 1594.3 239 1607 266.5 1595.4 245.9 1582.9 Z" fill="#0f4"/><path d="M362.6 1594.8 384 1608 410.7 1593.1 389.2 1580.1 Z" fill="#00ff39"/><path d="M190.6 1604.8 211.1 1617.6 239 1607 218.4 1594.3 Z" fill="#00ff4b"/><path d="M239 1607 259.7 1620 287.3 1608.3 266.5 1595.4 Z" fill="#00ff4c"/><path d="M287.3 1608.3 308.4 1621.5 335.6 1608.6 314.5 1595.6 Z" fill="#00ff4b"/><path d="M335.6 1608.6 357.1 1622 384 1608 362.6 1594.8 Z" fill="#00ff47"/><path d="M384 1608 405.8 1621.6 432.5 1606.5 410.7 1593.1 Z" fill="#00ff42"/><path d="M432.5 1606.5 454.5 1620.2 481 1604 458.9 1590.5 Z" fill="#00ff3a"/><path d="M481 1604 503.3 1617.9 529.5 1600.6 507.1 1586.9 Z" fill="#00ff31"/><path d="M529.5 1600.6 552.2 1614.6 578.2 1596.2 555.5 1582.3 Z" fill="#00ff25"/><path d="M578.2 1596.2 601.2 1610.3 626.9 1590.8 603.9 1576.8 Z" fill="#00ff16"/><path d="M626.9 1590.8 650.3 1605.1 675.8 1584.5 652.5 1570.4 Z" fill="#00ff06"/><path d="M675.8 1584.5 699.5 1599 724.9 1577.2 701.2 1562.9 Z" fill="#0dff00"/><path d="M724.9 1577.2 748.8 1591.8 774.1 1568.9 750.1 1554.5 Z" fill="#2f0"/><path d="M774.1 1568.9 798.4 1583.7 823.4 1559.7 799.1 1545.1 Z" fill="#39ff00"/><path d="M823.4 1559.7 848.1 1574.6 873 1549.4 848.3 1534.7 Z" fill="#52ff00"/><path d="M873 1549.4 898 1564.4 922.8 1538.1 897.8 1523.4 Z" fill="#6dff00"/><path d="M922.8 1538.1 948.1 1553.3 972.8 1525.9 947.4 1511 Z" fill="#8bff00"/><path d="M972.8 1525.9 998.4 1541.2 1023 1512.6 997.3 1497.5 Z" fill="#abff00"/><path d="M1023 1512.6 1049 1528 1073.5 1498.3 1047.5 1483.1 Z" fill="#cdff00"/><path d="M1073.5 1498.3 1099.9 1513.8 1124.3 1482.9 1097.9 1467.6 Z" fill="#f1ff00"/><path d="M1124.3 1482.9 1151.1 1498.5 1175.4 1466.4 1148.7 1451.1 Z" fill="#ffe700"/><path d="M211.1 1617.6 231.8 1630.8 259.7 1620 239 1607 Z" fill="#00ff53"/><path d="M357.1 1622 378.7 1635.7 405.8 1621.6 384 1608 Z" fill="#00ff51"/><path d="M503.3 1617.9 525.9 1632.1 552.2 1614.6 529.5 1600.6 Z" fill="#00ff3b"/><path d="M552.2 1614.6 575.1 1629 601.2 1610.3 578.2 1596.2 Z" fill="#00ff2f"/><path d="M601.2 1610.3 624.4 1624.9 650.3 1605.1 626.9 1590.8 Z" fill="#00ff21"/><path d="M748.8 1591.8 773.1 1606.8 798.4 1583.7 774.1 1568.9 Z" fill="#15ff00"/><path d="M798.4 1583.7 823 1598.8 848.1 1574.6 823.4 1559.7 Z" fill="#2cff00"/><path d="M848.1 1574.6 873 1589.8 898 1564.4 873 1549.4 Z" fill="#45ff00"/><path d="M898 1564.4 923.2 1579.9 948.1 1553.3 922.8 1538.1 Z" fill="#60ff00"/><path d="M998.4 1541.2 1024.4 1556.8 1049 1528 1023 1512.6 Z" fill="#9dff00"/><path d="M1049 1528 1075.3 1543.8 1099.9 1513.8 1073.5 1498.3 Z" fill="#beff00"/><path d="M1099.9 1513.8 1126.6 1529.7 1151.1 1498.5 1124.3 1482.9 Z" fill="#e2ff00"/><path d="M454.5 1620.2 476.8 1634.3 503.3 1617.9 481 1604 Z" fill="#0f4"/><path d="M650.3 1605.1 673.9 1619.8 699.5 1599 675.8 1584.5 Z" fill="#0f1"/><path d="M259.7 1620 280.8 1633.4 308.4 1621.5 287.3 1608.3 Z" fill="#00ff54"/><path d="M308.4 1621.5 329.7 1635 357.1 1622 335.6 1608.6 Z" fill="#00ff54"/><path d="M405.8 1621.6 427.7 1635.5 454.5 1620.2 432.5 1606.5 Z" fill="#00ff4c"/><path d="M699.5 1599 723.4 1613.8 748.8 1591.8 724.9 1577.2 Z" fill="#01ff00"/><path d="M948.1 1553.3 973.7 1568.9 998.4 1541.2 972.8 1525.9 Z" fill="#7dff00"/><path d="M231.8 1630.8 252.8 1644.3 280.8 1633.4 259.7 1620 Z" fill="#00ff5b"/><path d="M329.7 1635 351.4 1649 378.7 1635.7 357.1 1622 Z" fill="#00ff5d"/><path d="M378.7 1635.7 400.7 1649.8 427.7 1635.5 405.8 1621.6 Z" fill="#00ff5a"/><path d="M525.9 1632.1 548.8 1646.7 575.1 1629 552.2 1614.6 Z" fill="#00ff46"/><path d="M575.1 1629 598.4 1643.8 624.4 1624.9 601.2 1610.3 Z" fill="#00ff3b"/><path d="M773.1 1606.8 797.6 1622.2 823 1598.8 798.4 1583.7 Z" fill="#09ff00"/><path d="M823 1598.8 847.8 1614.4 873 1589.8 848.1 1574.6 Z" fill="#1fff00"/><path d="M873 1589.8 898.2 1605.5 923.2 1579.9 898 1564.4 Z" fill="#37ff00"/><path d="M1024.4 1556.8 1050.6 1572.9 1075.3 1543.8 1049 1528 Z" fill="#8eff00"/><path d="M1075.3 1543.8 1101.9 1560 1126.6 1529.7 1099.9 1513.8 Z" fill="#afff00"/><path d="M476.8 1634.3 499.4 1648.7 525.9 1632.1 503.3 1617.9 Z" fill="#00ff4f"/><path d="M624.4 1624.9 648 1639.8 673.9 1619.8 650.3 1605.1 Z" fill="#00ff2d"/><path d="M723.4 1613.8 747.6 1629.1 773.1 1606.8 748.8 1591.8 Z" fill="#00ff0c"/><path d="M923.2 1579.9 948.8 1595.7 973.7 1568.9 948.1 1553.3 Z" fill="#52ff00"/><path d="M973.7 1568.9 999.6 1584.8 1024.4 1556.8 998.4 1541.2 Z" fill="#6fff00"/><path d="M427.7 1635.5 450 1649.8 476.8 1634.3 454.5 1620.2 Z" fill="#00ff56"/><path d="M673.9 1619.8 697.7 1634.9 723.4 1613.8 699.5 1599 Z" fill="#00ff1d"/><path d="M280.8 1633.4 302.1 1647.1 329.7 1635 308.4 1621.5 Z" fill="#00ff5d"/><path d="M548.8 1646.7 572 1661.7 598.4 1643.8 575.1 1629 Z" fill="#00ff51"/><path d="M797.6 1622.2 822.5 1638 847.8 1614.4 823 1598.8 Z" fill="#00ff05"/><path d="M847.8 1614.4 873 1630.3 898.2 1605.5 873 1589.8 Z" fill="#1f0"/><path d="M1050.6 1572.9 1077.2 1589.4 1101.9 1560 1075.3 1543.8 Z" fill="#7fff00"/><path d="M400.7 1649.8 422.9 1664.3 450 1649.8 427.7 1635.5 Z" fill="#00ff65"/><path d="M499.4 1648.7 522.3 1663.5 548.8 1646.7 525.9 1632.1 Z" fill="#00ff5a"/><path d="M598.4 1643.8 621.9 1658.9 648 1639.8 624.4 1624.9 Z" fill="#00ff46"/><path d="M252.8 1644.3 274.1 1658.3 302.1 1647.1 280.8 1633.4 Z" fill="#00ff64"/><path d="M302.1 1647.1 323.7 1661.2 351.4 1649 329.7 1635 Z" fill="#0f6"/><path d="M351.4 1649 373.3 1663.3 400.7 1649.8 378.7 1635.7 Z" fill="#00ff67"/><path d="M747.6 1629.1 772.1 1644.7 797.6 1622.2 773.1 1606.8 Z" fill="#00ff18"/><path d="M898.2 1605.5 923.7 1621.6 948.8 1595.7 923.2 1579.9 Z" fill="#29ff00"/><path d="M948.8 1595.7 974.7 1611.9 999.6 1584.8 973.7 1568.9 Z" fill="#4f0"/><path d="M999.6 1584.8 1025.8 1601.1 1050.6 1572.9 1024.4 1556.8 Z" fill="#60ff00"/><path d="M450 1649.8 472.5 1664.4 499.4 1648.7 476.8 1634.3 Z" fill="#00ff60"/><path d="M648 1639.8 671.8 1655.1 697.7 1634.9 673.9 1619.8 Z" fill="#00ff39"/><path d="M697.7 1634.9 721.9 1650.4 747.6 1629.1 723.4 1613.8 Z" fill="#00ff2a"/><path d="M274.1 1658.3 295.6 1672.6 323.7 1661.2 302.1 1647.1 Z" fill="#00ff6e"/><path d="M822.5 1638 847.6 1654.1 873 1630.3 847.8 1614.4 Z" fill="#00ff12"/><path d="M422.9 1664.3 445.4 1679.2 472.5 1664.4 450 1649.8 Z" fill="#00ff6f"/><path d="M522.3 1663.5 545.4 1678.7 572 1661.7 548.8 1646.7 Z" fill="#00ff65"/><path d="M572 1661.7 595.5 1677.1 621.9 1658.9 598.4 1643.8 Z" fill="#00ff5d"/><path d="M772.1 1644.7 796.9 1660.7 822.5 1638 797.6 1622.2 Z" fill="#00ff26"/><path d="M873 1630.3 898.5 1646.6 923.7 1621.6 898.2 1605.5 Z" fill="#03ff00"/><path d="M923.7 1621.6 949.6 1638 974.7 1611.9 948.8 1595.7 Z" fill="#1bff00"/><path d="M974.7 1611.9 1000.8 1628.5 1025.8 1601.1 999.6 1584.8 Z" fill="#35ff00"/><path d="M1025.8 1601.1 1052.3 1617.9 1077.2 1589.4 1050.6 1572.9 Z" fill="#51ff00"/><path d="M373.3 1663.3 395.4 1677.9 422.9 1664.3 400.7 1649.8 Z" fill="#00ff71"/><path d="M472.5 1664.4 495.4 1679.4 522.3 1663.5 499.4 1648.7 Z" fill="#00ff6b"/><path d="M621.9 1658.9 645.7 1674.4 671.8 1655.1 648 1639.8 Z" fill="#00ff52"/><path d="M671.8 1655.1 696 1670.8 721.9 1650.4 697.7 1634.9 Z" fill="#00ff46"/><path d="M721.9 1650.4 746.4 1666.3 772.1 1644.7 747.6 1629.1 Z" fill="#00ff37"/><path d="M323.7 1661.2 345.5 1675.7 373.3 1663.3 351.4 1649 Z" fill="#00ff70"/><path d="M445.4 1679.2 468.2 1694.4 495.4 1679.4 472.5 1664.4 Z" fill="#00ff7a"/><path d="M295.6 1672.6 317.4 1687.2 345.5 1675.7 323.7 1661.2 Z" fill="#00ff78"/><path d="M395.4 1677.9 417.9 1693 445.4 1679.2 422.9 1664.3 Z" fill="#00ff7b"/><path d="M495.4 1679.4 518.5 1694.8 545.4 1678.7 522.3 1663.5 Z" fill="#0f7"/><path d="M545.4 1678.7 568.8 1694.3 595.5 1677.1 572 1661.7 Z" fill="#00ff71"/><path d="M595.5 1677.1 619.3 1692.8 645.7 1674.4 621.9 1658.9 Z" fill="#00ff69"/><path d="M645.7 1674.4 669.8 1690.4 696 1670.8 671.8 1655.1 Z" fill="#00ff5f"/><path d="M696 1670.8 720.4 1686.9 746.4 1666.3 721.9 1650.4 Z" fill="#00ff53"/><path d="M746.4 1666.3 771.1 1682.5 796.9 1660.7 772.1 1644.7 Z" fill="#0f4"/><path d="M796.9 1660.7 822 1677.1 847.6 1654.1 822.5 1638 Z" fill="#0f3"/><path d="M847.6 1654.1 873.1 1670.7 898.5 1646.6 873 1630.3 Z" fill="#00ff20"/><path d="M898.5 1646.6 924.3 1663.3 949.6 1638 923.7 1621.6 Z" fill="#00ff0b"/><path d="M949.6 1638 975.7 1654.9 1000.8 1628.5 974.7 1611.9 Z" fill="#0cff00"/><path d="M1000.8 1628.5 1027.3 1645.5 1052.3 1617.9 1025.8 1601.1 Z" fill="#26ff00"/><path d="M345.5 1675.7 367.7 1690.6 395.4 1677.9 373.3 1663.3 Z" fill="#00ff7b"/><path d="M468.2 1694.4 491.2 1710 518.5 1694.8 495.4 1679.4 Z" fill="#00ff86"/><path d="M873.1 1670.7 898.8 1687.7 924.3 1663.3 898.5 1646.6 Z" fill="#00ff2f"/><path d="M924.3 1663.3 950.3 1680.4 975.7 1654.9 949.6 1638 Z" fill="#00ff1a"/><path d="M975.7 1654.9 1002.1 1672.2 1027.3 1645.5 1000.8 1628.5 Z" fill="#00ff03"/><path d="M317.4 1687.2 339.5 1702.3 367.7 1690.6 345.5 1675.7 Z" fill="#00ff82"/><path d="M367.7 1690.6 390.1 1705.8 417.9 1693 395.4 1677.9 Z" fill="#00ff85"/><path d="M417.9 1693 440.6 1708.4 468.2 1694.4 445.4 1679.2 Z" fill="#00ff87"/><path d="M518.5 1694.8 541.9 1710.7 568.8 1694.3 545.4 1678.7 Z" fill="#00ff83"/><path d="M568.8 1694.3 592.6 1710.3 619.3 1692.8 595.5 1677.1 Z" fill="#00ff7d"/><path d="M619.3 1692.8 643.3 1709 669.8 1690.4 645.7 1674.4 Z" fill="#00ff76"/><path d="M669.8 1690.4 694.2 1706.7 720.4 1686.9 696 1670.8 Z" fill="#00ff6c"/><path d="M720.4 1686.9 745.1 1703.4 771.1 1682.5 746.4 1666.3 Z" fill="#00ff60"/><path d="M771.1 1682.5 796.2 1699.2 822 1677.1 796.9 1660.7 Z" fill="#00ff52"/><path d="M822 1677.1 847.4 1693.9 873.1 1670.7 847.6 1654.1 Z" fill="#00ff41"/><path d="M339.5 1702.3 361.9 1717.8 390.1 1705.8 367.7 1690.6 Z" fill="#00ff8d"/><path d="M440.6 1708.4 463.7 1724.3 491.2 1710 468.2 1694.4 Z" fill="#00ff92"/><path d="M491.2 1710 514.6 1726 541.9 1710.7 518.5 1694.8 Z" fill="#00ff92"/><path d="M643.3 1709 667.7 1725.6 694.2 1706.7 669.8 1690.4 Z" fill="#00ff83"/><path d="M694.2 1706.7 718.8 1723.4 745.1 1703.4 720.4 1686.9 Z" fill="#00ff79"/><path d="M745.1 1703.4 770.1 1720.3 796.2 1699.2 771.1 1682.5 Z" fill="#00ff6e"/><path d="M898.8 1687.7 924.8 1705.1 950.3 1680.4 924.3 1663.3 Z" fill="#00ff3e"/><path d="M950.3 1680.4 976.7 1698 1002.1 1672.2 975.7 1654.9 Z" fill="#00ff2a"/><path d="M592.6 1710.3 616.6 1726.7 643.3 1709 619.3 1692.8 Z" fill="#00ff8a"/><path d="M847.4 1693.9 873.1 1711.1 898.8 1687.7 873.1 1670.7 Z" fill="#00ff50"/><path d="M390.1 1705.8 412.8 1721.5 440.6 1708.4 417.9 1693 Z" fill="#00ff91"/><path d="M541.9 1710.7 565.6 1726.9 592.6 1710.3 568.8 1694.3 Z" fill="#00ff8f"/><path d="M796.2 1699.2 821.5 1716.2 847.4 1693.9 822 1677.1 Z" fill="#00ff60"/><path d="M924.8 1705.1 951.2 1722.9 976.7 1698 950.3 1680.4 Z" fill="#00ff4d"/><path d="M361.9 1717.8 384.5 1733.6 412.8 1721.5 390.1 1705.8 Z" fill="#00ff98"/><path d="M412.8 1721.5 435.8 1737.5 463.7 1724.3 440.6 1708.4 Z" fill="#00ff9c"/><path d="M463.7 1724.3 487 1740.5 514.6 1726 491.2 1710 Z" fill="#00ff9e"/><path d="M514.6 1726 538.2 1742.5 565.6 1726.9 541.9 1710.7 Z" fill="#00ff9e"/><path d="M616.6 1726.7 640.9 1743.5 667.7 1725.6 643.3 1709 Z" fill="#00ff97"/><path d="M667.7 1725.6 692.3 1742.5 718.8 1723.4 694.2 1706.7 Z" fill="#00ff90"/><path d="M718.8 1723.4 743.8 1740.6 770.1 1720.3 745.1 1703.4 Z" fill="#00ff87"/><path d="M770.1 1720.3 795.5 1737.6 821.5 1716.2 796.2 1699.2 Z" fill="#00ff7c"/><path d="M821.5 1716.2 847.2 1733.7 873.1 1711.1 847.4 1693.9 Z" fill="#00ff6f"/><path d="M873.1 1711.1 899.1 1728.8 924.8 1705.1 898.8 1687.7 Z" fill="#00ff5f"/><path d="M565.6 1726.9 589.5 1743.5 616.6 1726.7 592.6 1710.3 Z" fill="#00ff9c"/><path d="M384.5 1733.6 407.5 1749.9 435.8 1737.5 412.8 1721.5 Z" fill="#00ffa4"/><path d="M692.3 1742.5 717.3 1759.9 743.8 1740.6 718.8 1723.4 Z" fill="#00ff9e"/><path d="M538.2 1742.5 562.2 1759.3 589.5 1743.5 565.6 1726.9 Z" fill="#00ffab"/><path d="M640.9 1743.5 665.5 1760.7 692.3 1742.5 667.7 1725.6 Z" fill="#00ffa5"/><path d="M899.1 1728.8 925.4 1746.9 951.2 1722.9 924.8 1705.1 Z" fill="#00ff6f"/><path d="M435.8 1737.5 459 1754 487 1740.5 463.7 1724.3 Z" fill="#00ffa8"/><path d="M487 1740.5 510.6 1757.1 538.2 1742.5 514.6 1726 Z" fill="#00ffab"/><path d="M589.5 1743.5 613.8 1760.5 640.9 1743.5 616.6 1726.7 Z" fill="#00ffa9"/><path d="M743.8 1740.6 769.1 1758.1 795.5 1737.6 770.1 1720.3 Z" fill="#00ff96"/><path d="M795.5 1737.6 821.1 1755.4 847.2 1733.7 821.5 1716.2 Z" fill="#00ff8b"/><path d="M847.2 1733.7 873.2 1751.6 899.1 1728.8 873.1 1711.1 Z" fill="#00ff7e"/><path d="M407.5 1749.9 430.7 1766.5 459 1754 435.8 1737.5 Z" fill="#00ffb0"/><path d="M510.6 1757.1 534.5 1774.2 562.2 1759.3 538.2 1742.5 Z" fill="#00ffb8"/><path d="M562.2 1759.3 586.4 1776.6 613.8 1760.5 589.5 1743.5 Z" fill="#00ffb8"/><path d="M613.8 1760.5 638.4 1777.9 665.5 1760.7 640.9 1743.5 Z" fill="#00ffb7"/><path d="M665.5 1760.7 690.4 1778.3 717.3 1759.9 692.3 1742.5 Z" fill="#00ffb3"/><path d="M717.3 1759.9 742.5 1777.7 769.1 1758.1 743.8 1740.6 Z" fill="#00ffad"/><path d="M769.1 1758.1 794.7 1776.1 821.1 1755.4 795.5 1737.6 Z" fill="#00ffa5"/><path d="M821.1 1755.4 847 1773.5 873.2 1751.6 847.2 1733.7 Z" fill="#00ff9a"/><path d="M873.2 1751.6 899.5 1769.9 925.4 1746.9 899.1 1728.8 Z" fill="#00ff8e"/><path d="M459 1754 482.6 1770.9 510.6 1757.1 487 1740.5 Z" fill="#00ffb5"/><path d="M430.7 1766.5 454.3 1783.6 482.6 1770.9 459 1754 Z" fill="#00ffbd"/><path d="M482.6 1770.9 506.5 1788.1 534.5 1774.2 510.6 1757.1 Z" fill="#00ffc2"/><path d="M534.5 1774.2 558.7 1791.7 586.4 1776.6 562.2 1759.3 Z" fill="#00ffc5"/><path d="M586.4 1776.6 611 1794.2 638.4 1777.9 613.8 1760.5 Z" fill="#00ffc6"/><path d="M638.4 1777.9 663.3 1795.8 690.4 1778.3 665.5 1760.7 Z" fill="#00ffc5"/><path d="M690.4 1778.3 715.6 1796.4 742.5 1777.7 717.3 1759.9 Z" fill="#00ffc1"/><path d="M742.5 1777.7 768.1 1796 794.7 1776.1 769.1 1758.1 Z" fill="#00ffbc"/><path d="M794.7 1776.1 820.6 1794.5 847 1773.5 821.1 1755.4 Z" fill="#00ffb4"/><path d="M847 1773.5 873.3 1792.1 899.5 1769.9 873.2 1751.6 Z" fill="#0fa"/><path d="M611 1794.2 635.8 1812.3 663.3 1795.8 638.4 1777.9 Z" fill="#00ffd4"/><path d="M768.1 1796 794 1814.6 820.6 1794.5 794.7 1776.1 Z" fill="#00ffcb"/><path d="M820.6 1794.5 846.9 1813.4 873.3 1792.1 847 1773.5 Z" fill="#00ffc4"/><path d="M454.3 1783.6 478.1 1801.1 506.5 1788.1 482.6 1770.9 Z" fill="#00ffca"/><path d="M506.5 1788.1 530.7 1805.9 558.7 1791.7 534.5 1774.2 Z" fill="#00ffd0"/><path d="M558.7 1791.7 583.3 1809.6 611 1794.2 586.4 1776.6 Z" fill="#00ffd3"/><path d="M663.3 1795.8 688.5 1814.1 715.6 1796.4 690.4 1778.3 Z" fill="#00ffd4"/><path d="M715.6 1796.4 741.2 1814.9 768.1 1796 742.5 1777.7 Z" fill="#00ffd0"/><path d="M478.1 1801.1 502.3 1819 530.7 1805.9 506.5 1788.1 Z" fill="#00ffd7"/><path d="M583.3 1809.6 608.1 1827.9 635.8 1812.3 611 1794.2 Z" fill="#00ffe1"/><path d="M635.8 1812.3 661 1830.9 688.5 1814.1 663.3 1795.8 Z" fill="#00ffe3"/><path d="M741.2 1814.9 767 1833.8 794 1814.6 768.1 1796 Z" fill="#00ffe0"/><path d="M794 1814.6 820.2 1833.7 846.9 1813.4 820.6 1794.5 Z" fill="#00ffdb"/><path d="M530.7 1805.9 555.2 1824 583.3 1809.6 558.7 1791.7 Z" fill="#0fd"/><path d="M688.5 1814.1 714 1832.8 741.2 1814.9 715.6 1796.4 Z" fill="#00ffe3"/><path d="M502.3 1819 526.7 1837.4 555.2 1824 530.7 1805.9 Z" fill="#00ffe5"/><path d="M661 1830.9 686.5 1849.9 714 1832.8 688.5 1814.1 Z" fill="#00fff2"/><path d="M767 1833.8 793.2 1853.2 820.2 1833.7 794 1814.6 Z" fill="#00fff0"/><path d="M555.2 1824 580 1842.6 608.1 1827.9 583.3 1809.6 Z" fill="#00ffec"/><path d="M608.1 1827.9 633.2 1846.7 661 1830.9 635.8 1812.3 Z" fill="#00fff0"/><path d="M714 1832.8 739.8 1852 767 1833.8 741.2 1814.9 Z" fill="#00fff2"/><path d="M526.7 1837.4 551.5 1856.2 580 1842.6 555.2 1824 Z" fill="#00fff4"/><path d="M633.2 1846.7 658.7 1866 686.5 1849.9 661 1830.9 Z" fill="#0ff"/><path d="M686.5 1849.9 712.3 1869.3 739.8 1852 714 1832.8 Z" fill="#00fcff"/><path d="M739.8 1852 766 1871.6 793.2 1853.2 767 1833.8 Z" fill="#00fcff"/><path d="M580 1842.6 605.1 1861.6 633.2 1846.7 608.1 1827.9 Z" fill="#00fffb"/><path d="M551.5 1856.2 576.6 1875.5 605.1 1861.6 580 1842.6 Z" fill="#00fbff"/><path d="M605.1 1861.6 630.5 1881.1 658.7 1866 633.2 1846.7 Z" fill="#00f4ff"/><path d="M658.7 1866 684.5 1885.6 712.3 1869.3 686.5 1849.9 Z" fill="#00efff"/><path d="M712.3 1869.3 738.4 1889.2 766 1871.6 739.8 1852 Z" fill="#00ecff"/><path d="M576.6 1875.5 602 1895.2 630.5 1881.1 605.1 1861.6 Z" fill="#00ecff"/><path d="M630.5 1881.1 656.3 1901 684.5 1885.6 658.7 1866 Z" fill="#00e4ff"/><path d="M684.5 1885.6 710.6 1905.8 738.4 1889.2 712.3 1869.3 Z" fill="#00dfff"/><path d="M602 1895.2 627.8 1915.4 656.3 1901 630.5 1881.1 Z" fill="#00dcff"/><path d="M656.3 1901 682.4 1921.4 710.6 1905.8 684.5 1885.6 Z" fill="#00d4ff"/><path d="M627.8 1915.4 653.9 1936.1 682.4 1921.4 656.3 1901 Z" fill="#0cf"/></g>
<g fill="#000"><circle cx="203" cy="1828" r="4.6"/><circle cx="196.2" cy="1707.8" r="4.6"/><circle cx="189.4" cy="1587.5" r="4.6"/><circle cx="182.6" cy="1467.2" r="4.6"/><circle cx="175.8" cy="1347" r="4.6"/><circle cx="211.2" cy="1976.8" r="4.6"/><circle cx="322.1" cy="2041.4" r="4.6"/><circle cx="777.2" cy="2175.2" r="4.6"/><circle cx="432.9" cy="2106" r="4.6"/><circle cx="900" cy="2115.1" r="4.6"/><circle cx="543.7" cy="2170.6" r="4.6"/><circle cx="1022.8" cy="2055.1" r="4.6"/><circle cx="654.5" cy="2235.2" r="4.6"/><circle cx="1145.5" cy="1995" r="4.6"/></g></g>
<g id="A2"><defs><linearGradient id="a20"><stop offset="0" stop-color="#ffdc00"/><stop offset=".033" stop-color="#ff0"/><stop offset=".125" stop-color="#a5ff00"/><stop offset=".25" stop-color="#37ff00"/><stop offset=".321" stop-color="#0f0"/><stop offset=".375" stop-color="#00ff26"/><stop offset=".5" stop-color="#00ff74"/><stop offset=".625" stop-color="#00ffb2"/><stop offset=".75" stop-color="#00ffe1"/><stop offset=".871" stop-color="#0ff"/><stop offset="1" stop-color="#00efff"/></linearGradient><linearGradient id="a21"><stop offset="0" stop-color="#ffd500"/><stop offset=".04" stop-color="#ff0"/><stop offset=".125" stop-color="#abff00"/><stop offset=".25" stop-color="#3eff00"/><stop offset=".33" stop-color="#0f0"/><stop offset=".375" stop-color="#00ff20"/><stop offset=".5" stop-color="#00ff6e"/><stop offset=".625" stop-color="#00ffac"/><stop offset=".75" stop-color="#00ffda"/><stop offset=".875" stop-color="#00fff9"/><stop offset=".91" stop-color="#0ff"/><stop offset="1" stop-color="#00f6ff"/></linearGradient><linearGradient id="a22"><stop offset="0" stop-color="#ffcf00"/><stop offset=".046" stop-color="#ff0"/><stop offset=".125" stop-color="#b2ff00"/><stop offset=".25" stop-color="#4f0"/><stop offset=".339" stop-color="#0f0"/><stop offset=".375" stop-color="#00ff19"/><stop offset=".5" stop-color="#00ff67"/><stop offset=".625" stop-color="#00ffa5"/><stop offset=".75" stop-color="#00ffd4"/><stop offset=".875" stop-color="#00fff3"/><stop offset=".963" stop-color="#0ff"/><stop offset="1" stop-color="#00fcff"/></linearGradient><linearGradient id="a23"><stop offset="0" stop-color="#ffc900"/><stop offset=".052" stop-color="#ff0"/><stop offset=".125" stop-color="#b8ff00"/><stop offset=".25" stop-color="#4bff00"/><stop offset=".348" stop-color="#0f0"/><stop offset=".375" stop-color="#00ff13"/><stop offset=".5" stop-color="#00ff61"/><stop offset=".625" stop-color="#00ff9f"/><stop offset=".75" stop-color="#00ffce"/><stop offset=".875" stop-color="#00ffec"/><stop offset="1" stop-color="#00fffb"/></linearGradient><linearGradient id="a24"><stop offset="0" stop-color="#ffc200"/><stop offset=".059" stop-color="#ff0"/><stop offset=".125" stop-color="#beff00"/><stop offset=".25" stop-color="#51ff00"/><stop offset=".357" stop-color="#0f0"/><stop offset=".375" stop-color="#00ff0d"/><stop offset=".5" stop-color="#00ff5b"/><stop offset=".625" stop-color="#0f9"/><stop offset=".75" stop-color="#00ffc7"/><stop offset=".875" stop-color="#00ffe6"/><stop offset="1" stop-color="#00fff5"/></linearGradient><linearGradient id="a25"><stop offset="0" stop-color="#ffbc00"/><stop offset=".065" stop-color="#ff0"/><stop offset=".125" stop-color="#c5ff00"/><stop offset=".25" stop-color="#57ff00"/><stop offset=".366" stop-color="#0f0"/><stop offset=".5" stop-color="#00ff54"/><stop offset=".625" stop-color="#00ff93"/><stop offset=".75" stop-color="#00ffc1"/><stop offset=".875" stop-color="#00ffe0"/><stop offset="1" stop-color="#00ffef"/></linearGradient><linearGradient id="a26"><stop offset="0" stop-color="#ffb600"/><stop offset=".071" stop-color="#ff0"/><stop offset=".125" stop-color="#cbff00"/><stop offset=".25" stop-color="#5dff00"/><stop offset=".374" stop-color="#0f0"/><stop offset=".5" stop-color="#00ff4e"/><stop offset=".625" stop-color="#00ff8d"/><stop offset=".75" stop-color="#0fb"/><stop offset=".875" stop-color="#00ffda"/><stop offset="1" stop-color="#00ffe9"/></linearGradient><linearGradient id="a27"><stop offset="0" stop-color="#ffb000"/><stop offset=".077" stop-color="#ff0"/><stop offset=".125" stop-color="#d1ff00"/><stop offset=".25" stop-color="#63ff00"/><stop offset=".383" stop-color="#0f0"/><stop offset=".5" stop-color="#00ff48"/><stop offset=".625" stop-color="#00ff87"/><stop offset=".75" stop-color="#00ffb5"/><stop offset=".875" stop-color="#00ffd4"/><stop offset="1" stop-color="#00ffe3"/></linearGradient><linearGradient id="a28"><stop offset="0" stop-color="#fa0"/><stop offset=".083" stop-color="#ff0"/><stop offset=".125" stop-color="#d6ff00"/><stop offset=".25" stop-color="#69ff00"/><stop offset=".375" stop-color="#0bff00"/><stop offset=".392" stop-color="#0f0"/><stop offset=".5" stop-color="#00ff43"/><stop offset=".625" stop-color="#00ff81"/><stop offset=".75" stop-color="#00ffaf"/><stop offset=".875" stop-color="#00ffce"/><stop offset="1" stop-color="#0fd"/></linearGradient><linearGradient id="a29"><stop offset="0" stop-color="#ffa500"/><stop offset=".089" stop-color="#ff0"/><stop offset=".125" stop-color="#dcff00"/><stop offset=".25" stop-color="#6fff00"/><stop offset=".375" stop-color="#1f0"/><stop offset=".4" stop-color="#0f0"/><stop offset=".5" stop-color="#00ff3d"/><stop offset=".625" stop-color="#00ff7b"/><stop offset=".75" stop-color="#0fa"/><stop offset=".875" stop-color="#00ffc8"/><stop offset="1" stop-color="#00ffd8"/></linearGradient><linearGradient id="a210"><stop offset="0" stop-color="#ff9f00"/><stop offset=".094" stop-color="#ff0"/><stop offset=".125" stop-color="#e2ff00"/><stop offset=".25" stop-color="#74ff00"/><stop offset=".375" stop-color="#17ff00"/><stop offset=".409" stop-color="#0f0"/><stop offset=".5" stop-color="#00ff37"/><stop offset=".625" stop-color="#00ff76"/><stop offset=".75" stop-color="#00ffa4"/><stop offset=".875" stop-color="#00ffc3"/><stop offset="1" stop-color="#00ffd2"/></linearGradient><linearGradient id="a211"><stop offset="0" stop-color="#ff9a00"/><stop offset=".1" stop-color="#ff0"/><stop offset=".125" stop-color="#e7ff00"/><stop offset=".25" stop-color="#7aff00"/><stop offset=".375" stop-color="#1cff00"/><stop offset=".417" stop-color="#0f0"/><stop offset=".5" stop-color="#00ff32"/><stop offset=".625" stop-color="#00ff70"/><stop offset=".75" stop-color="#00ff9f"/><stop offset=".875" stop-color="#00ffbd"/><stop offset="1" stop-color="#0fc"/></linearGradient><linearGradient id="a212"><stop offset="0" stop-color="#ff9400"/><stop offset=".106" stop-color="#ff0"/><stop offset=".125" stop-color="#edff00"/><stop offset=".25" stop-color="#7fff00"/><stop offset=".375" stop-color="#2f0"/><stop offset=".426" stop-color="#0f0"/><stop offset=".5" stop-color="#00ff2c"/><stop offset=".625" stop-color="#00ff6b"/><stop offset=".75" stop-color="#0f9"/><stop offset=".875" stop-color="#00ffb8"/><stop offset="1" stop-color="#00ffc7"/></linearGradient><linearGradient id="a213"><stop offset="0" stop-color="#ff8f00"/><stop offset=".111" stop-color="#ff0"/><stop offset=".125" stop-color="#f2ff00"/><stop offset=".25" stop-color="#85ff00"/><stop offset=".375" stop-color="#27ff00"/><stop offset=".434" stop-color="#0f0"/><stop offset=".5" stop-color="#00ff27"/><stop offset=".625" stop-color="#00ff65"/><stop offset=".75" stop-color="#00ff94"/><stop offset=".875" stop-color="#00ffb3"/><stop offset="1" stop-color="#00ffc2"/></linearGradient><linearGradient id="a214"><stop offset="0" stop-color="#ff8a00"/><stop offset=".117" stop-color="#ff0"/><stop offset=".25" stop-color="#8aff00"/><stop offset=".375" stop-color="#2cff00"/><stop offset=".443" stop-color="#0f0"/><stop offset=".5" stop-color="#0f2"/><stop offset=".625" stop-color="#00ff60"/><stop offset=".75" stop-color="#00ff8f"/><stop offset=".875" stop-color="#00ffad"/><stop offset="1" stop-color="#00ffbc"/></linearGradient><linearGradient id="a215"><stop offset="0" stop-color="#ff8500"/><stop offset=".122" stop-color="#ff0"/><stop offset=".25" stop-color="#8fff00"/><stop offset=".375" stop-color="#31ff00"/><stop offset=".451" stop-color="#0f0"/><stop offset=".5" stop-color="#00ff1d"/><stop offset=".625" stop-color="#00ff5b"/><stop offset=".75" stop-color="#00ff8a"/><stop offset=".875" stop-color="#00ffa8"/><stop offset="1" stop-color="#00ffb7"/></linearGradient><linearGradient id="a216"><stop offset="0" stop-color="#ff8000"/><stop offset=".127" stop-color="#ff0"/><stop offset=".25" stop-color="#94ff00"/><stop offset=".375" stop-color="#36ff00"/><stop offset=".459" stop-color="#0f0"/><stop offset=".5" stop-color="#00ff18"/><stop offset=".625" stop-color="#00ff56"/><stop offset=".75" stop-color="#00ff85"/><stop offset=".875" stop-color="#00ffa3"/><stop offset="1" stop-color="#00ffb2"/></linearGradient><linearGradient id="a217"><stop offset="0" stop-color="#ff7b00"/><stop offset=".133" stop-color="#ff0"/><stop offset=".25" stop-color="#9f0"/><stop offset=".375" stop-color="#3bff00"/><stop offset=".467" stop-color="#0f0"/><stop offset=".5" stop-color="#00ff13"/><stop offset=".625" stop-color="#00ff51"/><stop offset=".75" stop-color="#00ff80"/><stop offset=".875" stop-color="#00ff9e"/><stop offset="1" stop-color="#00ffae"/></linearGradient><linearGradient id="a218"><stop offset="0" stop-color="#ff7600"/><stop offset=".125" stop-color="#fff300"/><stop offset=".138" stop-color="#ff0"/><stop offset=".25" stop-color="#9eff00"/><stop offset=".375" stop-color="#40ff00"/><stop offset=".475" stop-color="#0f0"/><stop offset=".5" stop-color="#00ff0e"/><stop offset=".625" stop-color="#00ff4c"/><stop offset=".75" stop-color="#00ff7b"/><stop offset=".875" stop-color="#00ff9a"/><stop offset="1" stop-color="#00ffa9"/></linearGradient><linearGradient id="a219"><stop offset="0" stop-color="#ff7100"/><stop offset=".125" stop-color="#fe0"/><stop offset=".143" stop-color="#ff0"/><stop offset=".25" stop-color="#a2ff00"/><stop offset=".375" stop-color="#4f0"/><stop offset=".483" stop-color="#0f0"/><stop offset=".5" stop-color="#00ff09"/><stop offset=".625" stop-color="#00ff48"/><stop offset=".75" stop-color="#00ff76"/><stop offset=".875" stop-color="#00ff95"/><stop offset="1" stop-color="#00ffa4"/></linearGradient><linearGradient id="a220"><stop offset="0" stop-color="#ff6d00"/><stop offset=".125" stop-color="#ffea00"/><stop offset=".148" stop-color="#ff0"/><stop offset=".25" stop-color="#a7ff00"/><stop offset=".375" stop-color="#49ff00"/><stop offset=".491" stop-color="#0f0"/><stop offset=".625" stop-color="#00ff43"/><stop offset=".75" stop-color="#00ff72"/><stop offset=".875" stop-color="#00ff90"/><stop offset="1" stop-color="#00ff9f"/></linearGradient><linearGradient id="a221"><stop offset="0" stop-color="#ff6800"/><stop offset=".125" stop-color="#ffe500"/><stop offset=".153" stop-color="#ff0"/><stop offset=".25" stop-color="#abff00"/><stop offset=".375" stop-color="#4eff00"/><stop offset=".499" stop-color="#0f0"/><stop offset=".625" stop-color="#00ff3f"/><stop offset=".75" stop-color="#00ff6d"/><stop offset=".875" stop-color="#00ff8c"/><stop offset="1" stop-color="#00ff9b"/></linearGradient><linearGradient id="a222"><stop offset="0" stop-color="#ff6400"/><stop offset=".125" stop-color="#ffe100"/><stop offset=".158" stop-color="#ff0"/><stop offset=".25" stop-color="#b0ff00"/><stop offset=".375" stop-color="#52ff00"/><stop offset=".507" stop-color="#0f0"/><stop offset=".625" stop-color="#00ff3a"/><stop offset=".75" stop-color="#00ff69"/><stop offset=".875" stop-color="#0f8"/><stop offset="1" stop-color="#00ff97"/></linearGradient><linearGradient id="a223"><stop offset="0" stop-color="#ff6000"/><stop offset=".125" stop-color="#fd0"/><stop offset=".162" stop-color="#ff0"/><stop offset=".25" stop-color="#b4ff00"/><stop offset=".375" stop-color="#56ff00"/><stop offset=".5" stop-color="#08ff00"/><stop offset=".515" stop-color="#0f0"/><stop offset=".625" stop-color="#00ff36"/><stop offset=".75" stop-color="#00ff65"/><stop offset=".875" stop-color="#00ff83"/><stop offset="1" stop-color="#00ff92"/></linearGradient><linearGradient id="a224"><stop offset="0" stop-color="#ff5b00"/><stop offset=".125" stop-color="#ffd900"/><stop offset=".167" stop-color="#ff0"/><stop offset=".25" stop-color="#b8ff00"/><stop offset=".375" stop-color="#5aff00"/><stop offset=".5" stop-color="#0cff00"/><stop offset=".522" stop-color="#0f0"/><stop offset=".625" stop-color="#00ff32"/><stop offset=".75" stop-color="#00ff60"/><stop offset=".875" stop-color="#00ff7f"/><stop offset="1" stop-color="#00ff8e"/></linearGradient><linearGradient id="a225"><stop offset="0" stop-color="#ff5700"/><stop offset=".125" stop-color="#ffd500"/><stop offset=".171" stop-color="#ff0"/><stop offset=".25" stop-color="#bcff00"/><stop offset=".375" stop-color="#5eff00"/><stop offset=".5" stop-color="#10ff00"/><stop offset=".53" stop-color="#0f0"/><stop offset=".625" stop-color="#00ff2e"/><stop offset=".75" stop-color="#00ff5c"/><stop offset=".875" stop-color="#00ff7b"/><stop offset="1" stop-color="#00ff8a"/></linearGradient><linearGradient id="a226"><stop offset="0" stop-color="#ff5400"/><stop offset=".125" stop-color="#ffd100"/><stop offset=".176" stop-color="#ff0"/><stop offset=".25" stop-color="#c0ff00"/><stop offset=".375" stop-color="#62ff00"/><stop offset=".5" stop-color="#14ff00"/><stop offset=".537" stop-color="#0f0"/><stop offset=".625" stop-color="#00ff2a"/><stop offset=".75" stop-color="#00ff59"/><stop offset=".875" stop-color="#0f7"/><stop offset="1" stop-color="#00ff86"/></linearGradient><linearGradient id="a227"><stop offset="0" stop-color="#ff5000"/><stop offset=".125" stop-color="#ffcd00"/><stop offset=".18" stop-color="#ff0"/><stop offset=".25" stop-color="#c4ff00"/><stop offset=".375" stop-color="#6f0"/><stop offset=".5" stop-color="#18ff00"/><stop offset=".545" stop-color="#0f0"/><stop offset=".625" stop-color="#00ff26"/><stop offset=".75" stop-color="#0f5"/><stop offset=".875" stop-color="#00ff73"/><stop offset="1" stop-color="#00ff83"/></linearGradient><linearGradient id="a228"><stop offset="0" stop-color="#ff4c00"/><stop offset=".125" stop-color="#ffc900"/><stop offset=".184" stop-color="#ff0"/><stop offset=".25" stop-color="#c7ff00"/><stop offset=".375" stop-color="#6aff00"/><stop offset=".5" stop-color="#1cff00"/><stop offset=".552" stop-color="#0f0"/><stop offset=".625" stop-color="#0f2"/><stop offset=".75" stop-color="#00ff51"/><stop offset=".875" stop-color="#00ff70"/><stop offset="1" stop-color="#00ff7f"/></linearGradient><linearGradient id="a229"><stop offset="0" stop-color="#ff4800"/><stop offset=".125" stop-color="#ffc600"/><stop offset=".188" stop-color="#ff0"/><stop offset=".25" stop-color="#cbff00"/><stop offset=".375" stop-color="#6dff00"/><stop offset=".5" stop-color="#1fff00"/><stop offset=".559" stop-color="#0f0"/><stop offset=".625" stop-color="#00ff1f"/><stop offset=".75" stop-color="#00ff4d"/><stop offset=".875" stop-color="#00ff6c"/><stop offset="1" stop-color="#00ff7b"/></linearGradient><linearGradient id="a230"><stop offset="0" stop-color="#ff4500"/><stop offset=".125" stop-color="#ffc200"/><stop offset=".192" stop-color="#ff0"/><stop offset=".25" stop-color="#cfff00"/><stop offset=".375" stop-color="#71ff00"/><stop offset=".5" stop-color="#23ff00"/><stop offset=".566" stop-color="#0f0"/><stop offset=".625" stop-color="#00ff1b"/><stop offset=".75" stop-color="#00ff4a"/><stop offset=".875" stop-color="#00ff69"/><stop offset="1" stop-color="#00ff78"/></linearGradient><linearGradient id="a231"><stop offset="0" stop-color="#ff4100"/><stop offset=".125" stop-color="#ffbf00"/><stop offset=".196" stop-color="#ff0"/><stop offset=".25" stop-color="#d2ff00"/><stop offset=".375" stop-color="#74ff00"/><stop offset=".5" stop-color="#26ff00"/><stop offset=".573" stop-color="#0f0"/><stop offset=".625" stop-color="#00ff18"/><stop offset=".75" stop-color="#00ff46"/><stop offset=".875" stop-color="#00ff65"/><stop offset="1" stop-color="#00ff74"/></linearGradient><linearGradient id="a232"><stop offset="0" stop-color="#ff3e00"/><stop offset=".125" stop-color="#fb0"/><stop offset=".2" stop-color="#ff0"/><stop offset=".25" stop-color="#d5ff00"/><stop offset=".375" stop-color="#78ff00"/><stop offset=".5" stop-color="#2aff00"/><stop offset=".58" stop-color="#0f0"/><stop offset=".625" stop-color="#00ff15"/><stop offset=".75" stop-color="#00ff43"/><stop offset=".875" stop-color="#00ff62"/><stop offset="1" stop-color="#00ff71"/></linearGradient><linearGradient id="a233"><stop offset="0" stop-color="#ff3b00"/><stop offset=".125" stop-color="#ffb800"/><stop offset=".204" stop-color="#ff0"/><stop offset=".25" stop-color="#d8ff00"/><stop offset=".375" stop-color="#7bff00"/><stop offset=".5" stop-color="#2dff00"/><stop offset=".587" stop-color="#0f0"/><stop offset=".625" stop-color="#0f1"/><stop offset=".75" stop-color="#00ff40"/><stop offset=".875" stop-color="#00ff5f"/><stop offset="1" stop-color="#00ff6e"/></linearGradient><linearGradient id="a234"><stop offset="0" stop-color="#ff3800"/><stop offset=".125" stop-color="#ffb500"/><stop offset=".207" stop-color="#ff0"/><stop offset=".25" stop-color="#dcff00"/><stop offset=".375" stop-color="#7eff00"/><stop offset=".5" stop-color="#30ff00"/><stop offset=".593" stop-color="#0f0"/><stop offset=".625" stop-color="#00ff0e"/><stop offset=".75" stop-color="#00ff3d"/><stop offset=".875" stop-color="#00ff5c"/><stop offset="1" stop-color="#00ff6b"/></linearGradient><linearGradient id="a235"><stop offset="0" stop-color="#ff3500"/><stop offset=".125" stop-color="#ffb200"/><stop offset=".211" stop-color="#ff0"/><stop offset=".25" stop-color="#dfff00"/><stop offset=".375" stop-color="#81ff00"/><stop offset=".5" stop-color="#3f0"/><stop offset=".6" stop-color="#0f0"/><stop offset=".625" stop-color="#00ff0b"/><stop offset=".75" stop-color="#00ff3a"/><stop offset=".875" stop-color="#00ff59"/><stop offset="1" stop-color="#00ff68"/></linearGradient><linearGradient id="a236"><stop offset="0" stop-color="#ff3200"/><stop offset=".125" stop-color="#ffaf00"/><stop offset=".214" stop-color="#ff0"/><stop offset=".25" stop-color="#e1ff00"/><stop offset=".375" stop-color="#84ff00"/><stop offset=".5" stop-color="#36ff00"/><stop offset=".606" stop-color="#0f0"/><stop offset=".625" stop-color="#00ff08"/><stop offset=".75" stop-color="#00ff37"/><stop offset=".875" stop-color="#00ff56"/><stop offset="1" stop-color="#00ff65"/></linearGradient><linearGradient id="a237"><stop offset="0" stop-color="#ff2f00"/><stop offset=".125" stop-color="#ffac00"/><stop offset=".218" stop-color="#ff0"/><stop offset=".25" stop-color="#e4ff00"/><stop offset=".375" stop-color="#86ff00"/><stop offset=".5" stop-color="#39ff00"/><stop offset=".612" stop-color="#0f0"/><stop offset=".625" stop-color="#00ff06"/><stop offset=".75" stop-color="#00ff34"/><stop offset=".875" stop-color="#00ff53"/><stop offset="1" stop-color="#00ff62"/></linearGradient><linearGradient id="a238"><stop offset="0" stop-color="#ff2d00"/><stop offset=".125" stop-color="#fa0"/><stop offset=".221" stop-color="#ff0"/><stop offset=".25" stop-color="#e7ff00"/><stop offset=".375" stop-color="#89ff00"/><stop offset=".5" stop-color="#3bff00"/><stop offset=".618" stop-color="#0f0"/><stop offset=".75" stop-color="#00ff32"/><stop offset=".875" stop-color="#00ff50"/><stop offset="1" stop-color="#00ff5f"/></linearGradient><linearGradient id="a239"><stop offset="0" stop-color="#ff2a00"/><stop offset=".125" stop-color="#ffa700"/><stop offset=".224" stop-color="#ff0"/><stop offset=".25" stop-color="#e9ff00"/><stop offset=".375" stop-color="#8cff00"/><stop offset=".5" stop-color="#3eff00"/><stop offset=".624" stop-color="#0f0"/><stop offset=".75" stop-color="#00ff2f"/><stop offset=".875" stop-color="#00ff4e"/><stop offset="1" stop-color="#00ff5d"/></linearGradient><linearGradient id="a240"><stop offset="0" stop-color="#ff2800"/><stop offset=".125" stop-color="#ffa500"/><stop offset=".227" stop-color="#ff0"/><stop offset=".25" stop-color="#ecff00"/><stop offset=".375" stop-color="#8eff00"/><stop offset=".5" stop-color="#40ff00"/><stop offset=".629" stop-color="#0f0"/><stop offset=".75" stop-color="#00ff2d"/><stop offset=".875" stop-color="#00ff4b"/><stop offset="1" stop-color="#00ff5a"/></linearGradient><linearGradient id="a241"><stop offset="0" stop-color="#ff2500"/><stop offset=".125" stop-color="#ffa200"/><stop offset=".23" stop-color="#ff0"/><stop offset=".25" stop-color="#ef0"/><stop offset=".375" stop-color="#90ff00"/><stop offset=".5" stop-color="#43ff00"/><stop offset=".635" stop-color="#0f0"/><stop offset=".75" stop-color="#00ff2a"/><stop offset=".875" stop-color="#00ff49"/><stop offset="1" stop-color="#00ff58"/></linearGradient><linearGradient id="a242"><stop offset="0" stop-color="#ff2300"/><stop offset=".125" stop-color="#ffa000"/><stop offset=".232" stop-color="#ff0"/><stop offset=".25" stop-color="#f0ff00"/><stop offset=".375" stop-color="#93ff00"/><stop offset=".5" stop-color="#45ff00"/><stop offset=".625" stop-color="#07ff00"/><stop offset=".64" stop-color="#0f0"/><stop offset=".75" stop-color="#00ff28"/><stop offset=".875" stop-color="#00ff47"/><stop offset="1" stop-color="#00ff56"/></linearGradient><linearGradient id="a243"><stop offset="0" stop-color="#ff2100"/><stop offset=".125" stop-color="#ff9e00"/><stop offset=".235" stop-color="#ff0"/><stop offset=".25" stop-color="#f3ff00"/><stop offset=".375" stop-color="#95ff00"/><stop offset=".5" stop-color="#47ff00"/><stop offset=".625" stop-color="#09ff00"/><stop offset=".645" stop-color="#0f0"/><stop offset=".75" stop-color="#00ff26"/><stop offset=".875" stop-color="#00ff45"/><stop offset="1" stop-color="#00ff54"/></linearGradient><linearGradient id="a244"><stop offset="0" stop-color="#ff1f00"/><stop offset=".125" stop-color="#ff9c00"/><stop offset=".237" stop-color="#ff0"/><stop offset=".25" stop-color="#f5ff00"/><stop offset=".375" stop-color="#97ff00"/><stop offset=".5" stop-color="#49ff00"/><stop offset=".625" stop-color="#0bff00"/><stop offset=".65" stop-color="#0f0"/><stop offset=".75" stop-color="#00ff24"/><stop offset=".875" stop-color="#00ff43"/><stop offset="1" stop-color="#00ff52"/></linearGradient><linearGradient id="a245"><stop offset="0" stop-color="#ff1d00"/><stop offset=".125" stop-color="#ff9a00"/><stop offset=".24" stop-color="#ff0"/><stop offset=".375" stop-color="#9f0"/><stop offset=".5" stop-color="#4bff00"/><stop offset=".625" stop-color="#0dff00"/><stop offset=".655" stop-color="#0f0"/><stop offset=".75" stop-color="#0f2"/><stop offset=".875" stop-color="#00ff41"/><stop offset="1" stop-color="#00ff50"/></linearGradient><linearGradient id="a246"><stop offset="0" stop-color="#ff1b00"/><stop offset=".125" stop-color="#ff9800"/><stop offset=".242" stop-color="#ff0"/><stop offset=".375" stop-color="#9bff00"/><stop offset=".5" stop-color="#4dff00"/><stop offset=".625" stop-color="#0eff00"/><stop offset=".66" stop-color="#0f0"/><stop offset=".75" stop-color="#00ff20"/><stop offset=".875" stop-color="#00ff3f"/><stop offset="1" stop-color="#00ff4e"/></linearGradient><linearGradient id="a247"><stop offset="0" stop-color="#ff1900"/><stop offset=".125" stop-color="#ff9700"/><stop offset=".244" stop-color="#ff0"/><stop offset=".375" stop-color="#9cff00"/><stop offset=".5" stop-color="#4eff00"/><stop offset=".625" stop-color="#10ff00"/><stop offset=".664" stop-color="#0f0"/><stop offset=".75" stop-color="#00ff1e"/><stop offset=".875" stop-color="#00ff3d"/><stop offset="1" stop-color="#00ff4c"/></linearGradient><linearGradient id="a248"><stop offset="0" stop-color="#ff1800"/><stop offset=".125" stop-color="#ff9500"/><stop offset=".246" stop-color="#ff0"/><stop offset=".375" stop-color="#9eff00"/><stop offset=".5" stop-color="#50ff00"/><stop offset=".625" stop-color="#12ff00"/><stop offset=".668" stop-color="#0f0"/><stop offset=".75" stop-color="#00ff1d"/><stop offset=".875" stop-color="#00ff3c"/><stop offset="1" stop-color="#00ff4b"/></linearGradient><linearGradient id="a249"><stop offset="0" stop-color="#ff1600"/><stop offset=".125" stop-color="#ff9300"/><stop offset=".248" stop-color="#ff0"/><stop offset=".375" stop-color="#9fff00"/><stop offset=".5" stop-color="#51ff00"/><stop offset=".625" stop-color="#13ff00"/><stop offset=".672" stop-color="#0f0"/><stop offset=".75" stop-color="#00ff1b"/><stop offset=".875" stop-color="#00ff3a"/><stop offset="1" stop-color="#00ff49"/></linearGradient><linearGradient id="a250"><stop offset="0" stop-color="#ff1500"/><stop offset=".125" stop-color="#ff9200"/><stop offset=".249" stop-color="#ff0"/><stop offset=".375" stop-color="#a1ff00"/><stop offset=".5" stop-color="#53ff00"/><stop offset=".625" stop-color="#15ff00"/><stop offset=".675" stop-color="#0f0"/><stop offset=".75" stop-color="#00ff1a"/><stop offset=".875" stop-color="#00ff39"/><stop offset="1" stop-color="#00ff48"/></linearGradient><linearGradient id="a251"><stop offset="0" stop-color="#ff1400"/><stop offset=".125" stop-color="#ff9100"/><stop offset=".251" stop-color="#ff0"/><stop offset=".375" stop-color="#a2ff00"/><stop offset=".5" stop-color="#54ff00"/><stop offset=".625" stop-color="#16ff00"/><stop offset=".679" stop-color="#0f0"/><stop offset=".75" stop-color="#00ff19"/><stop offset=".875" stop-color="#00ff37"/><stop offset="1" stop-color="#00ff46"/></linearGradient><linearGradient id="a252"><stop offset="0" stop-color="#ff1200"/><stop offset=".125" stop-color="#ff9000"/><stop offset=".252" stop-color="#ff0"/><stop offset=".375" stop-color="#a3ff00"/><stop offset=".5" stop-color="#5f0"/><stop offset=".625" stop-color="#17ff00"/><stop offset=".682" stop-color="#0f0"/><stop offset=".75" stop-color="#00ff17"/><stop offset=".875" stop-color="#00ff36"/><stop offset="1" stop-color="#00ff45"/></linearGradient><linearGradient id="a253"><stop offset="0" stop-color="#f10"/><stop offset=".125" stop-color="#ff8e00"/><stop offset=".254" stop-color="#ff0"/><stop offset=".375" stop-color="#a4ff00"/><stop offset=".5" stop-color="#56ff00"/><stop offset=".625" stop-color="#18ff00"/><stop offset=".685" stop-color="#0f0"/><stop offset=".75" stop-color="#00ff16"/><stop offset=".875" stop-color="#00ff35"/><stop offset="1" stop-color="#0f4"/></linearGradient><linearGradient id="a254"><stop offset="0" stop-color="#ff1000"/><stop offset=".125" stop-color="#ff8e00"/><stop offset=".255" stop-color="#ff0"/><stop offset=".375" stop-color="#a5ff00"/><stop offset=".5" stop-color="#57ff00"/><stop offset=".625" stop-color="#19ff00"/><stop offset=".687" stop-color="#0f0"/><stop offset=".75" stop-color="#00ff15"/><stop offset=".875" stop-color="#00ff34"/><stop offset="1" stop-color="#00ff43"/></linearGradient><linearGradient id="a255"><stop offset="0" stop-color="#ff0f00"/><stop offset=".125" stop-color="#ff8d00"/><stop offset=".256" stop-color="#ff0"/><stop offset=".375" stop-color="#a6ff00"/><stop offset=".5" stop-color="#58ff00"/><stop offset=".625" stop-color="#1aff00"/><stop offset=".69" stop-color="#0f0"/><stop offset=".75" stop-color="#00ff14"/><stop offset=".875" stop-color="#0f3"/><stop offset="1" stop-color="#00ff42"/></linearGradient><linearGradient id="a256"><stop offset="0" stop-color="#ff0f00"/><stop offset=".125" stop-color="#ff8c00"/><stop offset=".257" stop-color="#ff0"/><stop offset=".375" stop-color="#a7ff00"/><stop offset=".5" stop-color="#59ff00"/><stop offset=".625" stop-color="#1bff00"/><stop offset=".692" stop-color="#0f0"/><stop offset=".75" stop-color="#00ff14"/><stop offset=".875" stop-color="#00ff32"/><stop offset="1" stop-color="#00ff41"/></linearGradient><linearGradient id="a257"><stop offset="0" stop-color="#ff0e00"/><stop offset=".125" stop-color="#ff8b00"/><stop offset=".258" stop-color="#ff0"/><stop offset=".375" stop-color="#a8ff00"/><stop offset=".5" stop-color="#5aff00"/><stop offset=".625" stop-color="#1bff00"/><stop offset=".694" stop-color="#0f0"/><stop offset=".75" stop-color="#00ff13"/><stop offset=".875" stop-color="#00ff32"/><stop offset="1" stop-color="#00ff41"/></linearGradient><linearGradient id="a258"><stop offset="0" stop-color="#ff0e00"/><stop offset=".125" stop-color="#ff8b00"/><stop offset=".259" stop-color="#ff0"/><stop offset=".375" stop-color="#a8ff00"/><stop offset=".5" stop-color="#5aff00"/><stop offset=".625" stop-color="#1cff00"/><stop offset=".695" stop-color="#0f0"/><stop offset=".75" stop-color="#00ff12"/><stop offset=".875" stop-color="#00ff31"/><stop offset="1" stop-color="#00ff40"/></linearGradient><linearGradient id="a259"><stop offset="0" stop-color="#ff0d00"/><stop offset=".125" stop-color="#ff8a00"/><stop offset=".259" stop-color="#ff0"/><stop offset=".375" stop-color="#a9ff00"/><stop offset=".5" stop-color="#5bff00"/><stop offset=".625" stop-color="#1cff00"/><stop offset=".696" stop-color="#0f0"/><stop offset=".75" stop-color="#00ff12"/><stop offset=".875" stop-color="#00ff31"/><stop offset="1" stop-color="#00ff40"/></linearGradient><linearGradient id="a260"><stop offset="0" stop-color="#ff0d00"/><stop offset=".125" stop-color="#ff8a00"/><stop offset=".26" stop-color="#ff0"/><stop offset=".375" stop-color="#a9ff00"/><stop offset=".5" stop-color="#5bff00"/><stop offset=".625" stop-color="#1dff00"/><stop offset=".697" stop-color="#0f0"/><stop offset=".75" stop-color="#00ff12"/><stop offset=".875" stop-color="#00ff30"/><stop offset="1" stop-color="#00ff3f"/></linearGradient><linearGradient id="a261"><stop offset="0" stop-color="#ff0c00"/><stop offset=".125" stop-color="#ff8a00"/><stop offset=".26" stop-color="#ff0"/><stop offset=".375" stop-color="#a9ff00"/><stop offset=".5" stop-color="#5bff00"/><stop offset=".625" stop-color="#1dff00"/><stop offset=".698" stop-color="#0f0"/><stop offset=".75" stop-color="#0f1"/><stop offset=".875" stop-color="#00ff30"/><stop offset="1" stop-color="#00ff3f"/></linearGradient><linearGradient id="a262"><stop offset="0" stop-color="#ff0c00"/><stop offset=".125" stop-color="#ff8a00"/><stop offset=".26" stop-color="#ff0"/><stop offset=".375" stop-color="#a9ff00"/><stop offset=".5" stop-color="#5bff00"/><stop offset=".625" stop-color="#1dff00"/><stop offset=".698" stop-color="#0f0"/><stop offset=".75" stop-color="#0f1"/><stop offset=".875" stop-color="#00ff30"/><stop offset="1" stop-color="#00ff3f"/></linearGradient><linearGradient id="a263"><stop offset="0" stop-color="#ff0c00"/><stop offset=".125" stop-color="#ff8900"/><stop offset=".26" stop-color="#ff0"/><stop offset=".375" stop-color="#a9ff00"/><stop offset=".5" stop-color="#5bff00"/><stop offset=".625" stop-color="#1dff00"/><stop offset=".698" stop-color="#0f0"/><stop offset=".75" stop-color="#0f1"/><stop offset=".875" stop-color="#00ff30"/><stop offset="1" stop-color="#00ff3f"/></linearGradient><linearGradient id="a264"><stop offset="0" stop-color="#ff0c00"/><stop offset=".125" stop-color="#ff8a00"/><stop offset=".26" stop-color="#ff0"/><stop offset=".375" stop-color="#a9ff00"/><stop offset=".5" stop-color="#5bff00"/><stop offset=".625" stop-color="#1dff00"/><stop offset=".698" stop-color="#0f0"/><stop offset=".75" stop-color="#0f1"/><stop offset=".875" stop-color="#00ff30"/><stop offset="1" stop-color="#00ff3f"/></linearGradient><linearGradient id="a265"><stop offset="0" stop-color="#ff0d00"/><stop offset=".125" stop-color="#ff8a00"/><stop offset=".26" stop-color="#ff0"/><stop offset=".375" stop-color="#a9ff00"/><stop offset=".5" stop-color="#5bff00"/><stop offset=".625" stop-color="#1dff00"/><stop offset=".698" stop-color="#0f0"/><stop offset=".75" stop-color="#00ff12"/><stop offset=".875" stop-color="#00ff30"/><stop offset="1" stop-color="#00ff3f"/></linearGradient><linearGradient id="a266"><stop offset="0" stop-color="#ff0d00"/><stop offset=".125" stop-color="#ff8a00"/><stop offset=".259" stop-color="#ff0"/><stop offset=".375" stop-color="#a9ff00"/><stop offset=".5" stop-color="#5bff00"/><stop offset=".625" stop-color="#1dff00"/><stop offset=".697" stop-color="#0f0"/><stop offset=".75" stop-color="#00ff12"/><stop offset=".875" stop-color="#00ff31"/><stop offset="1" stop-color="#00ff40"/></linearGradient><linearGradient id="a267"><stop offset="0" stop-color="#ff0d00"/><stop offset=".125" stop-color="#ff8a00"/><stop offset=".259" stop-color="#ff0"/><stop offset=".375" stop-color="#a8ff00"/><stop offset=".5" stop-color="#5aff00"/><stop offset=".625" stop-color="#1cff00"/><stop offset=".696" stop-color="#0f0"/><stop offset=".75" stop-color="#00ff12"/><stop offset=".875" stop-color="#00ff31"/><stop offset="1" stop-color="#00ff40"/></linearGradient><linearGradient id="a268"><stop offset="0" stop-color="#ff0e00"/><stop offset=".125" stop-color="#ff8b00"/><stop offset=".258" stop-color="#ff0"/><stop offset=".375" stop-color="#a8ff00"/><stop offset=".5" stop-color="#5aff00"/><stop offset=".625" stop-color="#1cff00"/><stop offset=".694" stop-color="#0f0"/><stop offset=".75" stop-color="#00ff13"/><stop offset=".875" stop-color="#00ff32"/><stop offset="1" stop-color="#00ff41"/></linearGradient><linearGradient id="a269"><stop offset="0" stop-color="#ff0e00"/><stop offset=".125" stop-color="#ff8c00"/><stop offset=".257" stop-color="#ff0"/><stop offset=".375" stop-color="#a7ff00"/><stop offset=".5" stop-color="#59ff00"/><stop offset=".625" stop-color="#1bff00"/><stop offset=".693" stop-color="#0f0"/><stop offset=".75" stop-color="#00ff13"/><stop offset=".875" stop-color="#00ff32"/><stop offset="1" stop-color="#00ff41"/></linearGradient><linearGradient id="a270"><stop offset="0" stop-color="#ff0f00"/><stop offset=".125" stop-color="#ff8c00"/><stop offset=".257" stop-color="#ff0"/><stop offset=".375" stop-color="#a7ff00"/><stop offset=".5" stop-color="#59ff00"/><stop offset=".625" stop-color="#1aff00"/><stop offset=".691" stop-color="#0f0"/><stop offset=".75" stop-color="#00ff14"/><stop offset=".875" stop-color="#0f3"/><stop offset="1" stop-color="#00ff42"/></linearGradient><linearGradient id="a271"><stop offset="0" stop-color="#ff1000"/><stop offset=".125" stop-color="#ff8d00"/><stop offset=".256" stop-color="#ff0"/><stop offset=".375" stop-color="#a6ff00"/><stop offset=".5" stop-color="#58ff00"/><stop offset=".625" stop-color="#1aff00"/><stop offset=".689" stop-color="#0f0"/><stop offset=".75" stop-color="#00ff15"/><stop offset=".875" stop-color="#00ff34"/><stop offset="1" stop-color="#00ff43"/></linearGradient><linearGradient id="a272"><stop offset="0" stop-color="#f10"/><stop offset=".125" stop-color="#ff8e00"/><stop offset=".254" stop-color="#ff0"/><stop offset=".375" stop-color="#a5ff00"/><stop offset=".5" stop-color="#57ff00"/><stop offset=".625" stop-color="#19ff00"/><stop offset=".686" stop-color="#0f0"/><stop offset=".75" stop-color="#00ff16"/><stop offset=".875" stop-color="#00ff35"/><stop offset="1" stop-color="#0f4"/></linearGradient><linearGradient id="a273"><stop offset="0" stop-color="#ff1200"/><stop offset=".125" stop-color="#ff8f00"/><stop offset=".253" stop-color="#ff0"/><stop offset=".375" stop-color="#a4ff00"/><stop offset=".5" stop-color="#56ff00"/><stop offset=".625" stop-color="#18ff00"/><stop offset=".683" stop-color="#0f0"/><stop offset=".75" stop-color="#00ff17"/><stop offset=".875" stop-color="#00ff36"/><stop offset="1" stop-color="#00ff45"/></linearGradient><linearGradient id="a274"><stop offset="0" stop-color="#ff1300"/><stop offset=".125" stop-color="#ff9000"/><stop offset=".252" stop-color="#ff0"/><stop offset=".375" stop-color="#a3ff00"/><stop offset=".5" stop-color="#5f0"/><stop offset=".625" stop-color="#17ff00"/><stop offset=".68" stop-color="#0f0"/><stop offset=".75" stop-color="#00ff18"/><stop offset=".875" stop-color="#00ff37"/><stop offset="1" stop-color="#00ff46"/></linearGradient><linearGradient id="a275"><stop offset="0" stop-color="#ff1400"/><stop offset=".125" stop-color="#ff9100"/><stop offset=".25" stop-color="#ff0"/><stop offset=".375" stop-color="#a1ff00"/><stop offset=".5" stop-color="#54ff00"/><stop offset=".625" stop-color="#15ff00"/><stop offset=".677" stop-color="#0f0"/><stop offset=".75" stop-color="#00ff19"/><stop offset=".875" stop-color="#00ff38"/><stop offset="1" stop-color="#00ff47"/></linearGradient><linearGradient id="a276"><stop offset="0" stop-color="#ff1600"/><stop offset=".125" stop-color="#ff9300"/><stop offset=".249" stop-color="#ff0"/><stop offset=".375" stop-color="#a0ff00"/><stop offset=".5" stop-color="#52ff00"/><stop offset=".625" stop-color="#14ff00"/><stop offset=".674" stop-color="#0f0"/><stop offset=".75" stop-color="#00ff1b"/><stop offset=".875" stop-color="#00ff39"/><stop offset="1" stop-color="#00ff48"/></linearGradient><linearGradient id="a277"><stop offset="0" stop-color="#ff1700"/><stop offset=".125" stop-color="#ff9400"/><stop offset=".247" stop-color="#ff0"/><stop offset=".375" stop-color="#9fff00"/><stop offset=".5" stop-color="#51ff00"/><stop offset=".625" stop-color="#12ff00"/><stop offset=".67" stop-color="#0f0"/><stop offset=".75" stop-color="#00ff1c"/><stop offset=".875" stop-color="#00ff3b"/><stop offset="1" stop-color="#00ff4a"/></linearGradient><linearGradient id="a278"><stop offset="0" stop-color="#ff1900"/><stop offset=".125" stop-color="#ff9600"/><stop offset=".245" stop-color="#ff0"/><stop offset=".375" stop-color="#9dff00"/><stop offset=".5" stop-color="#4fff00"/><stop offset=".625" stop-color="#1f0"/><stop offset=".666" stop-color="#0f0"/><stop offset=".75" stop-color="#00ff1e"/><stop offset=".875" stop-color="#00ff3c"/><stop offset="1" stop-color="#00ff4b"/></linearGradient><linearGradient id="a279"><stop offset="0" stop-color="#ff1a00"/><stop offset=".125" stop-color="#ff9700"/><stop offset=".243" stop-color="#ff0"/><stop offset=".375" stop-color="#9bff00"/><stop offset=".5" stop-color="#4dff00"/><stop offset=".625" stop-color="#0fff00"/><stop offset=".662" stop-color="#0f0"/><stop offset=".75" stop-color="#00ff1f"/><stop offset=".875" stop-color="#00ff3e"/><stop offset="1" stop-color="#00ff4d"/></linearGradient><linearGradient id="a280"><stop offset="0" stop-color="#ff1c00"/><stop offset=".125" stop-color="#f90"/><stop offset=".241" stop-color="#ff0"/><stop offset=".375" stop-color="#9aff00"/><stop offset=".5" stop-color="#4cff00"/><stop offset=".625" stop-color="#0dff00"/><stop offset=".657" stop-color="#0f0"/><stop offset=".75" stop-color="#00ff21"/><stop offset=".875" stop-color="#00ff40"/><stop offset="1" stop-color="#00ff4f"/></linearGradient><linearGradient id="a281"><stop offset="0" stop-color="#ff1e00"/><stop offset=".125" stop-color="#ff9b00"/><stop offset=".238" stop-color="#ff0"/><stop offset=".375" stop-color="#98ff00"/><stop offset=".5" stop-color="#4aff00"/><stop offset=".625" stop-color="#0cff00"/><stop offset=".653" stop-color="#0f0"/><stop offset=".75" stop-color="#00ff23"/><stop offset=".875" stop-color="#00ff42"/><stop offset="1" stop-color="#00ff51"/></linearGradient><linearGradient id="a282"><stop offset="0" stop-color="#ff2000"/><stop offset=".125" stop-color="#ff9d00"/><stop offset=".236" stop-color="#ff0"/><stop offset=".25" stop-color="#f3ff00"/><stop offset=".375" stop-color="#96ff00"/><stop offset=".5" stop-color="#48ff00"/><stop offset=".625" stop-color="#0aff00"/><stop offset=".648" stop-color="#0f0"/><stop offset=".75" stop-color="#00ff25"/><stop offset=".875" stop-color="#0f4"/><stop offset="1" stop-color="#00ff53"/></linearGradient><linearGradient id="a283"><stop offset="0" stop-color="#f20"/><stop offset=".125" stop-color="#ff9f00"/><stop offset=".233" stop-color="#ff0"/><stop offset=".25" stop-color="#f1ff00"/><stop offset=".375" stop-color="#94ff00"/><stop offset=".5" stop-color="#46ff00"/><stop offset=".625" stop-color="#08ff00"/><stop offset=".643" stop-color="#0f0"/><stop offset=".75" stop-color="#00ff27"/><stop offset=".875" stop-color="#00ff46"/><stop offset="1" stop-color="#0f5"/></linearGradient><linearGradient id="a284"><stop offset="0" stop-color="#ff2400"/><stop offset=".125" stop-color="#ffa100"/><stop offset=".231" stop-color="#ff0"/><stop offset=".25" stop-color="#efff00"/><stop offset=".375" stop-color="#92ff00"/><stop offset=".5" stop-color="#4f0"/><stop offset=".625" stop-color="#05ff00"/><stop offset=".637" stop-color="#0f0"/><stop offset=".75" stop-color="#00ff29"/><stop offset=".875" stop-color="#00ff48"/><stop offset="1" stop-color="#00ff57"/></linearGradient><linearGradient id="a285"><stop offset="0" stop-color="#ff2700"/><stop offset=".125" stop-color="#ffa400"/><stop offset=".228" stop-color="#ff0"/><stop offset=".25" stop-color="#edff00"/><stop offset=".375" stop-color="#8fff00"/><stop offset=".5" stop-color="#41ff00"/><stop offset=".632" stop-color="#0f0"/><stop offset=".75" stop-color="#00ff2b"/><stop offset=".875" stop-color="#00ff4a"/><stop offset="1" stop-color="#00ff59"/></linearGradient><linearGradient id="a286"><stop offset="0" stop-color="#ff2900"/><stop offset=".125" stop-color="#ffa600"/><stop offset=".225" stop-color="#ff0"/><stop offset=".25" stop-color="#ebff00"/><stop offset=".375" stop-color="#8dff00"/><stop offset=".5" stop-color="#3fff00"/><stop offset=".626" stop-color="#0f0"/><stop offset=".75" stop-color="#00ff2e"/><stop offset=".875" stop-color="#00ff4d"/><stop offset="1" stop-color="#00ff5c"/></linearGradient><linearGradient id="a287"><stop offset="0" stop-color="#ff2b00"/><stop offset=".125" stop-color="#ffa900"/><stop offset=".222" stop-color="#ff0"/><stop offset=".25" stop-color="#e8ff00"/><stop offset=".375" stop-color="#8aff00"/><stop offset=".5" stop-color="#3cff00"/><stop offset=".621" stop-color="#0f0"/><stop offset=".75" stop-color="#00ff30"/><stop offset=".875" stop-color="#00ff4f"/><stop offset="1" stop-color="#00ff5e"/></linearGradient><linearGradient id="a288"><stop offset="0" stop-color="#ff2e00"/><stop offset=".125" stop-color="#ffab00"/><stop offset=".219" stop-color="#ff0"/><stop offset=".25" stop-color="#e5ff00"/><stop offset=".375" stop-color="#8f0"/><stop offset=".5" stop-color="#3aff00"/><stop offset=".615" stop-color="#0f0"/><stop offset=".75" stop-color="#0f3"/><stop offset=".875" stop-color="#00ff52"/><stop offset="1" stop-color="#00ff61"/></linearGradient><linearGradient id="a289"><stop offset="0" stop-color="#ff3100"/><stop offset=".125" stop-color="#ffae00"/><stop offset=".216" stop-color="#ff0"/><stop offset=".25" stop-color="#e3ff00"/><stop offset=".375" stop-color="#85ff00"/><stop offset=".5" stop-color="#37ff00"/><stop offset=".609" stop-color="#0f0"/><stop offset=".625" stop-color="#00ff07"/><stop offset=".75" stop-color="#00ff36"/><stop offset=".875" stop-color="#00ff54"/><stop offset="1" stop-color="#00ff64"/></linearGradient><linearGradient id="a290"><stop offset="0" stop-color="#ff3400"/><stop offset=".125" stop-color="#ffb100"/><stop offset=".213" stop-color="#ff0"/><stop offset=".25" stop-color="#e0ff00"/><stop offset=".375" stop-color="#82ff00"/><stop offset=".5" stop-color="#34ff00"/><stop offset=".603" stop-color="#0f0"/><stop offset=".625" stop-color="#00ff0a"/><stop offset=".75" stop-color="#00ff39"/><stop offset=".875" stop-color="#00ff57"/><stop offset="1" stop-color="#0f6"/></linearGradient><linearGradient id="a291"><stop offset="0" stop-color="#ff3700"/><stop offset=".125" stop-color="#ffb400"/><stop offset=".209" stop-color="#ff0"/><stop offset=".25" stop-color="#df0"/><stop offset=".375" stop-color="#7fff00"/><stop offset=".5" stop-color="#31ff00"/><stop offset=".596" stop-color="#0f0"/><stop offset=".625" stop-color="#00ff0d"/><stop offset=".75" stop-color="#00ff3b"/><stop offset=".875" stop-color="#00ff5a"/><stop offset="1" stop-color="#00ff69"/></linearGradient><linearGradient id="a292"><stop offset="0" stop-color="#ff3a00"/><stop offset=".125" stop-color="#ffb700"/><stop offset=".206" stop-color="#ff0"/><stop offset=".25" stop-color="#daff00"/><stop offset=".375" stop-color="#7cff00"/><stop offset=".5" stop-color="#2eff00"/><stop offset=".59" stop-color="#0f0"/><stop offset=".625" stop-color="#00ff10"/><stop offset=".75" stop-color="#00ff3f"/><stop offset=".875" stop-color="#00ff5d"/><stop offset="1" stop-color="#00ff6c"/></linearGradient><linearGradient id="a293"><stop offset="0" stop-color="#ff3d00"/><stop offset=".125" stop-color="#ffba00"/><stop offset=".202" stop-color="#ff0"/><stop offset=".25" stop-color="#d7ff00"/><stop offset=".375" stop-color="#79ff00"/><stop offset=".5" stop-color="#2bff00"/><stop offset=".583" stop-color="#0f0"/><stop offset=".625" stop-color="#00ff13"/><stop offset=".75" stop-color="#00ff42"/><stop offset=".875" stop-color="#00ff60"/><stop offset="1" stop-color="#00ff6f"/></linearGradient><linearGradient id="a294"><stop offset="0" stop-color="#ff4000"/><stop offset=".125" stop-color="#ffbd00"/><stop offset=".198" stop-color="#ff0"/><stop offset=".25" stop-color="#d3ff00"/><stop offset=".375" stop-color="#76ff00"/><stop offset=".5" stop-color="#28ff00"/><stop offset=".576" stop-color="#0f0"/><stop offset=".625" stop-color="#00ff16"/><stop offset=".75" stop-color="#00ff45"/><stop offset=".875" stop-color="#00ff64"/><stop offset="1" stop-color="#00ff73"/></linearGradient><linearGradient id="a295"><stop offset="0" stop-color="#ff4300"/><stop offset=".125" stop-color="#ffc000"/><stop offset=".194" stop-color="#ff0"/><stop offset=".25" stop-color="#d0ff00"/><stop offset=".375" stop-color="#72ff00"/><stop offset=".5" stop-color="#24ff00"/><stop offset=".569" stop-color="#0f0"/><stop offset=".625" stop-color="#00ff1a"/><stop offset=".75" stop-color="#00ff48"/><stop offset=".875" stop-color="#00ff67"/><stop offset="1" stop-color="#00ff76"/></linearGradient><linearGradient id="a296"><stop offset="0" stop-color="#ff4700"/><stop offset=".125" stop-color="#ffc400"/><stop offset=".19" stop-color="#ff0"/><stop offset=".25" stop-color="#cdff00"/><stop offset=".375" stop-color="#6fff00"/><stop offset=".5" stop-color="#21ff00"/><stop offset=".562" stop-color="#0f0"/><stop offset=".625" stop-color="#00ff1d"/><stop offset=".75" stop-color="#00ff4c"/><stop offset=".875" stop-color="#00ff6a"/><stop offset="1" stop-color="#00ff7a"/></linearGradient><linearGradient id="a297"><stop offset="0" stop-color="#ff4a00"/><stop offset=".125" stop-color="#ffc700"/><stop offset=".186" stop-color="#ff0"/><stop offset=".25" stop-color="#c9ff00"/><stop offset=".375" stop-color="#6bff00"/><stop offset=".5" stop-color="#1dff00"/><stop offset=".555" stop-color="#0f0"/><stop offset=".625" stop-color="#00ff21"/><stop offset=".75" stop-color="#00ff4f"/><stop offset=".875" stop-color="#00ff6e"/><stop offset="1" stop-color="#00ff7d"/></linearGradient><linearGradient id="a298"><stop offset="0" stop-color="#ff4e00"/><stop offset=".125" stop-color="#ffcb00"/><stop offset=".182" stop-color="#ff0"/><stop offset=".25" stop-color="#c5ff00"/><stop offset=".375" stop-color="#68ff00"/><stop offset=".5" stop-color="#1aff00"/><stop offset=".548" stop-color="#0f0"/><stop offset=".625" stop-color="#00ff24"/><stop offset=".75" stop-color="#00ff53"/><stop offset=".875" stop-color="#00ff72"/><stop offset="1" stop-color="#00ff81"/></linearGradient><linearGradient id="a299"><stop offset="0" stop-color="#ff5200"/><stop offset=".125" stop-color="#ffcf00"/><stop offset=".178" stop-color="#ff0"/><stop offset=".25" stop-color="#c2ff00"/><stop offset=".375" stop-color="#64ff00"/><stop offset=".5" stop-color="#16ff00"/><stop offset=".541" stop-color="#0f0"/><stop offset=".625" stop-color="#00ff28"/><stop offset=".75" stop-color="#00ff57"/><stop offset=".875" stop-color="#00ff75"/><stop offset="1" stop-color="#00ff85"/></linearGradient><linearGradient id="a2100"><stop offset="0" stop-color="#ff5600"/><stop offset=".125" stop-color="#ffd300"/><stop offset=".173" stop-color="#ff0"/><stop offset=".25" stop-color="#beff00"/><stop offset=".375" stop-color="#60ff00"/><stop offset=".5" stop-color="#12ff00"/><stop offset=".533" stop-color="#0f0"/><stop offset=".625" stop-color="#00ff2c"/><stop offset=".75" stop-color="#00ff5b"/><stop offset=".875" stop-color="#00ff79"/><stop offset="1" stop-color="#0f8"/></linearGradient><linearGradient id="a2101"><stop offset="0" stop-color="#ff5a00"/><stop offset=".125" stop-color="#ffd700"/><stop offset=".169" stop-color="#ff0"/><stop offset=".25" stop-color="#baff00"/><stop offset=".375" stop-color="#5cff00"/><stop offset=".5" stop-color="#0eff00"/><stop offset=".526" stop-color="#0f0"/><stop offset=".625" stop-color="#00ff30"/><stop offset=".75" stop-color="#00ff5f"/><stop offset=".875" stop-color="#00ff7d"/><stop offset="1" stop-color="#00ff8c"/></linearGradient><linearGradient id="a2102"><stop offset="0" stop-color="#ff5e00"/><stop offset=".125" stop-color="#ffdb00"/><stop offset=".164" stop-color="#ff0"/><stop offset=".25" stop-color="#b6ff00"/><stop offset=".375" stop-color="#58ff00"/><stop offset=".5" stop-color="#0aff00"/><stop offset=".518" stop-color="#0f0"/><stop offset=".625" stop-color="#00ff34"/><stop offset=".75" stop-color="#00ff63"/><stop offset=".875" stop-color="#00ff81"/><stop offset="1" stop-color="#00ff90"/></linearGradient><linearGradient id="a2103"><stop offset="0" stop-color="#ff6200"/><stop offset=".125" stop-color="#ffdf00"/><stop offset=".16" stop-color="#ff0"/><stop offset=".25" stop-color="#b1ff00"/><stop offset=".375" stop-color="#54ff00"/><stop offset=".511" stop-color="#0f0"/><stop offset=".625" stop-color="#00ff38"/><stop offset=".75" stop-color="#00ff67"/><stop offset=".875" stop-color="#00ff86"/><stop offset="1" stop-color="#00ff95"/></linearGradient><linearGradient id="a2104"><stop offset="0" stop-color="#f60"/><stop offset=".125" stop-color="#ffe300"/><stop offset=".155" stop-color="#ff0"/><stop offset=".25" stop-color="#adff00"/><stop offset=".375" stop-color="#50ff00"/><stop offset=".503" stop-color="#0f0"/><stop offset=".625" stop-color="#00ff3d"/><stop offset=".75" stop-color="#00ff6b"/><stop offset=".875" stop-color="#00ff8a"/><stop offset="1" stop-color="#0f9"/></linearGradient><linearGradient id="a2105"><stop offset="0" stop-color="#ff6b00"/><stop offset=".125" stop-color="#ffe800"/><stop offset=".15" stop-color="#ff0"/><stop offset=".25" stop-color="#a9ff00"/><stop offset=".375" stop-color="#4bff00"/><stop offset=".495" stop-color="#0f0"/><stop offset=".625" stop-color="#00ff41"/><stop offset=".75" stop-color="#00ff70"/><stop offset=".875" stop-color="#00ff8e"/><stop offset="1" stop-color="#00ff9d"/></linearGradient><linearGradient id="a2106"><stop offset="0" stop-color="#ff6f00"/><stop offset=".125" stop-color="#ffec00"/><stop offset=".145" stop-color="#ff0"/><stop offset=".25" stop-color="#a4ff00"/><stop offset=".375" stop-color="#47ff00"/><stop offset=".487" stop-color="#0f0"/><stop offset=".5" stop-color="#00ff07"/><stop offset=".625" stop-color="#00ff46"/><stop offset=".75" stop-color="#00ff74"/><stop offset=".875" stop-color="#00ff93"/><stop offset="1" stop-color="#00ffa2"/></linearGradient><linearGradient id="a2107"><stop offset="0" stop-color="#ff7400"/><stop offset=".125" stop-color="#fff100"/><stop offset=".14" stop-color="#ff0"/><stop offset=".25" stop-color="#a0ff00"/><stop offset=".375" stop-color="#42ff00"/><stop offset=".479" stop-color="#0f0"/><stop offset=".5" stop-color="#00ff0c"/><stop offset=".625" stop-color="#00ff4a"/><stop offset=".75" stop-color="#00ff79"/><stop offset=".875" stop-color="#00ff97"/><stop offset="1" stop-color="#00ffa7"/></linearGradient><linearGradient id="a2108"><stop offset="0" stop-color="#ff7900"/><stop offset=".135" stop-color="#ff0"/><stop offset=".25" stop-color="#9bff00"/><stop offset=".375" stop-color="#3dff00"/><stop offset=".471" stop-color="#0f0"/><stop offset=".5" stop-color="#0f1"/><stop offset=".625" stop-color="#00ff4f"/><stop offset=".75" stop-color="#00ff7d"/><stop offset=".875" stop-color="#00ff9c"/><stop offset="1" stop-color="#00ffab"/></linearGradient><linearGradient id="a2109"><stop offset="0" stop-color="#ff7d00"/><stop offset=".13" stop-color="#ff0"/><stop offset=".25" stop-color="#96ff00"/><stop offset=".375" stop-color="#38ff00"/><stop offset=".463" stop-color="#0f0"/><stop offset=".5" stop-color="#00ff16"/><stop offset=".625" stop-color="#00ff54"/><stop offset=".75" stop-color="#00ff82"/><stop offset=".875" stop-color="#00ffa1"/><stop offset="1" stop-color="#00ffb0"/></linearGradient><linearGradient id="a2110"><stop offset="0" stop-color="#ff8200"/><stop offset=".125" stop-color="#ff0"/><stop offset=".25" stop-color="#91ff00"/><stop offset=".375" stop-color="#3f0"/><stop offset=".455" stop-color="#0f0"/><stop offset=".5" stop-color="#00ff1a"/><stop offset=".625" stop-color="#00ff59"/><stop offset=".75" stop-color="#00ff87"/><stop offset=".875" stop-color="#00ffa6"/><stop offset="1" stop-color="#00ffb5"/></linearGradient><linearGradient id="a2111"><stop offset="0" stop-color="#ff8700"/><stop offset=".119" stop-color="#ff0"/><stop offset=".25" stop-color="#8cff00"/><stop offset=".375" stop-color="#2eff00"/><stop offset=".446" stop-color="#0f0"/><stop offset=".5" stop-color="#00ff20"/><stop offset=".625" stop-color="#00ff5e"/><stop offset=".75" stop-color="#00ff8c"/><stop offset=".875" stop-color="#00ffab"/><stop offset="1" stop-color="#00ffba"/></linearGradient><linearGradient id="a2112"><stop offset="0" stop-color="#ff8c00"/><stop offset=".114" stop-color="#ff0"/><stop offset=".25" stop-color="#87ff00"/><stop offset=".375" stop-color="#29ff00"/><stop offset=".438" stop-color="#0f0"/><stop offset=".5" stop-color="#00ff25"/><stop offset=".625" stop-color="#00ff63"/><stop offset=".75" stop-color="#00ff91"/><stop offset=".875" stop-color="#00ffb0"/><stop offset="1" stop-color="#00ffbf"/></linearGradient><linearGradient id="a2113"><stop offset="0" stop-color="#ff9200"/><stop offset=".108" stop-color="#ff0"/><stop offset=".125" stop-color="#efff00"/><stop offset=".25" stop-color="#82ff00"/><stop offset=".375" stop-color="#24ff00"/><stop offset=".43" stop-color="#0f0"/><stop offset=".5" stop-color="#00ff2a"/><stop offset=".625" stop-color="#00ff68"/><stop offset=".75" stop-color="#00ff97"/><stop offset=".875" stop-color="#00ffb5"/><stop offset="1" stop-color="#00ffc4"/></linearGradient><linearGradient id="a2114"><stop offset="0" stop-color="#ff9700"/><stop offset=".103" stop-color="#ff0"/><stop offset=".125" stop-color="#eaff00"/><stop offset=".25" stop-color="#7cff00"/><stop offset=".375" stop-color="#1fff00"/><stop offset=".421" stop-color="#0f0"/><stop offset=".5" stop-color="#00ff2f"/><stop offset=".625" stop-color="#00ff6e"/><stop offset=".75" stop-color="#00ff9c"/><stop offset=".875" stop-color="#0fb"/><stop offset="1" stop-color="#00ffca"/></linearGradient><linearGradient id="a2115"><stop offset="0" stop-color="#ff9d00"/><stop offset=".097" stop-color="#ff0"/><stop offset=".125" stop-color="#e4ff00"/><stop offset=".25" stop-color="#7f0"/><stop offset=".375" stop-color="#19ff00"/><stop offset=".413" stop-color="#0f0"/><stop offset=".5" stop-color="#00ff35"/><stop offset=".625" stop-color="#00ff73"/><stop offset=".75" stop-color="#00ffa1"/><stop offset=".875" stop-color="#00ffc0"/><stop offset="1" stop-color="#00ffcf"/></linearGradient><linearGradient id="a2116"><stop offset="0" stop-color="#ffa200"/><stop offset=".091" stop-color="#ff0"/><stop offset=".125" stop-color="#dfff00"/><stop offset=".25" stop-color="#71ff00"/><stop offset=".375" stop-color="#14ff00"/><stop offset=".404" stop-color="#0f0"/><stop offset=".5" stop-color="#00ff3a"/><stop offset=".625" stop-color="#00ff79"/><stop offset=".75" stop-color="#00ffa7"/><stop offset=".875" stop-color="#00ffc6"/><stop offset="1" stop-color="#00ffd5"/></linearGradient><linearGradient id="a2117"><stop offset="0" stop-color="#ffa800"/><stop offset=".085" stop-color="#ff0"/><stop offset=".125" stop-color="#d9ff00"/><stop offset=".25" stop-color="#6cff00"/><stop offset=".375" stop-color="#0eff00"/><stop offset=".396" stop-color="#0f0"/><stop offset=".5" stop-color="#00ff40"/><stop offset=".625" stop-color="#00ff7e"/><stop offset=".75" stop-color="#00ffad"/><stop offset=".875" stop-color="#00ffcb"/><stop offset="1" stop-color="#00ffdb"/></linearGradient><linearGradient id="a2118"><stop offset="0" stop-color="#ffae00"/><stop offset=".079" stop-color="#ff0"/><stop offset=".125" stop-color="#d3ff00"/><stop offset=".25" stop-color="#6f0"/><stop offset=".387" stop-color="#0f0"/><stop offset=".5" stop-color="#00ff46"/><stop offset=".625" stop-color="#00ff84"/><stop offset=".75" stop-color="#00ffb3"/><stop offset=".875" stop-color="#00ffd1"/><stop offset="1" stop-color="#00ffe0"/></linearGradient><linearGradient id="a2119"><stop offset="0" stop-color="#ffb300"/><stop offset=".074" stop-color="#ff0"/><stop offset=".125" stop-color="#cdff00"/><stop offset=".25" stop-color="#60ff00"/><stop offset=".378" stop-color="#0f0"/><stop offset=".5" stop-color="#00ff4c"/><stop offset=".625" stop-color="#00ff8a"/><stop offset=".75" stop-color="#00ffb8"/><stop offset=".875" stop-color="#00ffd7"/><stop offset="1" stop-color="#00ffe6"/></linearGradient><linearGradient id="a2120"><stop offset="0" stop-color="#ffb900"/><stop offset=".067" stop-color="#ff0"/><stop offset=".125" stop-color="#c7ff00"/><stop offset=".25" stop-color="#5aff00"/><stop offset=".37" stop-color="#0f0"/><stop offset=".5" stop-color="#00ff52"/><stop offset=".625" stop-color="#00ff90"/><stop offset=".75" stop-color="#00ffbe"/><stop offset=".875" stop-color="#0fd"/><stop offset="1" stop-color="#00ffec"/></linearGradient><linearGradient id="a2121"><stop offset="0" stop-color="#ffc000"/><stop offset=".061" stop-color="#ff0"/><stop offset=".125" stop-color="#c1ff00"/><stop offset=".25" stop-color="#54ff00"/><stop offset=".361" stop-color="#0f0"/><stop offset=".375" stop-color="#00ff0a"/><stop offset=".5" stop-color="#00ff58"/><stop offset=".625" stop-color="#00ff96"/><stop offset=".75" stop-color="#00ffc4"/><stop offset=".875" stop-color="#00ffe3"/><stop offset="1" stop-color="#00fff2"/></linearGradient><linearGradient id="a2122"><stop offset="0" stop-color="#ffc600"/><stop offset=".055" stop-color="#ff0"/><stop offset=".125" stop-color="#bf0"/><stop offset=".25" stop-color="#4eff00"/><stop offset=".352" stop-color="#0f0"/><stop offset=".375" stop-color="#00ff10"/><stop offset=".5" stop-color="#00ff5e"/><stop offset=".625" stop-color="#00ff9c"/><stop offset=".75" stop-color="#00ffcb"/><stop offset=".875" stop-color="#00ffe9"/><stop offset="1" stop-color="#00fff8"/></linearGradient><linearGradient id="a2123"><stop offset="0" stop-color="#fc0"/><stop offset=".049" stop-color="#ff0"/><stop offset=".125" stop-color="#b5ff00"/><stop offset=".25" stop-color="#47ff00"/><stop offset=".343" stop-color="#0f0"/><stop offset=".375" stop-color="#00ff16"/><stop offset=".5" stop-color="#00ff64"/><stop offset=".625" stop-color="#00ffa3"/><stop offset=".75" stop-color="#00ffd1"/><stop offset=".875" stop-color="#00fff0"/><stop offset="1" stop-color="#0ff"/></linearGradient><linearGradient id="a2124"><stop offset="0" stop-color="#ffd300"/><stop offset=".043" stop-color="#ff0"/><stop offset=".125" stop-color="#aeff00"/><stop offset=".25" stop-color="#41ff00"/><stop offset=".334" stop-color="#0f0"/><stop offset=".375" stop-color="#00ff1d"/><stop offset=".5" stop-color="#00ff6b"/><stop offset=".625" stop-color="#00ffa9"/><stop offset=".75" stop-color="#00ffd7"/><stop offset=".875" stop-color="#00fff6"/><stop offset=".932" stop-color="#0ff"/><stop offset="1" stop-color="#00f9ff"/></linearGradient><linearGradient id="a2125"><stop offset="0" stop-color="#ffd900"/><stop offset=".036" stop-color="#ff0"/><stop offset=".125" stop-color="#a8ff00"/><stop offset=".25" stop-color="#3aff00"/><stop offset=".325" stop-color="#0f0"/><stop offset=".375" stop-color="#00ff23"/><stop offset=".5" stop-color="#00ff71"/><stop offset=".625" stop-color="#00ffaf"/><stop offset=".75" stop-color="#00ffde"/><stop offset=".875" stop-color="#00fffd"/><stop offset=".888" stop-color="#0ff"/><stop offset="1" stop-color="#00f2ff"/></linearGradient><linearGradient id="a2126"><stop offset="0" stop-color="#ffe000"/><stop offset=".03" stop-color="#ff0"/><stop offset=".125" stop-color="#a1ff00"/><stop offset=".25" stop-color="#34ff00"/><stop offset=".316" stop-color="#0f0"/><stop offset=".375" stop-color="#00ff2a"/><stop offset=".5" stop-color="#00ff78"/><stop offset=".625" stop-color="#00ffb6"/><stop offset=".75" stop-color="#00ffe5"/><stop offset=".853" stop-color="#0ff"/><stop offset=".875" stop-color="#00fbff"/><stop offset="1" stop-color="#00ecff"/></linearGradient><linearGradient id="a2127"><stop offset="0" stop-color="#ffe600"/><stop offset=".023" stop-color="#ff0"/><stop offset=".125" stop-color="#9aff00"/><stop offset=".25" stop-color="#2dff00"/><stop offset=".308" stop-color="#0f0"/><stop offset=".375" stop-color="#00ff31"/><stop offset=".5" stop-color="#00ff7f"/><stop offset=".625" stop-color="#00ffbd"/><stop offset=".75" stop-color="#00ffeb"/><stop offset=".822" stop-color="#0ff"/><stop offset=".875" stop-color="#00f4ff"/><stop offset="1" stop-color="#00e5ff"/></linearGradient><linearGradient id="a2128"><stop offset="0" stop-color="#ffed00"/><stop offset=".017" stop-color="#ff0"/><stop offset=".125" stop-color="#94ff00"/><stop offset=".25" stop-color="#26ff00"/><stop offset=".299" stop-color="#0f0"/><stop offset=".375" stop-color="#00ff37"/><stop offset=".5" stop-color="#00ff85"/><stop offset=".625" stop-color="#00ffc4"/><stop offset=".75" stop-color="#00fff2"/><stop offset=".795" stop-color="#0ff"/><stop offset=".875" stop-color="#00edff"/><stop offset="1" stop-color="#00deff"/></linearGradient><linearGradient id="a2129"><stop offset="0" stop-color="#fff400"/><stop offset=".125" stop-color="#8dff00"/><stop offset=".25" stop-color="#1fff00"/><stop offset=".289" stop-color="#0f0"/><stop offset=".375" stop-color="#00ff3e"/><stop offset=".5" stop-color="#00ff8c"/><stop offset=".625" stop-color="#00ffcb"/><stop offset=".75" stop-color="#00fff9"/><stop offset=".77" stop-color="#0ff"/><stop offset=".875" stop-color="#00e6ff"/><stop offset="1" stop-color="#00d7ff"/></linearGradient><linearGradient id="a2130"><stop offset="0" stop-color="#fffb00"/><stop offset=".125" stop-color="#86ff00"/><stop offset=".25" stop-color="#18ff00"/><stop offset=".28" stop-color="#0f0"/><stop offset=".375" stop-color="#00ff45"/><stop offset=".5" stop-color="#00ff93"/><stop offset=".625" stop-color="#00ffd2"/><stop offset=".746" stop-color="#0ff"/><stop offset=".875" stop-color="#00dfff"/><stop offset="1" stop-color="#00d0ff"/></linearGradient><linearGradient id="a2131"><stop offset="0" stop-color="#fcff00"/><stop offset=".125" stop-color="#7eff00"/><stop offset=".25" stop-color="#1f0"/><stop offset=".271" stop-color="#0f0"/><stop offset=".375" stop-color="#00ff4d"/><stop offset=".5" stop-color="#00ff9b"/><stop offset=".625" stop-color="#00ffd9"/><stop offset=".724" stop-color="#0ff"/><stop offset=".75" stop-color="#00f7ff"/><stop offset=".875" stop-color="#00d8ff"/><stop offset="1" stop-color="#00c9ff"/></linearGradient><linearGradient id="a2132"><stop offset="0" stop-color="#f4ff00"/><stop offset=".125" stop-color="#7f0"/><stop offset=".25" stop-color="#0aff00"/><stop offset=".262" stop-color="#0f0"/><stop offset=".375" stop-color="#00ff54"/><stop offset=".5" stop-color="#00ffa2"/><stop offset=".625" stop-color="#00ffe0"/><stop offset=".703" stop-color="#0ff"/><stop offset=".75" stop-color="#00efff"/><stop offset=".875" stop-color="#00d1ff"/><stop offset="1" stop-color="#00c2ff"/></linearGradient><linearGradient id="a2133"><stop offset="0" stop-color="#edff00"/><stop offset=".125" stop-color="#70ff00"/><stop offset=".253" stop-color="#0f0"/><stop offset=".375" stop-color="#00ff5b"/><stop offset=".5" stop-color="#00ffa9"/><stop offset=".625" stop-color="#00ffe7"/><stop offset=".683" stop-color="#0ff"/><stop offset=".75" stop-color="#00e8ff"/><stop offset=".875" stop-color="#00c9ff"/><stop offset="1" stop-color="#00baff"/></linearGradient><linearGradient id="a2134"><stop offset="0" stop-color="#e6ff00"/><stop offset=".125" stop-color="#68ff00"/><stop offset=".244" stop-color="#0f0"/><stop offset=".375" stop-color="#00ff63"/><stop offset=".5" stop-color="#00ffb1"/><stop offset=".625" stop-color="#00ffef"/><stop offset=".664" stop-color="#0ff"/><stop offset=".75" stop-color="#00e1ff"/><stop offset=".875" stop-color="#00c2ff"/><stop offset="1" stop-color="#00b3ff"/></linearGradient><linearGradient id="a2135"><stop offset="0" stop-color="#deff00"/><stop offset=".125" stop-color="#61ff00"/><stop offset=".235" stop-color="#0f0"/><stop offset=".25" stop-color="#00ff0d"/><stop offset=".375" stop-color="#00ff6a"/><stop offset=".5" stop-color="#00ffb8"/><stop offset=".625" stop-color="#00fff6"/><stop offset=".645" stop-color="#0ff"/><stop offset=".75" stop-color="#00d9ff"/><stop offset=".875" stop-color="#00baff"/><stop offset="1" stop-color="#00abff"/></linearGradient><linearGradient id="a2136"><stop offset="0" stop-color="#d6ff00"/><stop offset=".125" stop-color="#59ff00"/><stop offset=".225" stop-color="#0f0"/><stop offset=".25" stop-color="#00ff14"/><stop offset=".375" stop-color="#00ff72"/><stop offset=".5" stop-color="#00ffc0"/><stop offset=".627" stop-color="#0ff"/><stop offset=".75" stop-color="#00d1ff"/><stop offset=".875" stop-color="#00b3ff"/><stop offset="1" stop-color="#00a4ff"/></linearGradient><linearGradient id="a2137"><stop offset="0" stop-color="#ceff00"/><stop offset=".125" stop-color="#51ff00"/><stop offset=".216" stop-color="#0f0"/><stop offset=".25" stop-color="#00ff1c"/><stop offset=".375" stop-color="#00ff7a"/><stop offset=".5" stop-color="#00ffc8"/><stop offset=".609" stop-color="#0ff"/><stop offset=".625" stop-color="#00f8ff"/><stop offset=".75" stop-color="#00caff"/><stop offset=".875" stop-color="#00abff"/><stop offset="1" stop-color="#009cff"/></linearGradient><linearGradient id="a2138"><stop offset="0" stop-color="#c7ff00"/><stop offset=".125" stop-color="#49ff00"/><stop offset=".207" stop-color="#0f0"/><stop offset=".25" stop-color="#00ff24"/><stop offset=".375" stop-color="#00ff82"/><stop offset=".5" stop-color="#00ffd0"/><stop offset=".592" stop-color="#0ff"/><stop offset=".625" stop-color="#00f0ff"/><stop offset=".75" stop-color="#00c2ff"/><stop offset=".875" stop-color="#00a3ff"/><stop offset="1" stop-color="#0094ff"/></linearGradient><linearGradient id="a2139"><stop offset="0" stop-color="#bfff00"/><stop offset=".125" stop-color="#41ff00"/><stop offset=".198" stop-color="#0f0"/><stop offset=".25" stop-color="#00ff2c"/><stop offset=".375" stop-color="#00ff8a"/><stop offset=".5" stop-color="#00ffd8"/><stop offset=".575" stop-color="#0ff"/><stop offset=".625" stop-color="#00e8ff"/><stop offset=".75" stop-color="#00baff"/><stop offset=".875" stop-color="#009bff"/><stop offset="1" stop-color="#008cff"/></linearGradient><linearGradient id="a2140"><stop offset="0" stop-color="#b6ff00"/><stop offset=".125" stop-color="#39ff00"/><stop offset=".188" stop-color="#0f0"/><stop offset=".25" stop-color="#00ff34"/><stop offset=".375" stop-color="#00ff92"/><stop offset=".5" stop-color="#00ffe0"/><stop offset=".559" stop-color="#0ff"/><stop offset=".625" stop-color="#00e0ff"/><stop offset=".75" stop-color="#00b2ff"/><stop offset=".875" stop-color="#0093ff"/><stop offset="1" stop-color="#0084ff"/></linearGradient><linearGradient id="a2141"><stop offset="0" stop-color="#aeff00"/><stop offset=".125" stop-color="#31ff00"/><stop offset=".179" stop-color="#0f0"/><stop offset=".25" stop-color="#00ff3c"/><stop offset=".375" stop-color="#00ff9a"/><stop offset=".5" stop-color="#00ffe8"/><stop offset=".543" stop-color="#0ff"/><stop offset=".625" stop-color="#00d8ff"/><stop offset=".75" stop-color="#00a9ff"/><stop offset=".875" stop-color="#008bff"/><stop offset="1" stop-color="#007cff"/></linearGradient><linearGradient id="a2142"><stop offset="0" stop-color="#a6ff00"/><stop offset=".125" stop-color="#29ff00"/><stop offset=".17" stop-color="#0f0"/><stop offset=".25" stop-color="#00ff45"/><stop offset=".375" stop-color="#00ffa2"/><stop offset=".5" stop-color="#00fff0"/><stop offset=".527" stop-color="#0ff"/><stop offset=".625" stop-color="#00d0ff"/><stop offset=".75" stop-color="#00a1ff"/><stop offset=".875" stop-color="#0082ff"/><stop offset="1" stop-color="#0073ff"/></linearGradient><linearGradient id="a2143"><stop offset="0" stop-color="#9eff00"/><stop offset=".125" stop-color="#20ff00"/><stop offset=".16" stop-color="#0f0"/><stop offset=".25" stop-color="#00ff4d"/><stop offset=".375" stop-color="#00ffab"/><stop offset=".511" stop-color="#0ff"/><stop offset=".625" stop-color="#00c7ff"/><stop offset=".75" stop-color="#09f"/><stop offset=".875" stop-color="#007aff"/><stop offset="1" stop-color="#006bff"/></linearGradient><linearGradient id="a2144"><stop offset="0" stop-color="#95ff00"/><stop offset=".125" stop-color="#18ff00"/><stop offset=".151" stop-color="#0f0"/><stop offset=".25" stop-color="#00ff56"/><stop offset=".375" stop-color="#00ffb3"/><stop offset=".496" stop-color="#0ff"/><stop offset=".625" stop-color="#00bfff"/><stop offset=".75" stop-color="#0090ff"/><stop offset=".875" stop-color="#0071ff"/><stop offset="1" stop-color="#0062ff"/></linearGradient><linearGradient id="a2145"><stop offset="0" stop-color="#8cff00"/><stop offset=".125" stop-color="#0fff00"/><stop offset=".141" stop-color="#0f0"/><stop offset=".25" stop-color="#00ff5e"/><stop offset=".375" stop-color="#00ffbc"/><stop offset=".481" stop-color="#0ff"/><stop offset=".5" stop-color="#00f4ff"/><stop offset=".625" stop-color="#00b6ff"/><stop offset=".75" stop-color="#0087ff"/><stop offset=".875" stop-color="#0069ff"/><stop offset="1" stop-color="#005aff"/></linearGradient><linearGradient id="a2146"><stop offset="0" stop-color="#84ff00"/><stop offset=".132" stop-color="#0f0"/><stop offset=".25" stop-color="#00ff67"/><stop offset=".375" stop-color="#00ffc5"/><stop offset=".466" stop-color="#0ff"/><stop offset=".5" stop-color="#00ebff"/><stop offset=".625" stop-color="#00adff"/><stop offset=".75" stop-color="#007fff"/><stop offset=".875" stop-color="#0060ff"/><stop offset="1" stop-color="#0051ff"/></linearGradient><linearGradient id="a2147"><stop offset="0" stop-color="#7bff00"/><stop offset=".123" stop-color="#0f0"/><stop offset=".25" stop-color="#00ff70"/><stop offset=".375" stop-color="#00ffcd"/><stop offset=".451" stop-color="#0ff"/><stop offset=".5" stop-color="#00e3ff"/><stop offset=".625" stop-color="#00a4ff"/><stop offset=".75" stop-color="#0076ff"/><stop offset=".875" stop-color="#0057ff"/><stop offset="1" stop-color="#0048ff"/></linearGradient><linearGradient id="a2148"><stop offset="0" stop-color="#72ff00"/><stop offset=".113" stop-color="#0f0"/><stop offset=".25" stop-color="#00ff79"/><stop offset=".375" stop-color="#00ffd6"/><stop offset=".437" stop-color="#0ff"/><stop offset=".5" stop-color="#00daff"/><stop offset=".625" stop-color="#009bff"/><stop offset=".75" stop-color="#006dff"/><stop offset=".875" stop-color="#004eff"/><stop offset="1" stop-color="#003fff"/></linearGradient><linearGradient id="a2149"><stop offset="0" stop-color="#6dff00"/><stop offset=".108" stop-color="#0f0"/><stop offset=".125" stop-color="#0f1"/><stop offset=".25" stop-color="#00ff7e"/><stop offset=".375" stop-color="#00ffdc"/><stop offset=".429" stop-color="#0ff"/><stop offset=".5" stop-color="#00d4ff"/><stop offset=".625" stop-color="#0096ff"/><stop offset=".75" stop-color="#0068ff"/><stop offset=".875" stop-color="#0049ff"/><stop offset="1" stop-color="#003aff"/></linearGradient></defs><g shape-rendering="crispEdges"><rect x="1464" width="890" y="75" height="6.6" fill="url(#a20)"/><rect x="1464" width="890" y="81" height="6.6" fill="url(#a21)"/><rect x="1464" width="890" y="87" height="6.6" fill="url(#a22)"/><rect x="1464" width="890" y="93" height="6.6" fill="url(#a23)"/><rect x="1464" width="890" y="99" height="6.6" fill="url(#a24)"/><rect x="1464" width="890" y="105" height="6.6" fill="url(#a25)"/><rect x="1464" width="890" y="111" height="6.6" fill="url(#a26)"/><rect x="1464" width="890" y="117" height="6.6" fill="url(#a27)"/><rect x="1464" width="890" y="123" height="6.6" fill="url(#a28)"/><rect x="1464" width="890" y="129" height="6.6" fill="url(#a29)"/><rect x="1464" width="890" y="135" height="6.6" fill="url(#a210)"/><rect x="1464" width="890" y="141" height="6.6" fill="url(#a211)"/><rect x="1464" width="890" y="147" height="6.6" fill="url(#a212)"/><rect x="1464" width="890" y="153" height="6.6" fill="url(#a213)"/><rect x="1464" width="890" y="159" height="6.6" fill="url(#a214)"/><rect x="1464" width="890" y="165" height="6.6" fill="url(#a215)"/><rect x="1464" width="890" y="171" height="6.6" fill="url(#a216)"/><rect x="1464" width="890" y="177" height="6.6" fill="url(#a217)"/><rect x="1464" width="890" y="183" height="6.6" fill="url(#a218)"/><rect x="1464" width="890" y="189" height="6.6" fill="url(#a219)"/><rect x="1464" width="890" y="195" height="6.6" fill="url(#a220)"/><rect x="1464" width="890" y="201" height="6.6" fill="url(#a221)"/><rect x="1464" width="890" y="207" height="6.6" fill="url(#a222)"/><rect x="1464" width="890" y="213" height="6.6" fill="url(#a223)"/><rect x="1464" width="890" y="219" height="6.6" fill="url(#a224)"/><rect x="1464" width="890" y="225" height="6.6" fill="url(#a225)"/><rect x="1464" width="890" y="231" height="6.6" fill="url(#a226)"/><rect x="1464" width="890" y="237" height="6.6" fill="url(#a227)"/><rect x="1464" width="890" y="243" height="6.6" fill="url(#a228)"/><rect x="1464" width="890" y="249" height="6.6" fill="url(#a229)"/><rect x="1464" width="890" y="255" height="6.6" fill="url(#a230)"/><rect x="1464" width="890" y="261" height="6.6" fill="url(#a231)"/><rect x="1464" width="890" y="267" height="6.6" fill="url(#a232)"/><rect x="1464" width="890" y="273" height="6.6" fill="url(#a233)"/><rect x="1464" width="890" y="279" height="6.6" fill="url(#a234)"/><rect x="1464" width="890" y="285" height="6.6" fill="url(#a235)"/><rect x="1464" width="890" y="291" height="6.6" fill="url(#a236)"/><rect x="1464" width="890" y="297" height="6.6" fill="url(#a237)"/><rect x="1464" width="890" y="303" height="6.6" fill="url(#a238)"/><rect x="1464" width="890" y="309" height="6.6" fill="url(#a239)"/><rect x="1464" width="890" y="315" height="6.6" fill="url(#a240)"/><rect x="1464" width="890" y="321" height="6.6" fill="url(#a241)"/><rect x="1464" width="890" y="327" height="6.6" fill="url(#a242)"/><rect x="1464" width="890" y="333" height="6.6" fill="url(#a243)"/><rect x="1464" width="890" y="339" height="6.6" fill="url(#a244)"/><rect x="1464" width="890" y="345" height="6.6" fill="url(#a245)"/><rect x="1464" width="890" y="351" height="6.6" fill="url(#a246)"/><rect x="1464" width="890" y="357" height="6.6" fill="url(#a247)"/><rect x="1464" width="890" y="363" height="6.6" fill="url(#a248)"/><rect x="1464" width="890" y="369" height="6.6" fill="url(#a249)"/><rect x="1464" width="890" y="375" height="6.6" fill="url(#a250)"/><rect x="1464" width="890" y="381" height="6.6" fill="url(#a251)"/><rect x="1464" width="890" y="387" height="6.6" fill="url(#a252)"/><rect x="1464" width="890" y="393" height="6.6" fill="url(#a253)"/><rect x="1464" width="890" y="399" height="6.6" fill="url(#a254)"/><rect x="1464" width="890" y="405" height="6.6" fill="url(#a255)"/><rect x="1464" width="890" y="411" height="6.6" fill="url(#a256)"/><rect x="1464" width="890" y="417" height="6.6" fill="url(#a257)"/><rect x="1464" width="890" y="423" height="6.6" fill="url(#a258)"/><rect x="1464" width="890" y="429" height="6.6" fill="url(#a259)"/><rect x="1464" width="890" y="435" height="6.6" fill="url(#a260)"/><rect x="1464" width="890" y="441" height="6.6" fill="url(#a261)"/><rect x="1464" width="890" y="447" height="6.6" fill="url(#a262)"/><rect x="1464" width="890" y="453" height="6.6" fill="url(#a263)"/><rect x="1464" width="890" y="459" height="6.6" fill="url(#a264)"/><rect x="1464" width="890" y="465" height="6.6" fill="url(#a265)"/><rect x="1464" width="890" y="471" height="6.6" fill="url(#a266)"/><rect x="1464" width="890" y="477" height="6.6" fill="url(#a267)"/><rect x="1464" width="890" y="483" height="6.6" fill="url(#a268)"/><rect x="1464" width="890" y="489" height="6.6" fill="url(#a269)"/><rect x="1464" width="890" y="495" height="6.6" fill="url(#a270)"/><rect x="1464" width="890" y="501" height="6.6" fill="url(#a271)"/><rect x="1464" width="890" y="507" height="6.6" fill="url(#a272)"/><rect x="1464" width="890" y="513" height="6.6" fill="url(#a273)"/><rect x="1464" width="890" y="519" height="6.6" fill="url(#a274)"/><rect x="1464" width="890" y="525" height="6.6" fill="url(#a275)"/><rect x="1464" width="890" y="531" height="6.6" fill="url(#a276)"/><rect x="1464" width="890" y="537" height="6.6" fill="url(#a277)"/><rect x="1464" width="890" y="543" height="6.6" fill="url(#a278)"/><rect x="1464" width="890" y="549" height="6.6" fill="url(#a279)"/><rect x="1464" width="890" y="555" height="6.6" fill="url(#a280)"/><rect x="1464" width="890" y="561" height="6.6" fill="url(#a281)"/><rect x="1464" width="890" y="567" height="6.6" fill="url(#a282)"/><rect x="1464" width="890" y="573" height="6.6" fill="url(#a283)"/><rect x="1464" width="890" y="579" height="6.6" fill="url(#a284)"/><rect x="1464" width="890" y="585" height="6.6" fill="url(#a285)"/><rect x="1464" width="890" y="591" height="6.6" fill="url(#a286)"/><rect x="1464" width="890" y="597" height="6.6" fill="url(#a287)"/><rect x="1464" width="890" y="603" height="6.6" fill="url(#a288)"/><rect x="1464" width="890" y="609" height="6.6" fill="url(#a289)"/><rect x="1464" width="890" y="615" height="6.6" fill="url(#a290)"/><rect x="1464" width="890" y="621" height="6.6" fill="url(#a291)"/><rect x="1464" width="890" y="627" height="6.6" fill="url(#a292)"/><rect x="1464" width="890" y="633" height="6.6" fill="url(#a293)"/><rect x="1464" width="890" y="639" height="6.6" fill="url(#a294)"/><rect x="1464" width="890" y="645" height="6.6" fill="url(#a295)"/><rect x="1464" width="890" y="651" height="6.6" fill="url(#a296)"/><rect x="1464" width="890" y="657" height="6.6" fill="url(#a297)"/><rect x="1464" width="890" y="663" height="6.6" fill="url(#a298)"/><rect x="1464" width="890" y="669" height="6.6" fill="url(#a299)"/><rect x="1464" width="890" y="675" height="6.6" fill="url(#a2100)"/><rect x="1464" width="890" y="681" height="6.6" fill="url(#a2101)"/><rect x="1464" width="890" y="687" height="6.6" fill="url(#a2102)"/><rect x="1464" width="890" y="693" height="6.6" fill="url(#a2103)"/><rect x="1464" width="890" y="699" height="6.6" fill="url(#a2104)"/><rect x="1464" width="890" y="705" height="6.6" fill="url(#a2105)"/><rect x="1464" width="890" y="711" height="6.6" fill="url(#a2106)"/><rect x="1464" width="890" y="717" height="6.6" fill="url(#a2107)"/><rect x="1464" width="890" y="723" height="6.6" fill="url(#a2108)"/><rect x="1464" width="890" y="729" height="6.6" fill="url(#a2109)"/><rect x="1464" width="890" y="735" height="6.6" fill="url(#a2110)"/><rect x="1464" width="890" y="741" height="6.6" fill="url(#a2111)"/><rect x="1464" width="890" y="747" height="6.6" fill="url(#a2112)"/><rect x="1464" width="890" y="753" height="6.6" fill="url(#a2113)"/><rect x="1464" width="890" y="759" height="6.6" fill="url(#a2114)"/><rect x="1464" width="890" y="765" height="6.6" fill="url(#a2115)"/><rect x="1464" width="890" y="771" height="6.6" fill="url(#a2116)"/><rect x="1464" width="890" y="777" height="6.6" fill="url(#a2117)"/><rect x="1464" width="890" y="783" height="6.6" fill="url(#a2118)"/><rect x="1464" width="890" y="789" height="6.6" fill="url(#a2119)"/><rect x="1464" width="890" y="795" height="6.6" fill="url(#a2120)"/><rect x="1464" width="890" y="801" height="6.6" fill="url(#a2121)"/><rect x="1464" width="890" y="807" height="6.6" fill="url(#a2122)"/><rect x="1464" width="890" y="813" height="6.6" fill="url(#a2123)"/><rect x="1464" width="890" y="819" height="6.6" fill="url(#a2124)"/><rect x="1464" width="890" y="825" height="6.6" fill="url(#a2125)"/><rect x="1464" width="890" y="831" height="6.6" fill="url(#a2126)"/><rect x="1464" width="890" y="837" height="6.6" fill="url(#a2127)"/><rect x="1464" width="890" y="843" height="6.6" fill="url(#a2128)"/><rect x="1464" width="890" y="849" height="6.6" fill="url(#a2129)"/><rect x="1464" width="890" y="855" height="6.6" fill="url(#a2130)"/><rect x="1464" width="890" y="861" height="6.6" fill="url(#a2131)"/><rect x="1464" width="890" y="867" height="6.6" fill="url(#a2132)"/><rect x="1464" width="890" y="873" height="6.6" fill="url(#a2133)"/><rect x="1464" width="890" y="879" height="6.6" fill="url(#a2134)"/><rect x="1464" width="890" y="885" height="6.6" fill="url(#a2135)"/><rect x="1464" width="890" y="891" height="6.6" fill="url(#a2136)"/><rect x="1464" width="890" y="897" height="6.6" fill="url(#a2137)"/><rect x="1464" width="890" y="903" height="6.6" fill="url(#a2138)"/><rect x="1464" width="890" y="909" height="6.6" fill="url(#a2139)"/><rect x="1464" width="890" y="915" height="6.6" fill="url(#a2140)"/><rect x="1464" width="890" y="921" height="6.6" fill="url(#a2141)"/><rect x="1464" width="890" y="927" height="6.6" fill="url(#a2142)"/><rect x="1464" width="890" y="933" height="6.6" fill="url(#a2143)"/><rect x="1464" width="890" y="939" height="6.6" fill="url(#a2144)"/><rect x="1464" width="890" y="945" height="6.6" fill="url(#a2145)"/><rect x="1464" width="890" y="951" height="6.6" fill="url(#a2146)"/><rect x="1464" width="890" y="957" height="6.6" fill="url(#a2147)"/><rect x="1464" width="890" y="963" height="6.6" fill="url(#a2148)"/><rect x="1464" width="890" y="969" height="1" fill="url(#a2149)"/></g><path d="M2063.5 970 2075.9 966.5 2087 963.5 2103.7 959 2114.8 956.2 2127 953.2 2142.6 949.5 2153.8 947 2170.4 943.5 2181.6 941.2 2198.2 938 2209.4 936 2226.1 933.2 2241.1 930.8 2253.9 929 2270.6 926.8 2284.1 925.2 2298.4 923.8 2315.1 922.2 2331.8 921 2348.4 920 2354 919.7 M1719.7 970 1729.5 964.4 1739.2 958.8 1749 953.2 1758.9 947.6 1769.9 941.4 1781.1 935.1 1792.2 928.8 1803.3 922.6 1814.4 916.5 1825.6 910.3 1836.7 904.2 1847.8 898.1 1858.9 892.1 1870.1 886.1 1880.6 880.5 1891.1 874.9 1901.7 869.3 1912.4 863.7 1923.2 858.1 1934.1 852.5 1945 846.9 1956.1 841.3 1967.3 835.8 1978.6 830.2 1990.1 824.6 2001.7 819 2013.4 813.4 2025.3 807.8 2036.9 802.4 2048.1 797.4 2059.2 792.4 2070.3 787.5 2081.4 782.7 2092.6 778 2103.7 773.4 2115.6 768.6 2129.8 763 2142.6 758.2 2153.8 754 2164.9 750.1 2176 746.2 2192.7 740.7 2203.8 737.2 2214.9 733.9 2230.4 729.5 2242.8 726.2 2253.9 723.4 2270.6 719.5 2281.7 717.2 2298.4 714 2309.5 712.1 2326.2 709.7 2342.9 707.7 2354 706.6 M2354 202.2 2337.3 200.5 2320.6 198.4 2309.5 196.7 2292.8 193.8 2281.7 191.6 2265 188 2253.9 185.4 2237.7 181.3 2226.1 178.1 2214.9 174.9 2199.1 170.1 2187.1 166.3 2176 162.6 2164.9 158.7 2149.9 153.3 2137.1 148.5 2125.9 144.3 2114.8 139.9 2103.7 135.4 2092.6 130.8 2079.8 125.3 2066.9 119.7 2054.2 114.2 2042.5 108.9 2031.4 103.8 2020.2 98.6 2009.1 93.4 1998 88.1 1986.9 82.7 1975.8 77.2 1971.3 75 M1498.1 970 1508.5 962 1519.6 953.5 1527.3 947.6 1536.3 940.6 1547.4 932 1556.1 925.2 1564.1 919 1575.2 910.2 1584.6 902.9 1591.9 897 1603.1 888.1 1612.6 880.5 1619.8 874.7 1630.9 865.7 1640.1 858.1 1647.6 852 1658.7 842.7 1667.1 835.8 1675.4 828.8 1686.5 819.3 1693.5 813.4 1703.2 805 1712.8 796.6 1719.9 790.4 1731 780.5 1738 774.2 1747.7 765.4 1756.3 757.4 1764.4 749.9 1774.1 740.7 1781.1 734 1791.4 723.9 1797.8 717.6 1808.2 707.1 1814.4 700.6 1824.2 690.3 1831.1 682.9 1839.6 673.5 1847.8 664.2 1854.2 656.8 1863.5 645.6 1870.1 637.4 1876.8 628.8 1885.1 617.6 1892.3 607.4 1897.9 599.1 1904 589.6 1910.7 578.4 1916.9 567.2 1922.6 556.1 1927.8 544.9 1932.4 533.7 1936.8 521.4 1941.4 505.7 1944 494.5 1946.7 477.7 1947.9 461 1948 449.8 1947.4 438.6 1945.4 421.8 1942.4 406.9 1938.9 393.8 1935.2 382.7 1931 371.5 1925.7 359.2 1920.1 347.7 1914.6 337.2 1908.6 326.7 1901.7 315.5 1894.4 304.3 1886.8 293.5 1881.2 285.9 1874 276.4 1865.2 265.2 1858.9 257.6 1851.2 248.4 1842.2 238.2 1836.4 231.6 1826.1 220.4 1820 214 1810.1 203.7 1803.3 196.7 1793.5 186.9 1786.6 180.2 1776.2 170.1 1769.9 164.1 1758.8 153.6 1752.4 147.7 1742.1 138.3 1734 130.9 1725.4 123.3 1715.1 114.2 1708.7 108.6 1697.6 99 1689.3 91.8 1680.9 84.7 1669.8 75.3 1669.5 75 M1464 828.9 1473 819 1480.7 810.4 1488 802.2 1497.4 791.3 1502.9 784.8 1511.8 774.2 1519.6 764.6 1525.4 757.4 1534.2 746.2 1541.9 736.1 1547.4 728.7 1555 718.3 1562.9 707.1 1569.7 697.1 1575.2 688.7 1581.4 679.1 1588.3 667.9 1594.9 656.8 1601.2 645.6 1607.2 634.4 1612.9 623.2 1618.2 612 1623.2 600.8 1627.9 589.6 1632.2 578.4 1636.4 566.4 1641.4 550.5 1644.5 539.3 1647.6 526.4 1650.5 511.3 1653 494.5 1654.2 483.3 1655.3 466.6 1655.5 449.8 1654.8 433 1653.3 416.2 1651.8 405 1648.8 388.2 1646.4 377.1 1642 360.3 1638.7 349.1 1634.9 337.9 1630.8 326.7 1625.3 312.9 1619.8 300.2 1614.2 288.3 1608.6 277.1 1603.1 266.6 1597.5 256.5 1591.9 246.9 1586.1 237.2 1579.1 226 1571.9 214.8 1564.3 203.7 1558.6 195.4 1552.4 186.9 1544.2 175.7 1536.3 165.3 1530.8 158.1 1522.5 147.7 1514.1 137.3 1508.5 130.5 1499.4 119.7 1491.8 110.9 1484.8 103 1475.1 92.1 1469.6 85.9 1464 79.8" fill="none" stroke="#000" stroke-width="2.3" stroke-opacity=".92"/><path d="M1464 75 H2354 V970 H1464 Z M1464 970 v22 M1464 75 h-22 M1686.5 970 v22 M1464 298.8 h-22 M1909 970 v22 M1464 522.5 h-22 M2131.5 970 v22 M1464 746.2 h-22 M2354 970 v22 M1464 970 h-22" fill="none" stroke="#303030" stroke-width="2.2"/><rect x="1630.2" y="412" width="49.8" height="49" rx="2" fill="#fff" stroke="#3a3a3a" stroke-width="1.8"/><rect x="1890" y="522" width="49.2" height="48.5" rx="2" fill="#fff" stroke="#3a3a3a" stroke-width="1.8"/><rect x="2123.5" y="103.8" width="49.5" height="49.2" rx="2" fill="#fff" stroke="#3a3a3a" stroke-width="1.8"/><rect x="1988.2" y="764.5" width="49.2" height="48.5" rx="2" fill="#fff" stroke="#3a3a3a" stroke-width="1.8"/><rect x="2179.5" y="887" width="48.8" height="48.5" rx="2" fill="#fff" stroke="#3a3a3a" stroke-width="1.8"/></g>
<g id="B2"><defs><linearGradient id="b20"><stop offset="0" stop-color="#00c6ff"/><stop offset=".125" stop-color="#0ef"/><stop offset=".18" stop-color="#0ff"/><stop offset=".25" stop-color="#00ffea"/><stop offset=".375" stop-color="#00ffc8"/><stop offset=".5" stop-color="#00ffa9"/><stop offset=".625" stop-color="#00ff8c"/><stop offset=".75" stop-color="#00ff72"/><stop offset=".875" stop-color="#00ff5b"/><stop offset="1" stop-color="#00ff47"/></linearGradient><linearGradient id="b21"><stop offset="0" stop-color="#00c7ff"/><stop offset=".125" stop-color="#00efff"/><stop offset=".178" stop-color="#0ff"/><stop offset=".25" stop-color="#00ffea"/><stop offset=".375" stop-color="#00ffc7"/><stop offset=".5" stop-color="#00ffa8"/><stop offset=".625" stop-color="#00ff8b"/><stop offset=".75" stop-color="#00ff71"/><stop offset=".875" stop-color="#00ff5b"/><stop offset="1" stop-color="#00ff46"/></linearGradient><linearGradient id="b22"><stop offset="0" stop-color="#00c7ff"/><stop offset=".125" stop-color="#00f0ff"/><stop offset=".176" stop-color="#0ff"/><stop offset=".25" stop-color="#00ffe9"/><stop offset=".375" stop-color="#00ffc7"/><stop offset=".5" stop-color="#00ffa7"/><stop offset=".625" stop-color="#00ff8b"/><stop offset=".75" stop-color="#00ff71"/><stop offset=".875" stop-color="#00ff5a"/><stop offset="1" stop-color="#00ff46"/></linearGradient><linearGradient id="b23"><stop offset="0" stop-color="#00c8ff"/><stop offset=".125" stop-color="#00f0ff"/><stop offset=".173" stop-color="#0ff"/><stop offset=".25" stop-color="#00ffe9"/><stop offset=".375" stop-color="#00ffc6"/><stop offset=".5" stop-color="#00ffa7"/><stop offset=".625" stop-color="#00ff8a"/><stop offset=".75" stop-color="#00ff70"/><stop offset=".875" stop-color="#00ff59"/><stop offset="1" stop-color="#00ff45"/></linearGradient><linearGradient id="b24"><stop offset="0" stop-color="#00c9ff"/><stop offset=".125" stop-color="#00f1ff"/><stop offset=".171" stop-color="#0ff"/><stop offset=".25" stop-color="#00ffe8"/><stop offset=".375" stop-color="#00ffc5"/><stop offset=".5" stop-color="#00ffa6"/><stop offset=".625" stop-color="#00ff89"/><stop offset=".75" stop-color="#00ff70"/><stop offset=".875" stop-color="#00ff59"/><stop offset="1" stop-color="#00ff45"/></linearGradient><linearGradient id="b25"><stop offset="0" stop-color="#00caff"/><stop offset=".125" stop-color="#00f2ff"/><stop offset=".168" stop-color="#0ff"/><stop offset=".25" stop-color="#00ffe7"/><stop offset=".375" stop-color="#00ffc5"/><stop offset=".5" stop-color="#00ffa5"/><stop offset=".625" stop-color="#00ff89"/><stop offset=".75" stop-color="#00ff6f"/><stop offset=".875" stop-color="#00ff58"/><stop offset="1" stop-color="#0f4"/></linearGradient><linearGradient id="b26"><stop offset="0" stop-color="#00cbff"/><stop offset=".125" stop-color="#00f3ff"/><stop offset=".165" stop-color="#0ff"/><stop offset=".25" stop-color="#00ffe6"/><stop offset=".375" stop-color="#00ffc4"/><stop offset=".5" stop-color="#00ffa5"/><stop offset=".625" stop-color="#0f8"/><stop offset=".75" stop-color="#00ff6e"/><stop offset=".875" stop-color="#00ff58"/><stop offset="1" stop-color="#0f4"/></linearGradient><linearGradient id="b27"><stop offset="0" stop-color="#0cf"/><stop offset=".125" stop-color="#00f4ff"/><stop offset=".162" stop-color="#0ff"/><stop offset=".25" stop-color="#00ffe5"/><stop offset=".375" stop-color="#00ffc3"/><stop offset=".5" stop-color="#00ffa4"/><stop offset=".625" stop-color="#00ff87"/><stop offset=".75" stop-color="#00ff6e"/><stop offset=".875" stop-color="#00ff57"/><stop offset="1" stop-color="#00ff43"/></linearGradient><linearGradient id="b28"><stop offset="0" stop-color="#00cdff"/><stop offset=".125" stop-color="#00f5ff"/><stop offset=".159" stop-color="#0ff"/><stop offset=".25" stop-color="#00ffe4"/><stop offset=".375" stop-color="#00ffc2"/><stop offset=".5" stop-color="#00ffa3"/><stop offset=".625" stop-color="#00ff86"/><stop offset=".75" stop-color="#00ff6d"/><stop offset=".875" stop-color="#00ff56"/><stop offset="1" stop-color="#00ff42"/></linearGradient><linearGradient id="b29"><stop offset="0" stop-color="#00ceff"/><stop offset=".125" stop-color="#00f6ff"/><stop offset=".156" stop-color="#0ff"/><stop offset=".25" stop-color="#00ffe3"/><stop offset=".375" stop-color="#00ffc1"/><stop offset=".5" stop-color="#00ffa2"/><stop offset=".625" stop-color="#00ff85"/><stop offset=".75" stop-color="#00ff6c"/><stop offset=".875" stop-color="#0f5"/><stop offset="1" stop-color="#00ff41"/></linearGradient><linearGradient id="b210"><stop offset="0" stop-color="#00cfff"/><stop offset=".125" stop-color="#00f7ff"/><stop offset=".153" stop-color="#0ff"/><stop offset=".25" stop-color="#00ffe2"/><stop offset=".375" stop-color="#00ffc0"/><stop offset=".5" stop-color="#00ffa1"/><stop offset=".625" stop-color="#00ff85"/><stop offset=".75" stop-color="#00ff6b"/><stop offset=".875" stop-color="#00ff54"/><stop offset="1" stop-color="#00ff40"/></linearGradient><linearGradient id="b211"><stop offset="0" stop-color="#00d0ff"/><stop offset=".125" stop-color="#00f8ff"/><stop offset=".149" stop-color="#0ff"/><stop offset=".25" stop-color="#00ffe1"/><stop offset=".375" stop-color="#00ffbf"/><stop offset=".5" stop-color="#00ffa0"/><stop offset=".625" stop-color="#00ff84"/><stop offset=".75" stop-color="#00ff6a"/><stop offset=".875" stop-color="#00ff53"/><stop offset="1" stop-color="#00ff40"/></linearGradient><linearGradient id="b212"><stop offset="0" stop-color="#00d1ff"/><stop offset=".125" stop-color="#00f9ff"/><stop offset=".145" stop-color="#0ff"/><stop offset=".25" stop-color="#00ffe0"/><stop offset=".375" stop-color="#00ffbe"/><stop offset=".5" stop-color="#00ff9f"/><stop offset=".625" stop-color="#00ff83"/><stop offset=".75" stop-color="#00ff69"/><stop offset=".875" stop-color="#00ff52"/><stop offset="1" stop-color="#00ff3f"/></linearGradient><linearGradient id="b213"><stop offset="0" stop-color="#00d2ff"/><stop offset=".125" stop-color="#00faff"/><stop offset=".142" stop-color="#0ff"/><stop offset=".25" stop-color="#00ffdf"/><stop offset=".375" stop-color="#00ffbd"/><stop offset=".5" stop-color="#00ff9e"/><stop offset=".625" stop-color="#00ff81"/><stop offset=".75" stop-color="#00ff68"/><stop offset=".875" stop-color="#00ff51"/><stop offset="1" stop-color="#00ff3e"/></linearGradient><linearGradient id="b214"><stop offset="0" stop-color="#00d3ff"/><stop offset=".125" stop-color="#00fbff"/><stop offset=".138" stop-color="#0ff"/><stop offset=".25" stop-color="#00ffde"/><stop offset=".375" stop-color="#00ffbc"/><stop offset=".5" stop-color="#00ff9d"/><stop offset=".625" stop-color="#00ff80"/><stop offset=".75" stop-color="#00ff67"/><stop offset=".875" stop-color="#00ff50"/><stop offset="1" stop-color="#00ff3d"/></linearGradient><linearGradient id="b215"><stop offset="0" stop-color="#00d5ff"/><stop offset=".133" stop-color="#0ff"/><stop offset=".25" stop-color="#0fd"/><stop offset=".375" stop-color="#0fb"/><stop offset=".5" stop-color="#00ff9b"/><stop offset=".625" stop-color="#00ff7f"/><stop offset=".75" stop-color="#0f6"/><stop offset=".875" stop-color="#00ff4f"/><stop offset="1" stop-color="#00ff3b"/></linearGradient><linearGradient id="b216"><stop offset="0" stop-color="#00d6ff"/><stop offset=".129" stop-color="#0ff"/><stop offset=".25" stop-color="#00ffdb"/><stop offset=".375" stop-color="#00ffb9"/><stop offset=".5" stop-color="#00ff9a"/><stop offset=".625" stop-color="#00ff7e"/><stop offset=".75" stop-color="#00ff65"/><stop offset=".875" stop-color="#00ff4e"/><stop offset="1" stop-color="#00ff3a"/></linearGradient><linearGradient id="b217"><stop offset="0" stop-color="#00d7ff"/><stop offset=".125" stop-color="#0ff"/><stop offset=".25" stop-color="#00ffda"/><stop offset=".375" stop-color="#00ffb8"/><stop offset=".5" stop-color="#0f9"/><stop offset=".625" stop-color="#00ff7d"/><stop offset=".75" stop-color="#00ff63"/><stop offset=".875" stop-color="#00ff4d"/><stop offset="1" stop-color="#00ff39"/></linearGradient><linearGradient id="b218"><stop offset="0" stop-color="#00d9ff"/><stop offset=".12" stop-color="#0ff"/><stop offset=".25" stop-color="#00ffd9"/><stop offset=".375" stop-color="#00ffb7"/><stop offset=".5" stop-color="#00ff98"/><stop offset=".625" stop-color="#00ff7b"/><stop offset=".75" stop-color="#00ff62"/><stop offset=".875" stop-color="#00ff4c"/><stop offset="1" stop-color="#00ff38"/></linearGradient><linearGradient id="b219"><stop offset="0" stop-color="#00daff"/><stop offset=".115" stop-color="#0ff"/><stop offset=".25" stop-color="#00ffd7"/><stop offset=".375" stop-color="#00ffb5"/><stop offset=".5" stop-color="#00ff96"/><stop offset=".625" stop-color="#00ff7a"/><stop offset=".75" stop-color="#00ff61"/><stop offset=".875" stop-color="#00ff4a"/><stop offset="1" stop-color="#00ff37"/></linearGradient><linearGradient id="b220"><stop offset="0" stop-color="#00dcff"/><stop offset=".111" stop-color="#0ff"/><stop offset=".125" stop-color="#00fffb"/><stop offset=".25" stop-color="#00ffd6"/><stop offset=".375" stop-color="#00ffb4"/><stop offset=".5" stop-color="#00ff95"/><stop offset=".625" stop-color="#00ff79"/><stop offset=".75" stop-color="#00ff5f"/><stop offset=".875" stop-color="#00ff49"/><stop offset="1" stop-color="#00ff35"/></linearGradient><linearGradient id="b221"><stop offset="0" stop-color="#0df"/><stop offset=".106" stop-color="#0ff"/><stop offset=".125" stop-color="#00fff9"/><stop offset=".25" stop-color="#00ffd4"/><stop offset=".375" stop-color="#00ffb2"/><stop offset=".5" stop-color="#00ff93"/><stop offset=".625" stop-color="#0f7"/><stop offset=".75" stop-color="#00ff5e"/><stop offset=".875" stop-color="#00ff48"/><stop offset="1" stop-color="#00ff34"/></linearGradient><linearGradient id="b222"><stop offset="0" stop-color="#00dfff"/><stop offset=".101" stop-color="#0ff"/><stop offset=".125" stop-color="#00fff7"/><stop offset=".25" stop-color="#00ffd3"/><stop offset=".375" stop-color="#00ffb1"/><stop offset=".5" stop-color="#00ff92"/><stop offset=".625" stop-color="#00ff76"/><stop offset=".75" stop-color="#00ff5d"/><stop offset=".875" stop-color="#00ff46"/><stop offset="1" stop-color="#0f3"/></linearGradient><linearGradient id="b223"><stop offset="0" stop-color="#00e1ff"/><stop offset=".095" stop-color="#0ff"/><stop offset=".125" stop-color="#00fff6"/><stop offset=".25" stop-color="#00ffd1"/><stop offset=".375" stop-color="#00ffaf"/><stop offset=".5" stop-color="#00ff90"/><stop offset=".625" stop-color="#00ff74"/><stop offset=".75" stop-color="#00ff5b"/><stop offset=".875" stop-color="#00ff45"/><stop offset="1" stop-color="#00ff31"/></linearGradient><linearGradient id="b224"><stop offset="0" stop-color="#00e2ff"/><stop offset=".09" stop-color="#0ff"/><stop offset=".125" stop-color="#00fff4"/><stop offset=".25" stop-color="#00ffd0"/><stop offset=".375" stop-color="#00ffae"/><stop offset=".5" stop-color="#00ff8f"/><stop offset=".625" stop-color="#00ff73"/><stop offset=".75" stop-color="#00ff5a"/><stop offset=".875" stop-color="#00ff43"/><stop offset="1" stop-color="#00ff30"/></linearGradient><linearGradient id="b225"><stop offset="0" stop-color="#00e4ff"/><stop offset=".084" stop-color="#0ff"/><stop offset=".125" stop-color="#00fff2"/><stop offset=".25" stop-color="#00ffce"/><stop offset=".375" stop-color="#00ffac"/><stop offset=".5" stop-color="#00ff8d"/><stop offset=".625" stop-color="#00ff71"/><stop offset=".75" stop-color="#00ff58"/><stop offset=".875" stop-color="#00ff42"/><stop offset="1" stop-color="#00ff2e"/></linearGradient><linearGradient id="b226"><stop offset="0" stop-color="#00e6ff"/><stop offset=".079" stop-color="#0ff"/><stop offset=".125" stop-color="#00fff1"/><stop offset=".25" stop-color="#0fc"/><stop offset=".375" stop-color="#0fa"/><stop offset=".5" stop-color="#00ff8b"/><stop offset=".625" stop-color="#00ff6f"/><stop offset=".75" stop-color="#00ff56"/><stop offset=".875" stop-color="#00ff40"/><stop offset="1" stop-color="#00ff2d"/></linearGradient><linearGradient id="b227"><stop offset="0" stop-color="#00e8ff"/><stop offset=".073" stop-color="#0ff"/><stop offset=".125" stop-color="#00ffef"/><stop offset=".25" stop-color="#00ffca"/><stop offset=".375" stop-color="#00ffa9"/><stop offset=".5" stop-color="#00ff8a"/><stop offset=".625" stop-color="#00ff6e"/><stop offset=".75" stop-color="#0f5"/><stop offset=".875" stop-color="#00ff3e"/><stop offset="1" stop-color="#00ff2b"/></linearGradient><linearGradient id="b228"><stop offset="0" stop-color="#00eaff"/><stop offset=".067" stop-color="#0ff"/><stop offset=".125" stop-color="#00ffed"/><stop offset=".25" stop-color="#00ffc8"/><stop offset=".375" stop-color="#00ffa7"/><stop offset=".5" stop-color="#0f8"/><stop offset=".625" stop-color="#00ff6c"/><stop offset=".75" stop-color="#00ff53"/><stop offset=".875" stop-color="#00ff3d"/><stop offset="1" stop-color="#00ff29"/></linearGradient><linearGradient id="b229"><stop offset="0" stop-color="#00ebff"/><stop offset=".061" stop-color="#0ff"/><stop offset=".125" stop-color="#00ffeb"/><stop offset=".25" stop-color="#00ffc7"/><stop offset=".375" stop-color="#00ffa5"/><stop offset=".5" stop-color="#00ff86"/><stop offset=".625" stop-color="#00ff6a"/><stop offset=".75" stop-color="#00ff51"/><stop offset=".875" stop-color="#00ff3b"/><stop offset="1" stop-color="#00ff28"/></linearGradient><linearGradient id="b230"><stop offset="0" stop-color="#00edff"/><stop offset=".055" stop-color="#0ff"/><stop offset=".125" stop-color="#00ffe9"/><stop offset=".25" stop-color="#00ffc5"/><stop offset=".375" stop-color="#00ffa3"/><stop offset=".5" stop-color="#00ff84"/><stop offset=".625" stop-color="#00ff68"/><stop offset=".75" stop-color="#00ff4f"/><stop offset=".875" stop-color="#00ff39"/><stop offset="1" stop-color="#00ff26"/></linearGradient><linearGradient id="b231"><stop offset="0" stop-color="#00efff"/><stop offset=".048" stop-color="#0ff"/><stop offset=".125" stop-color="#00ffe7"/><stop offset=".25" stop-color="#00ffc3"/><stop offset=".375" stop-color="#00ffa1"/><stop offset=".5" stop-color="#00ff82"/><stop offset=".625" stop-color="#0f6"/><stop offset=".75" stop-color="#00ff4d"/><stop offset=".875" stop-color="#00ff37"/><stop offset="1" stop-color="#00ff24"/></linearGradient><linearGradient id="b232"><stop offset="0" stop-color="#00f2ff"/><stop offset=".042" stop-color="#0ff"/><stop offset=".125" stop-color="#00ffe5"/><stop offset=".25" stop-color="#00ffc1"/><stop offset=".375" stop-color="#00ff9f"/><stop offset=".5" stop-color="#00ff80"/><stop offset=".625" stop-color="#00ff65"/><stop offset=".75" stop-color="#00ff4c"/><stop offset=".875" stop-color="#00ff35"/><stop offset="1" stop-color="#0f2"/></linearGradient><linearGradient id="b233"><stop offset="0" stop-color="#00f4ff"/><stop offset=".035" stop-color="#0ff"/><stop offset=".125" stop-color="#00ffe3"/><stop offset=".25" stop-color="#00ffbf"/><stop offset=".375" stop-color="#00ff9d"/><stop offset=".5" stop-color="#00ff7e"/><stop offset=".625" stop-color="#00ff63"/><stop offset=".75" stop-color="#00ff4a"/><stop offset=".875" stop-color="#00ff34"/><stop offset="1" stop-color="#00ff20"/></linearGradient><linearGradient id="b234"><stop offset="0" stop-color="#00f6ff"/><stop offset=".029" stop-color="#0ff"/><stop offset=".125" stop-color="#00ffe1"/><stop offset=".25" stop-color="#00ffbd"/><stop offset=".375" stop-color="#00ff9b"/><stop offset=".5" stop-color="#00ff7c"/><stop offset=".625" stop-color="#00ff61"/><stop offset=".75" stop-color="#00ff48"/><stop offset=".875" stop-color="#00ff32"/><stop offset="1" stop-color="#00ff1e"/></linearGradient><linearGradient id="b235"><stop offset="0" stop-color="#00f8ff"/><stop offset=".022" stop-color="#0ff"/><stop offset=".125" stop-color="#00ffdf"/><stop offset=".25" stop-color="#00ffba"/><stop offset=".375" stop-color="#0f9"/><stop offset=".5" stop-color="#00ff7a"/><stop offset=".625" stop-color="#00ff5f"/><stop offset=".75" stop-color="#00ff46"/><stop offset=".875" stop-color="#00ff30"/><stop offset="1" stop-color="#00ff1c"/></linearGradient><linearGradient id="b236"><stop offset="0" stop-color="#00faff"/><stop offset=".015" stop-color="#0ff"/><stop offset=".125" stop-color="#0fd"/><stop offset=".25" stop-color="#00ffb8"/><stop offset=".375" stop-color="#00ff97"/><stop offset=".5" stop-color="#00ff78"/><stop offset=".625" stop-color="#00ff5c"/><stop offset=".75" stop-color="#0f4"/><stop offset=".875" stop-color="#00ff2e"/><stop offset="1" stop-color="#00ff1a"/></linearGradient><linearGradient id="b237"><stop offset="0" stop-color="#00fcff"/><stop offset=".125" stop-color="#00ffda"/><stop offset=".25" stop-color="#00ffb6"/><stop offset=".375" stop-color="#00ff95"/><stop offset=".5" stop-color="#00ff76"/><stop offset=".625" stop-color="#00ff5a"/><stop offset=".75" stop-color="#00ff41"/><stop offset=".875" stop-color="#00ff2b"/><stop offset="1" stop-color="#00ff18"/></linearGradient><linearGradient id="b238"><stop offset="0" stop-color="#0ff"/><stop offset=".125" stop-color="#00ffd8"/><stop offset=".25" stop-color="#00ffb4"/><stop offset=".375" stop-color="#00ff92"/><stop offset=".5" stop-color="#00ff74"/><stop offset=".625" stop-color="#00ff58"/><stop offset=".75" stop-color="#00ff3f"/><stop offset=".875" stop-color="#00ff29"/><stop offset="1" stop-color="#00ff16"/></linearGradient><linearGradient id="b239"><stop offset="0" stop-color="#00fffd"/><stop offset=".125" stop-color="#00ffd6"/><stop offset=".25" stop-color="#00ffb1"/><stop offset=".375" stop-color="#00ff90"/><stop offset=".5" stop-color="#00ff71"/><stop offset=".625" stop-color="#00ff56"/><stop offset=".75" stop-color="#00ff3d"/><stop offset=".875" stop-color="#00ff27"/><stop offset="1" stop-color="#00ff14"/></linearGradient><linearGradient id="b240"><stop offset="0" stop-color="#00fffa"/><stop offset=".125" stop-color="#00ffd3"/><stop offset=".25" stop-color="#00ffaf"/><stop offset=".375" stop-color="#00ff8e"/><stop offset=".5" stop-color="#00ff6f"/><stop offset=".625" stop-color="#00ff54"/><stop offset=".75" stop-color="#00ff3b"/><stop offset=".875" stop-color="#00ff25"/><stop offset="1" stop-color="#00ff12"/></linearGradient><linearGradient id="b241"><stop offset="0" stop-color="#00fff8"/><stop offset=".125" stop-color="#00ffd1"/><stop offset=".25" stop-color="#00ffad"/><stop offset=".375" stop-color="#00ff8b"/><stop offset=".5" stop-color="#00ff6d"/><stop offset=".625" stop-color="#00ff51"/><stop offset=".75" stop-color="#00ff38"/><stop offset=".875" stop-color="#00ff23"/><stop offset="1" stop-color="#00ff10"/></linearGradient><linearGradient id="b242"><stop offset="0" stop-color="#00fff5"/><stop offset=".125" stop-color="#00ffce"/><stop offset=".25" stop-color="#0fa"/><stop offset=".375" stop-color="#00ff89"/><stop offset=".5" stop-color="#00ff6a"/><stop offset=".625" stop-color="#00ff4f"/><stop offset=".75" stop-color="#00ff36"/><stop offset=".875" stop-color="#00ff20"/><stop offset="1" stop-color="#00ff0d"/></linearGradient><linearGradient id="b243"><stop offset="0" stop-color="#00fff3"/><stop offset=".125" stop-color="#0fc"/><stop offset=".25" stop-color="#00ffa8"/><stop offset=".375" stop-color="#00ff86"/><stop offset=".5" stop-color="#00ff68"/><stop offset=".625" stop-color="#00ff4c"/><stop offset=".75" stop-color="#00ff34"/><stop offset=".875" stop-color="#00ff1e"/><stop offset="1" stop-color="#00ff0b"/></linearGradient><linearGradient id="b244"><stop offset="0" stop-color="#00fff0"/><stop offset=".125" stop-color="#00ffc9"/><stop offset=".25" stop-color="#00ffa5"/><stop offset=".375" stop-color="#00ff84"/><stop offset=".5" stop-color="#00ff65"/><stop offset=".625" stop-color="#00ff4a"/><stop offset=".75" stop-color="#00ff31"/><stop offset=".875" stop-color="#00ff1b"/><stop offset="1" stop-color="#00ff08"/></linearGradient><linearGradient id="b245"><stop offset="0" stop-color="#0fe"/><stop offset=".125" stop-color="#00ffc7"/><stop offset=".25" stop-color="#00ffa3"/><stop offset=".375" stop-color="#00ff81"/><stop offset=".5" stop-color="#00ff63"/><stop offset=".625" stop-color="#00ff47"/><stop offset=".75" stop-color="#00ff2f"/><stop offset=".875" stop-color="#00ff19"/><stop offset="1" stop-color="#00ff06"/></linearGradient><linearGradient id="b246"><stop offset="0" stop-color="#00ffeb"/><stop offset=".125" stop-color="#00ffc4"/><stop offset=".25" stop-color="#00ffa0"/><stop offset=".375" stop-color="#00ff7f"/><stop offset=".5" stop-color="#00ff60"/><stop offset=".625" stop-color="#00ff45"/><stop offset=".75" stop-color="#00ff2c"/><stop offset=".875" stop-color="#00ff16"/><stop offset="1" stop-color="#00ff04"/></linearGradient><linearGradient id="b247"><stop offset="0" stop-color="#00ffe8"/><stop offset=".125" stop-color="#00ffc1"/><stop offset=".25" stop-color="#00ff9d"/><stop offset=".375" stop-color="#00ff7c"/><stop offset=".5" stop-color="#00ff5e"/><stop offset=".625" stop-color="#00ff42"/><stop offset=".75" stop-color="#00ff2a"/><stop offset=".875" stop-color="#00ff14"/><stop offset="1" stop-color="#00ff01"/></linearGradient><linearGradient id="b248"><stop offset="0" stop-color="#00ffe5"/><stop offset=".125" stop-color="#00ffbe"/><stop offset=".25" stop-color="#00ff9a"/><stop offset=".375" stop-color="#00ff79"/><stop offset=".5" stop-color="#00ff5b"/><stop offset=".625" stop-color="#00ff40"/><stop offset=".75" stop-color="#00ff27"/><stop offset=".875" stop-color="#0f1"/><stop offset=".989" stop-color="#0f0"/><stop offset="1" stop-color="#02ff00"/></linearGradient><linearGradient id="b249"><stop offset="0" stop-color="#00ffe3"/><stop offset=".125" stop-color="#00ffbc"/><stop offset=".25" stop-color="#00ff98"/><stop offset=".375" stop-color="#0f7"/><stop offset=".5" stop-color="#00ff58"/><stop offset=".625" stop-color="#00ff3d"/><stop offset=".75" stop-color="#00ff24"/><stop offset=".875" stop-color="#00ff0f"/><stop offset=".971" stop-color="#0f0"/><stop offset="1" stop-color="#04ff00"/></linearGradient><linearGradient id="b250"><stop offset="0" stop-color="#00ffe0"/><stop offset=".125" stop-color="#00ffb9"/><stop offset=".25" stop-color="#00ff95"/><stop offset=".375" stop-color="#00ff74"/><stop offset=".5" stop-color="#0f5"/><stop offset=".625" stop-color="#00ff3a"/><stop offset=".75" stop-color="#0f2"/><stop offset=".875" stop-color="#00ff0c"/><stop offset=".952" stop-color="#0f0"/><stop offset="1" stop-color="#07ff00"/></linearGradient><linearGradient id="b251"><stop offset="0" stop-color="#0fd"/><stop offset=".125" stop-color="#00ffb6"/><stop offset=".25" stop-color="#00ff92"/><stop offset=".375" stop-color="#00ff71"/><stop offset=".5" stop-color="#00ff53"/><stop offset=".625" stop-color="#00ff37"/><stop offset=".75" stop-color="#00ff1f"/><stop offset=".875" stop-color="#00ff09"/><stop offset=".934" stop-color="#0f0"/><stop offset="1" stop-color="#0aff00"/></linearGradient><linearGradient id="b252"><stop offset="0" stop-color="#00ffda"/><stop offset=".125" stop-color="#00ffb3"/><stop offset=".25" stop-color="#00ff8f"/><stop offset=".375" stop-color="#00ff6e"/><stop offset=".5" stop-color="#00ff50"/><stop offset=".625" stop-color="#00ff34"/><stop offset=".75" stop-color="#00ff1c"/><stop offset=".875" stop-color="#00ff06"/><stop offset=".916" stop-color="#0f0"/><stop offset="1" stop-color="#0cff00"/></linearGradient><linearGradient id="b253"><stop offset="0" stop-color="#00ffd7"/><stop offset=".125" stop-color="#00ffb0"/><stop offset=".25" stop-color="#00ff8c"/><stop offset=".375" stop-color="#00ff6b"/><stop offset=".5" stop-color="#00ff4d"/><stop offset=".625" stop-color="#00ff32"/><stop offset=".75" stop-color="#00ff19"/><stop offset=".875" stop-color="#00ff04"/><stop offset=".898" stop-color="#0f0"/><stop offset="1" stop-color="#0fff00"/></linearGradient><linearGradient id="b254"><stop offset="0" stop-color="#00ffd4"/><stop offset=".125" stop-color="#00ffad"/><stop offset=".25" stop-color="#00ff89"/><stop offset=".375" stop-color="#00ff68"/><stop offset=".5" stop-color="#00ff4a"/><stop offset=".625" stop-color="#00ff2f"/><stop offset=".75" stop-color="#00ff16"/><stop offset=".88" stop-color="#0f0"/><stop offset="1" stop-color="#12ff00"/></linearGradient><linearGradient id="b255"><stop offset="0" stop-color="#00ffd1"/><stop offset=".125" stop-color="#0fa"/><stop offset=".25" stop-color="#00ff86"/><stop offset=".375" stop-color="#00ff65"/><stop offset=".5" stop-color="#00ff47"/><stop offset=".625" stop-color="#00ff2c"/><stop offset=".75" stop-color="#00ff13"/><stop offset=".862" stop-color="#0f0"/><stop offset=".875" stop-color="#02ff00"/><stop offset="1" stop-color="#15ff00"/></linearGradient><linearGradient id="b256"><stop offset="0" stop-color="#00ffcd"/><stop offset=".125" stop-color="#00ffa7"/><stop offset=".25" stop-color="#00ff83"/><stop offset=".375" stop-color="#00ff62"/><stop offset=".5" stop-color="#0f4"/><stop offset=".625" stop-color="#00ff29"/><stop offset=".75" stop-color="#00ff10"/><stop offset=".844" stop-color="#0f0"/><stop offset=".875" stop-color="#05ff00"/><stop offset="1" stop-color="#18ff00"/></linearGradient><linearGradient id="b257"><stop offset="0" stop-color="#00ffca"/><stop offset=".125" stop-color="#00ffa4"/><stop offset=".25" stop-color="#00ff80"/><stop offset=".375" stop-color="#00ff5f"/><stop offset=".5" stop-color="#00ff41"/><stop offset=".625" stop-color="#00ff26"/><stop offset=".75" stop-color="#00ff0d"/><stop offset=".826" stop-color="#0f0"/><stop offset=".875" stop-color="#08ff00"/><stop offset="1" stop-color="#1bff00"/></linearGradient><linearGradient id="b258"><stop offset="0" stop-color="#00ffc7"/><stop offset=".125" stop-color="#00ffa0"/><stop offset=".25" stop-color="#00ff7d"/><stop offset=".375" stop-color="#00ff5c"/><stop offset=".5" stop-color="#00ff3e"/><stop offset=".625" stop-color="#00ff23"/><stop offset=".75" stop-color="#00ff0a"/><stop offset=".808" stop-color="#0f0"/><stop offset=".875" stop-color="#0bff00"/><stop offset="1" stop-color="#1eff00"/></linearGradient><linearGradient id="b259"><stop offset="0" stop-color="#00ffc4"/><stop offset=".125" stop-color="#00ff9d"/><stop offset=".25" stop-color="#00ff79"/><stop offset=".375" stop-color="#00ff59"/><stop offset=".5" stop-color="#00ff3b"/><stop offset=".625" stop-color="#00ff1f"/><stop offset=".75" stop-color="#00ff07"/><stop offset=".79" stop-color="#0f0"/><stop offset=".875" stop-color="#0eff00"/><stop offset="1" stop-color="#21ff00"/></linearGradient><linearGradient id="b260"><stop offset="0" stop-color="#00ffc0"/><stop offset=".125" stop-color="#00ff9a"/><stop offset=".25" stop-color="#00ff76"/><stop offset=".375" stop-color="#0f5"/><stop offset=".5" stop-color="#00ff37"/><stop offset=".625" stop-color="#00ff1c"/><stop offset=".75" stop-color="#00ff04"/><stop offset=".772" stop-color="#0f0"/><stop offset=".875" stop-color="#1f0"/><stop offset="1" stop-color="#24ff00"/></linearGradient><linearGradient id="b261"><stop offset="0" stop-color="#00ffbd"/><stop offset=".125" stop-color="#00ff97"/><stop offset=".25" stop-color="#00ff73"/><stop offset=".375" stop-color="#00ff52"/><stop offset=".5" stop-color="#00ff34"/><stop offset=".625" stop-color="#00ff19"/><stop offset=".754" stop-color="#0f0"/><stop offset=".875" stop-color="#15ff00"/><stop offset="1" stop-color="#27ff00"/></linearGradient><linearGradient id="b262"><stop offset="0" stop-color="#00ffba"/><stop offset=".125" stop-color="#00ff93"/><stop offset=".25" stop-color="#00ff6f"/><stop offset=".375" stop-color="#00ff4f"/><stop offset=".5" stop-color="#00ff31"/><stop offset=".625" stop-color="#00ff16"/><stop offset=".736" stop-color="#0f0"/><stop offset=".75" stop-color="#03ff00"/><stop offset=".875" stop-color="#18ff00"/><stop offset="1" stop-color="#2aff00"/></linearGradient><linearGradient id="b263"><stop offset="0" stop-color="#00ffb6"/><stop offset=".125" stop-color="#00ff90"/><stop offset=".25" stop-color="#00ff6c"/><stop offset=".375" stop-color="#00ff4b"/><stop offset=".5" stop-color="#00ff2d"/><stop offset=".625" stop-color="#00ff12"/><stop offset=".718" stop-color="#0f0"/><stop offset=".75" stop-color="#06ff00"/><stop offset=".875" stop-color="#1bff00"/><stop offset="1" stop-color="#2eff00"/></linearGradient><linearGradient id="b264"><stop offset="0" stop-color="#00ffb3"/><stop offset=".125" stop-color="#00ff8c"/><stop offset=".25" stop-color="#00ff69"/><stop offset=".375" stop-color="#00ff48"/><stop offset=".5" stop-color="#00ff2a"/><stop offset=".625" stop-color="#00ff0f"/><stop offset=".701" stop-color="#0f0"/><stop offset=".75" stop-color="#09ff00"/><stop offset=".875" stop-color="#1eff00"/><stop offset="1" stop-color="#31ff00"/></linearGradient><linearGradient id="b265"><stop offset="0" stop-color="#00ffaf"/><stop offset=".125" stop-color="#00ff89"/><stop offset=".25" stop-color="#00ff65"/><stop offset=".375" stop-color="#0f4"/><stop offset=".5" stop-color="#00ff27"/><stop offset=".625" stop-color="#00ff0c"/><stop offset=".683" stop-color="#0f0"/><stop offset=".75" stop-color="#0dff00"/><stop offset=".875" stop-color="#2f0"/><stop offset="1" stop-color="#34ff00"/></linearGradient><linearGradient id="b266"><stop offset="0" stop-color="#00ffac"/><stop offset=".125" stop-color="#00ff85"/><stop offset=".25" stop-color="#00ff62"/><stop offset=".375" stop-color="#00ff41"/><stop offset=".5" stop-color="#00ff23"/><stop offset=".625" stop-color="#00ff08"/><stop offset=".665" stop-color="#0f0"/><stop offset=".75" stop-color="#10ff00"/><stop offset=".875" stop-color="#25ff00"/><stop offset="1" stop-color="#38ff00"/></linearGradient><linearGradient id="b267"><stop offset="0" stop-color="#00ffa8"/><stop offset=".125" stop-color="#00ff81"/><stop offset=".25" stop-color="#00ff5e"/><stop offset=".375" stop-color="#00ff3d"/><stop offset=".5" stop-color="#00ff1f"/><stop offset=".625" stop-color="#00ff05"/><stop offset=".648" stop-color="#0f0"/><stop offset=".75" stop-color="#14ff00"/><stop offset=".875" stop-color="#29ff00"/><stop offset="1" stop-color="#3bff00"/></linearGradient><linearGradient id="b268"><stop offset="0" stop-color="#00ffa4"/><stop offset=".125" stop-color="#00ff7e"/><stop offset=".25" stop-color="#00ff5a"/><stop offset=".375" stop-color="#00ff3a"/><stop offset=".5" stop-color="#00ff1c"/><stop offset=".63" stop-color="#0f0"/><stop offset=".75" stop-color="#17ff00"/><stop offset=".875" stop-color="#2cff00"/><stop offset="1" stop-color="#3fff00"/></linearGradient><linearGradient id="b269"><stop offset="0" stop-color="#00ffa0"/><stop offset=".125" stop-color="#00ff7a"/><stop offset=".25" stop-color="#00ff57"/><stop offset=".375" stop-color="#00ff36"/><stop offset=".5" stop-color="#00ff18"/><stop offset=".612" stop-color="#0f0"/><stop offset=".625" stop-color="#03ff00"/><stop offset=".75" stop-color="#1bff00"/><stop offset=".875" stop-color="#30ff00"/><stop offset="1" stop-color="#42ff00"/></linearGradient><linearGradient id="b270"><stop offset="0" stop-color="#00ff9d"/><stop offset=".125" stop-color="#00ff76"/><stop offset=".25" stop-color="#00ff53"/><stop offset=".375" stop-color="#00ff32"/><stop offset=".5" stop-color="#00ff15"/><stop offset=".595" stop-color="#0f0"/><stop offset=".625" stop-color="#06ff00"/><stop offset=".75" stop-color="#1eff00"/><stop offset=".875" stop-color="#3f0"/><stop offset="1" stop-color="#46ff00"/></linearGradient><linearGradient id="b271"><stop offset="0" stop-color="#0f9"/><stop offset=".125" stop-color="#00ff73"/><stop offset=".25" stop-color="#00ff4f"/><stop offset=".375" stop-color="#00ff2f"/><stop offset=".5" stop-color="#0f1"/><stop offset=".577" stop-color="#0f0"/><stop offset=".625" stop-color="#0aff00"/><stop offset=".75" stop-color="#2f0"/><stop offset=".875" stop-color="#37ff00"/><stop offset="1" stop-color="#49ff00"/></linearGradient><linearGradient id="b272"><stop offset="0" stop-color="#00ff95"/><stop offset=".125" stop-color="#00ff6f"/><stop offset=".25" stop-color="#00ff4b"/><stop offset=".375" stop-color="#00ff2b"/><stop offset=".5" stop-color="#00ff0d"/><stop offset=".56" stop-color="#0f0"/><stop offset=".625" stop-color="#0eff00"/><stop offset=".75" stop-color="#26ff00"/><stop offset=".875" stop-color="#3bff00"/><stop offset="1" stop-color="#4dff00"/></linearGradient><linearGradient id="b273"><stop offset="0" stop-color="#00ff91"/><stop offset=".125" stop-color="#00ff6b"/><stop offset=".25" stop-color="#00ff47"/><stop offset=".375" stop-color="#00ff27"/><stop offset=".5" stop-color="#00ff09"/><stop offset=".542" stop-color="#0f0"/><stop offset=".625" stop-color="#1f0"/><stop offset=".75" stop-color="#29ff00"/><stop offset=".875" stop-color="#3eff00"/><stop offset="1" stop-color="#51ff00"/></linearGradient><linearGradient id="b274"><stop offset="0" stop-color="#00ff8d"/><stop offset=".125" stop-color="#00ff67"/><stop offset=".25" stop-color="#0f4"/><stop offset=".375" stop-color="#00ff23"/><stop offset=".5" stop-color="#00ff05"/><stop offset=".524" stop-color="#0f0"/><stop offset=".625" stop-color="#15ff00"/><stop offset=".75" stop-color="#2dff00"/><stop offset=".875" stop-color="#42ff00"/><stop offset="1" stop-color="#54ff00"/></linearGradient><linearGradient id="b275"><stop offset="0" stop-color="#00ff89"/><stop offset=".125" stop-color="#00ff63"/><stop offset=".25" stop-color="#00ff40"/><stop offset=".375" stop-color="#00ff1f"/><stop offset=".507" stop-color="#0f0"/><stop offset=".625" stop-color="#19ff00"/><stop offset=".75" stop-color="#31ff00"/><stop offset=".875" stop-color="#46ff00"/><stop offset="1" stop-color="#58ff00"/></linearGradient><linearGradient id="b276"><stop offset="0" stop-color="#00ff85"/><stop offset=".125" stop-color="#00ff5f"/><stop offset=".25" stop-color="#00ff3c"/><stop offset=".375" stop-color="#00ff1b"/><stop offset=".489" stop-color="#0f0"/><stop offset=".625" stop-color="#1dff00"/><stop offset=".75" stop-color="#35ff00"/><stop offset=".875" stop-color="#4aff00"/><stop offset="1" stop-color="#5cff00"/></linearGradient><linearGradient id="b277"><stop offset="0" stop-color="#00ff81"/><stop offset=".125" stop-color="#00ff5b"/><stop offset=".25" stop-color="#00ff38"/><stop offset=".375" stop-color="#00ff17"/><stop offset=".472" stop-color="#0f0"/><stop offset=".5" stop-color="#06ff00"/><stop offset=".625" stop-color="#21ff00"/><stop offset=".75" stop-color="#39ff00"/><stop offset=".875" stop-color="#4eff00"/><stop offset="1" stop-color="#60ff00"/></linearGradient><linearGradient id="b278"><stop offset="0" stop-color="#00ff7d"/><stop offset=".125" stop-color="#00ff57"/><stop offset=".25" stop-color="#0f3"/><stop offset=".375" stop-color="#00ff13"/><stop offset=".454" stop-color="#0f0"/><stop offset=".5" stop-color="#0aff00"/><stop offset=".625" stop-color="#25ff00"/><stop offset=".75" stop-color="#3dff00"/><stop offset=".875" stop-color="#52ff00"/><stop offset="1" stop-color="#64ff00"/></linearGradient><linearGradient id="b279"><stop offset="0" stop-color="#00ff79"/><stop offset=".125" stop-color="#00ff53"/><stop offset=".25" stop-color="#00ff2f"/><stop offset=".375" stop-color="#00ff0f"/><stop offset=".437" stop-color="#0f0"/><stop offset=".5" stop-color="#0fff00"/><stop offset=".625" stop-color="#29ff00"/><stop offset=".75" stop-color="#41ff00"/><stop offset=".875" stop-color="#56ff00"/><stop offset="1" stop-color="#68ff00"/></linearGradient><linearGradient id="b280"><stop offset="0" stop-color="#00ff74"/><stop offset=".125" stop-color="#00ff4e"/><stop offset=".25" stop-color="#00ff2b"/><stop offset=".375" stop-color="#00ff0b"/><stop offset=".42" stop-color="#0f0"/><stop offset=".5" stop-color="#13ff00"/><stop offset=".625" stop-color="#2dff00"/><stop offset=".75" stop-color="#45ff00"/><stop offset=".875" stop-color="#5aff00"/><stop offset="1" stop-color="#6cff00"/></linearGradient><linearGradient id="b281"><stop offset="0" stop-color="#00ff70"/><stop offset=".125" stop-color="#00ff4a"/><stop offset=".25" stop-color="#00ff27"/><stop offset=".375" stop-color="#00ff07"/><stop offset=".402" stop-color="#0f0"/><stop offset=".5" stop-color="#17ff00"/><stop offset=".625" stop-color="#31ff00"/><stop offset=".75" stop-color="#49ff00"/><stop offset=".875" stop-color="#5eff00"/><stop offset="1" stop-color="#70ff00"/></linearGradient><linearGradient id="b282"><stop offset="0" stop-color="#00ff6c"/><stop offset=".125" stop-color="#00ff46"/><stop offset=".25" stop-color="#00ff23"/><stop offset=".385" stop-color="#0f0"/><stop offset=".5" stop-color="#1bff00"/><stop offset=".625" stop-color="#36ff00"/><stop offset=".75" stop-color="#4dff00"/><stop offset=".875" stop-color="#62ff00"/><stop offset="1" stop-color="#74ff00"/></linearGradient><linearGradient id="b283"><stop offset="0" stop-color="#00ff67"/><stop offset=".125" stop-color="#00ff41"/><stop offset=".25" stop-color="#00ff1e"/><stop offset=".367" stop-color="#0f0"/><stop offset=".5" stop-color="#1fff00"/><stop offset=".625" stop-color="#3aff00"/><stop offset=".75" stop-color="#51ff00"/><stop offset=".875" stop-color="#6f0"/><stop offset="1" stop-color="#78ff00"/></linearGradient><linearGradient id="b284"><stop offset="0" stop-color="#00ff63"/><stop offset=".125" stop-color="#00ff3d"/><stop offset=".25" stop-color="#00ff1a"/><stop offset=".35" stop-color="#0f0"/><stop offset=".375" stop-color="#06ff00"/><stop offset=".5" stop-color="#24ff00"/><stop offset=".625" stop-color="#3eff00"/><stop offset=".75" stop-color="#56ff00"/><stop offset=".875" stop-color="#6aff00"/><stop offset="1" stop-color="#7cff00"/></linearGradient><linearGradient id="b285"><stop offset="0" stop-color="#00ff5f"/><stop offset=".125" stop-color="#00ff39"/><stop offset=".25" stop-color="#00ff16"/><stop offset=".333" stop-color="#0f0"/><stop offset=".375" stop-color="#0bff00"/><stop offset=".5" stop-color="#28ff00"/><stop offset=".625" stop-color="#42ff00"/><stop offset=".75" stop-color="#5aff00"/><stop offset=".875" stop-color="#6fff00"/><stop offset="1" stop-color="#81ff00"/></linearGradient><linearGradient id="b286"><stop offset="0" stop-color="#00ff5a"/><stop offset=".125" stop-color="#00ff34"/><stop offset=".25" stop-color="#0f1"/><stop offset=".315" stop-color="#0f0"/><stop offset=".375" stop-color="#0fff00"/><stop offset=".5" stop-color="#2cff00"/><stop offset=".625" stop-color="#47ff00"/><stop offset=".75" stop-color="#5eff00"/><stop offset=".875" stop-color="#73ff00"/><stop offset="1" stop-color="#85ff00"/></linearGradient><linearGradient id="b287"><stop offset="0" stop-color="#0f5"/><stop offset=".125" stop-color="#00ff30"/><stop offset=".25" stop-color="#00ff0d"/><stop offset=".298" stop-color="#0f0"/><stop offset=".375" stop-color="#14ff00"/><stop offset=".5" stop-color="#31ff00"/><stop offset=".625" stop-color="#4bff00"/><stop offset=".75" stop-color="#63ff00"/><stop offset=".875" stop-color="#7f0"/><stop offset="1" stop-color="#89ff00"/></linearGradient><linearGradient id="b288"><stop offset="0" stop-color="#00ff51"/><stop offset=".125" stop-color="#00ff2b"/><stop offset=".25" stop-color="#00ff08"/><stop offset=".28" stop-color="#0f0"/><stop offset=".375" stop-color="#18ff00"/><stop offset=".5" stop-color="#35ff00"/><stop offset=".625" stop-color="#50ff00"/><stop offset=".75" stop-color="#67ff00"/><stop offset=".875" stop-color="#7cff00"/><stop offset="1" stop-color="#8eff00"/></linearGradient><linearGradient id="b289"><stop offset="0" stop-color="#00ff4c"/><stop offset=".125" stop-color="#00ff26"/><stop offset=".25" stop-color="#00ff03"/><stop offset=".263" stop-color="#0f0"/><stop offset=".375" stop-color="#1dff00"/><stop offset=".5" stop-color="#3aff00"/><stop offset=".625" stop-color="#54ff00"/><stop offset=".75" stop-color="#6cff00"/><stop offset=".875" stop-color="#80ff00"/><stop offset="1" stop-color="#92ff00"/></linearGradient><linearGradient id="b290"><stop offset="0" stop-color="#00ff48"/><stop offset=".125" stop-color="#0f2"/><stop offset=".246" stop-color="#0f0"/><stop offset=".375" stop-color="#21ff00"/><stop offset=".5" stop-color="#3eff00"/><stop offset=".625" stop-color="#59ff00"/><stop offset=".75" stop-color="#70ff00"/><stop offset=".875" stop-color="#85ff00"/><stop offset="1" stop-color="#97ff00"/></linearGradient><linearGradient id="b291"><stop offset="0" stop-color="#00ff43"/><stop offset=".125" stop-color="#00ff1d"/><stop offset=".228" stop-color="#0f0"/><stop offset=".25" stop-color="#06ff00"/><stop offset=".375" stop-color="#26ff00"/><stop offset=".5" stop-color="#43ff00"/><stop offset=".625" stop-color="#5dff00"/><stop offset=".75" stop-color="#75ff00"/><stop offset=".875" stop-color="#89ff00"/><stop offset="1" stop-color="#9bff00"/></linearGradient><linearGradient id="b292"><stop offset="0" stop-color="#00ff3e"/><stop offset=".125" stop-color="#00ff18"/><stop offset=".211" stop-color="#0f0"/><stop offset=".25" stop-color="#0bff00"/><stop offset=".375" stop-color="#2bff00"/><stop offset=".5" stop-color="#48ff00"/><stop offset=".625" stop-color="#62ff00"/><stop offset=".75" stop-color="#79ff00"/><stop offset=".875" stop-color="#8eff00"/><stop offset="1" stop-color="#a0ff00"/></linearGradient><linearGradient id="b293"><stop offset="0" stop-color="#00ff39"/><stop offset=".125" stop-color="#00ff14"/><stop offset=".194" stop-color="#0f0"/><stop offset=".25" stop-color="#0fff00"/><stop offset=".375" stop-color="#2fff00"/><stop offset=".5" stop-color="#4cff00"/><stop offset=".625" stop-color="#67ff00"/><stop offset=".75" stop-color="#7eff00"/><stop offset=".875" stop-color="#93ff00"/><stop offset="1" stop-color="#a4ff00"/></linearGradient><linearGradient id="b294"><stop offset="0" stop-color="#00ff34"/><stop offset=".125" stop-color="#00ff0f"/><stop offset=".176" stop-color="#0f0"/><stop offset=".25" stop-color="#14ff00"/><stop offset=".375" stop-color="#34ff00"/><stop offset=".5" stop-color="#51ff00"/><stop offset=".625" stop-color="#6bff00"/><stop offset=".75" stop-color="#83ff00"/><stop offset=".875" stop-color="#97ff00"/><stop offset="1" stop-color="#a9ff00"/></linearGradient><linearGradient id="b295"><stop offset="0" stop-color="#00ff2f"/><stop offset=".125" stop-color="#00ff0a"/><stop offset=".159" stop-color="#0f0"/><stop offset=".25" stop-color="#19ff00"/><stop offset=".375" stop-color="#39ff00"/><stop offset=".5" stop-color="#56ff00"/><stop offset=".625" stop-color="#70ff00"/><stop offset=".75" stop-color="#87ff00"/><stop offset=".875" stop-color="#9cff00"/><stop offset="1" stop-color="#aeff00"/></linearGradient><linearGradient id="b296"><stop offset="0" stop-color="#00ff2b"/><stop offset=".125" stop-color="#00ff05"/><stop offset=".142" stop-color="#0f0"/><stop offset=".25" stop-color="#1eff00"/><stop offset=".375" stop-color="#3eff00"/><stop offset=".5" stop-color="#5bff00"/><stop offset=".625" stop-color="#75ff00"/><stop offset=".75" stop-color="#8cff00"/><stop offset=".875" stop-color="#a1ff00"/><stop offset="1" stop-color="#b2ff00"/></linearGradient><linearGradient id="b297"><stop offset="0" stop-color="#00ff26"/><stop offset=".125" stop-color="#0f0"/><stop offset=".25" stop-color="#23ff00"/><stop offset=".375" stop-color="#43ff00"/><stop offset=".5" stop-color="#60ff00"/><stop offset=".625" stop-color="#7aff00"/><stop offset=".75" stop-color="#91ff00"/><stop offset=".875" stop-color="#a6ff00"/><stop offset="1" stop-color="#b7ff00"/></linearGradient><linearGradient id="b298"><stop offset="0" stop-color="#00ff20"/><stop offset=".107" stop-color="#0f0"/><stop offset=".125" stop-color="#05ff00"/><stop offset=".25" stop-color="#28ff00"/><stop offset=".375" stop-color="#48ff00"/><stop offset=".5" stop-color="#65ff00"/><stop offset=".625" stop-color="#7fff00"/><stop offset=".75" stop-color="#96ff00"/><stop offset=".875" stop-color="#af0"/><stop offset="1" stop-color="#bcff00"/></linearGradient><linearGradient id="b299"><stop offset="0" stop-color="#00ff1b"/><stop offset=".09" stop-color="#0f0"/><stop offset=".125" stop-color="#0aff00"/><stop offset=".25" stop-color="#2dff00"/><stop offset=".375" stop-color="#4dff00"/><stop offset=".5" stop-color="#6aff00"/><stop offset=".625" stop-color="#84ff00"/><stop offset=".75" stop-color="#9bff00"/><stop offset=".875" stop-color="#afff00"/><stop offset="1" stop-color="#c1ff00"/></linearGradient><linearGradient id="b2100"><stop offset="0" stop-color="#00ff16"/><stop offset=".073" stop-color="#0f0"/><stop offset=".125" stop-color="#0fff00"/><stop offset=".25" stop-color="#32ff00"/><stop offset=".375" stop-color="#52ff00"/><stop offset=".5" stop-color="#6fff00"/><stop offset=".625" stop-color="#89ff00"/><stop offset=".75" stop-color="#a0ff00"/><stop offset=".875" stop-color="#b4ff00"/><stop offset="1" stop-color="#c6ff00"/></linearGradient><linearGradient id="b2101"><stop offset="0" stop-color="#0f1"/><stop offset=".056" stop-color="#0f0"/><stop offset=".125" stop-color="#14ff00"/><stop offset=".25" stop-color="#37ff00"/><stop offset=".375" stop-color="#57ff00"/><stop offset=".5" stop-color="#74ff00"/><stop offset=".625" stop-color="#8eff00"/><stop offset=".75" stop-color="#a5ff00"/><stop offset=".875" stop-color="#b9ff00"/><stop offset="1" stop-color="#cbff00"/></linearGradient><linearGradient id="b2102"><stop offset="0" stop-color="#00ff0c"/><stop offset=".038" stop-color="#0f0"/><stop offset=".125" stop-color="#1aff00"/><stop offset=".25" stop-color="#3cff00"/><stop offset=".375" stop-color="#5cff00"/><stop offset=".5" stop-color="#79ff00"/><stop offset=".625" stop-color="#93ff00"/><stop offset=".75" stop-color="#af0"/><stop offset=".875" stop-color="#beff00"/><stop offset="1" stop-color="#d0ff00"/></linearGradient><linearGradient id="b2103"><stop offset="0" stop-color="#00ff07"/><stop offset=".021" stop-color="#0f0"/><stop offset=".125" stop-color="#1fff00"/><stop offset=".25" stop-color="#41ff00"/><stop offset=".375" stop-color="#61ff00"/><stop offset=".5" stop-color="#7eff00"/><stop offset=".625" stop-color="#98ff00"/><stop offset=".75" stop-color="#afff00"/><stop offset=".875" stop-color="#c3ff00"/><stop offset="1" stop-color="#d5ff00"/></linearGradient><linearGradient id="b2104"><stop offset="0" stop-color="#00ff01"/><stop offset=".125" stop-color="#24ff00"/><stop offset=".25" stop-color="#47ff00"/><stop offset=".375" stop-color="#6f0"/><stop offset=".5" stop-color="#83ff00"/><stop offset=".625" stop-color="#9dff00"/><stop offset=".75" stop-color="#b4ff00"/><stop offset=".875" stop-color="#c9ff00"/><stop offset="1" stop-color="#daff00"/></linearGradient><linearGradient id="b2105"><stop offset="0" stop-color="#04ff00"/><stop offset=".125" stop-color="#2aff00"/><stop offset=".25" stop-color="#4cff00"/><stop offset=".375" stop-color="#6cff00"/><stop offset=".5" stop-color="#89ff00"/><stop offset=".625" stop-color="#a2ff00"/><stop offset=".75" stop-color="#baff00"/><stop offset=".875" stop-color="#ceff00"/><stop offset="1" stop-color="#dfff00"/></linearGradient><linearGradient id="b2106"><stop offset="0" stop-color="#0aff00"/><stop offset=".125" stop-color="#2fff00"/><stop offset=".25" stop-color="#51ff00"/><stop offset=".375" stop-color="#71ff00"/><stop offset=".5" stop-color="#8eff00"/><stop offset=".625" stop-color="#a8ff00"/><stop offset=".75" stop-color="#bfff00"/><stop offset=".875" stop-color="#d3ff00"/><stop offset="1" stop-color="#e4ff00"/></linearGradient><linearGradient id="b2107"><stop offset="0" stop-color="#0fff00"/><stop offset=".125" stop-color="#34ff00"/><stop offset=".25" stop-color="#57ff00"/><stop offset=".375" stop-color="#76ff00"/><stop offset=".5" stop-color="#93ff00"/><stop offset=".625" stop-color="#adff00"/><stop offset=".75" stop-color="#c4ff00"/><stop offset=".875" stop-color="#d8ff00"/><stop offset="1" stop-color="#eaff00"/></linearGradient><linearGradient id="b2108"><stop offset="0" stop-color="#15ff00"/><stop offset=".125" stop-color="#3aff00"/><stop offset=".25" stop-color="#5cff00"/><stop offset=".375" stop-color="#7cff00"/><stop offset=".5" stop-color="#9f0"/><stop offset=".625" stop-color="#b2ff00"/><stop offset=".75" stop-color="#c9ff00"/><stop offset=".875" stop-color="#deff00"/><stop offset="1" stop-color="#efff00"/></linearGradient><linearGradient id="b2109"><stop offset="0" stop-color="#1aff00"/><stop offset=".125" stop-color="#3fff00"/><stop offset=".25" stop-color="#62ff00"/><stop offset=".375" stop-color="#81ff00"/><stop offset=".5" stop-color="#9eff00"/><stop offset=".625" stop-color="#b8ff00"/><stop offset=".75" stop-color="#cfff00"/><stop offset=".875" stop-color="#e3ff00"/><stop offset="1" stop-color="#f4ff00"/></linearGradient><linearGradient id="b2110"><stop offset="0" stop-color="#20ff00"/><stop offset=".125" stop-color="#45ff00"/><stop offset=".25" stop-color="#67ff00"/><stop offset=".375" stop-color="#87ff00"/><stop offset=".5" stop-color="#a3ff00"/><stop offset=".625" stop-color="#bdff00"/><stop offset=".75" stop-color="#d4ff00"/><stop offset=".875" stop-color="#e8ff00"/><stop offset="1" stop-color="#faff00"/></linearGradient><linearGradient id="b2111"><stop offset="0" stop-color="#25ff00"/><stop offset=".125" stop-color="#4bff00"/><stop offset=".25" stop-color="#6dff00"/><stop offset=".375" stop-color="#8cff00"/><stop offset=".5" stop-color="#a9ff00"/><stop offset=".625" stop-color="#c3ff00"/><stop offset=".75" stop-color="#daff00"/><stop offset=".875" stop-color="#ef0"/><stop offset="1" stop-color="#ff0"/></linearGradient><linearGradient id="b2112"><stop offset="0" stop-color="#2bff00"/><stop offset=".125" stop-color="#50ff00"/><stop offset=".25" stop-color="#73ff00"/><stop offset=".375" stop-color="#92ff00"/><stop offset=".5" stop-color="#afff00"/><stop offset=".625" stop-color="#c8ff00"/><stop offset=".75" stop-color="#dfff00"/><stop offset=".875" stop-color="#f3ff00"/><stop offset=".958" stop-color="#ff0"/><stop offset="1" stop-color="#fffa00"/></linearGradient><linearGradient id="b2113"><stop offset="0" stop-color="#31ff00"/><stop offset=".125" stop-color="#56ff00"/><stop offset=".25" stop-color="#78ff00"/><stop offset=".375" stop-color="#98ff00"/><stop offset=".5" stop-color="#b4ff00"/><stop offset=".625" stop-color="#ceff00"/><stop offset=".75" stop-color="#e5ff00"/><stop offset=".875" stop-color="#f9ff00"/><stop offset=".918" stop-color="#ff0"/><stop offset="1" stop-color="#fff400"/></linearGradient><linearGradient id="b2114"><stop offset="0" stop-color="#36ff00"/><stop offset=".125" stop-color="#5cff00"/><stop offset=".25" stop-color="#7eff00"/><stop offset=".375" stop-color="#9dff00"/><stop offset=".5" stop-color="#baff00"/><stop offset=".625" stop-color="#d4ff00"/><stop offset=".75" stop-color="#eaff00"/><stop offset=".879" stop-color="#ff0"/><stop offset="1" stop-color="#ffef00"/></linearGradient><linearGradient id="b2115"><stop offset="0" stop-color="#3cff00"/><stop offset=".125" stop-color="#61ff00"/><stop offset=".25" stop-color="#84ff00"/><stop offset=".375" stop-color="#a3ff00"/><stop offset=".5" stop-color="#c0ff00"/><stop offset=".625" stop-color="#d9ff00"/><stop offset=".75" stop-color="#f0ff00"/><stop offset=".842" stop-color="#ff0"/><stop offset=".875" stop-color="#fffa00"/><stop offset="1" stop-color="#ffe900"/></linearGradient><linearGradient id="b2116"><stop offset="0" stop-color="#42ff00"/><stop offset=".125" stop-color="#67ff00"/><stop offset=".25" stop-color="#89ff00"/><stop offset=".375" stop-color="#a9ff00"/><stop offset=".5" stop-color="#c5ff00"/><stop offset=".625" stop-color="#dfff00"/><stop offset=".75" stop-color="#f6ff00"/><stop offset=".806" stop-color="#ff0"/><stop offset=".875" stop-color="#fff400"/><stop offset="1" stop-color="#ffe300"/></linearGradient><linearGradient id="b2117"><stop offset="0" stop-color="#48ff00"/><stop offset=".125" stop-color="#6dff00"/><stop offset=".25" stop-color="#8fff00"/><stop offset=".375" stop-color="#afff00"/><stop offset=".5" stop-color="#cbff00"/><stop offset=".625" stop-color="#e5ff00"/><stop offset=".75" stop-color="#fcff00"/><stop offset=".771" stop-color="#ff0"/><stop offset=".875" stop-color="#ffef00"/><stop offset="1" stop-color="#ffde00"/></linearGradient><linearGradient id="b2118"><stop offset="0" stop-color="#4eff00"/><stop offset=".125" stop-color="#73ff00"/><stop offset=".25" stop-color="#95ff00"/><stop offset=".375" stop-color="#b5ff00"/><stop offset=".5" stop-color="#d1ff00"/><stop offset=".625" stop-color="#ebff00"/><stop offset=".736" stop-color="#ff0"/><stop offset=".75" stop-color="#fffd00"/><stop offset=".875" stop-color="#ffe900"/><stop offset="1" stop-color="#ffd800"/></linearGradient><linearGradient id="b2119"><stop offset="0" stop-color="#54ff00"/><stop offset=".125" stop-color="#79ff00"/><stop offset=".25" stop-color="#9bff00"/><stop offset=".375" stop-color="#baff00"/><stop offset=".5" stop-color="#d7ff00"/><stop offset=".625" stop-color="#f0ff00"/><stop offset=".703" stop-color="#ff0"/><stop offset=".75" stop-color="#fff700"/><stop offset=".875" stop-color="#ffe300"/><stop offset="1" stop-color="#ffd200"/></linearGradient><linearGradient id="b2120"><stop offset="0" stop-color="#5aff00"/><stop offset=".125" stop-color="#7fff00"/><stop offset=".25" stop-color="#a1ff00"/><stop offset=".375" stop-color="#c0ff00"/><stop offset=".5" stop-color="#df0"/><stop offset=".625" stop-color="#f6ff00"/><stop offset=".671" stop-color="#ff0"/><stop offset=".75" stop-color="#fff100"/><stop offset=".875" stop-color="#fd0"/><stop offset="1" stop-color="#fc0"/></linearGradient><linearGradient id="b2121"><stop offset="0" stop-color="#60ff00"/><stop offset=".125" stop-color="#85ff00"/><stop offset=".25" stop-color="#a7ff00"/><stop offset=".375" stop-color="#c6ff00"/><stop offset=".5" stop-color="#e3ff00"/><stop offset=".625" stop-color="#fcff00"/><stop offset=".639" stop-color="#ff0"/><stop offset=".75" stop-color="#ffeb00"/><stop offset=".875" stop-color="#ffd700"/><stop offset="1" stop-color="#ffc600"/></linearGradient><linearGradient id="b2122"><stop offset="0" stop-color="#6f0"/><stop offset=".125" stop-color="#8bff00"/><stop offset=".25" stop-color="#adff00"/><stop offset=".375" stop-color="#cdff00"/><stop offset=".5" stop-color="#e9ff00"/><stop offset=".608" stop-color="#ff0"/><stop offset=".625" stop-color="#fffc00"/><stop offset=".75" stop-color="#ffe500"/><stop offset=".875" stop-color="#ffd100"/><stop offset="1" stop-color="#ffc000"/></linearGradient><linearGradient id="b2123"><stop offset="0" stop-color="#6cff00"/><stop offset=".125" stop-color="#91ff00"/><stop offset=".25" stop-color="#b3ff00"/><stop offset=".375" stop-color="#d3ff00"/><stop offset=".5" stop-color="#efff00"/><stop offset=".577" stop-color="#ff0"/><stop offset=".625" stop-color="#fff600"/><stop offset=".75" stop-color="#ffdf00"/><stop offset=".875" stop-color="#ffcb00"/><stop offset="1" stop-color="#ffba00"/></linearGradient><linearGradient id="b2124"><stop offset="0" stop-color="#73ff00"/><stop offset=".125" stop-color="#98ff00"/><stop offset=".25" stop-color="#baff00"/><stop offset=".375" stop-color="#d9ff00"/><stop offset=".5" stop-color="#f5ff00"/><stop offset=".547" stop-color="#ff0"/><stop offset=".625" stop-color="#fff000"/><stop offset=".75" stop-color="#ffd900"/><stop offset=".875" stop-color="#ffc500"/><stop offset="1" stop-color="#ffb400"/></linearGradient><linearGradient id="b2125"><stop offset="0" stop-color="#79ff00"/><stop offset=".125" stop-color="#9eff00"/><stop offset=".25" stop-color="#c0ff00"/><stop offset=".375" stop-color="#dfff00"/><stop offset=".5" stop-color="#fbff00"/><stop offset=".518" stop-color="#ff0"/><stop offset=".625" stop-color="#ffe900"/><stop offset=".75" stop-color="#ffd300"/><stop offset=".875" stop-color="#ffbf00"/><stop offset="1" stop-color="#ffae00"/></linearGradient><linearGradient id="b2126"><stop offset="0" stop-color="#7fff00"/><stop offset=".125" stop-color="#a4ff00"/><stop offset=".25" stop-color="#c6ff00"/><stop offset=".375" stop-color="#e5ff00"/><stop offset=".489" stop-color="#ff0"/><stop offset=".625" stop-color="#ffe300"/><stop offset=".75" stop-color="#ffcd00"/><stop offset=".875" stop-color="#ffb900"/><stop offset="1" stop-color="#ffa800"/></linearGradient><linearGradient id="b2127"><stop offset="0" stop-color="#86ff00"/><stop offset=".125" stop-color="#af0"/><stop offset=".25" stop-color="#cf0"/><stop offset=".375" stop-color="#ebff00"/><stop offset=".46" stop-color="#ff0"/><stop offset=".5" stop-color="#fff600"/><stop offset=".625" stop-color="#fd0"/><stop offset=".75" stop-color="#ffc600"/><stop offset=".875" stop-color="#ffb300"/><stop offset="1" stop-color="#ffa200"/></linearGradient><linearGradient id="b2128"><stop offset="0" stop-color="#8cff00"/><stop offset=".125" stop-color="#b1ff00"/><stop offset=".25" stop-color="#d3ff00"/><stop offset=".375" stop-color="#f2ff00"/><stop offset=".432" stop-color="#ff0"/><stop offset=".5" stop-color="#fff000"/><stop offset=".625" stop-color="#ffd700"/><stop offset=".75" stop-color="#ffc000"/><stop offset=".875" stop-color="#ffad00"/><stop offset="1" stop-color="#ff9c00"/></linearGradient><linearGradient id="b2129"><stop offset="0" stop-color="#92ff00"/><stop offset=".125" stop-color="#b7ff00"/><stop offset=".25" stop-color="#d9ff00"/><stop offset=".375" stop-color="#f8ff00"/><stop offset=".404" stop-color="#ff0"/><stop offset=".5" stop-color="#ffea00"/><stop offset=".625" stop-color="#ffd000"/><stop offset=".75" stop-color="#ffba00"/><stop offset=".875" stop-color="#ffa600"/><stop offset="1" stop-color="#ff9600"/></linearGradient><linearGradient id="b2130"><stop offset="0" stop-color="#9f0"/><stop offset=".125" stop-color="#beff00"/><stop offset=".25" stop-color="#e0ff00"/><stop offset=".377" stop-color="#ff0"/><stop offset=".5" stop-color="#ffe300"/><stop offset=".625" stop-color="#ffca00"/><stop offset=".75" stop-color="#ffb400"/><stop offset=".875" stop-color="#ffa000"/><stop offset="1" stop-color="#ff8f00"/></linearGradient><linearGradient id="b2131"><stop offset="0" stop-color="#a0ff00"/><stop offset=".125" stop-color="#c4ff00"/><stop offset=".25" stop-color="#e6ff00"/><stop offset=".35" stop-color="#ff0"/><stop offset=".375" stop-color="#fff900"/><stop offset=".5" stop-color="#fd0"/><stop offset=".625" stop-color="#ffc400"/><stop offset=".75" stop-color="#ffad00"/><stop offset=".875" stop-color="#ff9a00"/><stop offset="1" stop-color="#ff8900"/></linearGradient><linearGradient id="b2132"><stop offset="0" stop-color="#a6ff00"/><stop offset=".125" stop-color="#cbff00"/><stop offset=".25" stop-color="#edff00"/><stop offset=".323" stop-color="#ff0"/><stop offset=".375" stop-color="#fff200"/><stop offset=".5" stop-color="#ffd600"/><stop offset=".625" stop-color="#ffbd00"/><stop offset=".75" stop-color="#ffa700"/><stop offset=".875" stop-color="#ff9300"/><stop offset="1" stop-color="#ff8300"/></linearGradient><linearGradient id="b2133"><stop offset="0" stop-color="#adff00"/><stop offset=".125" stop-color="#d1ff00"/><stop offset=".25" stop-color="#f3ff00"/><stop offset=".296" stop-color="#ff0"/><stop offset=".375" stop-color="#ffec00"/><stop offset=".5" stop-color="#ffd000"/><stop offset=".625" stop-color="#ffb700"/><stop offset=".75" stop-color="#ffa000"/><stop offset=".875" stop-color="#ff8d00"/><stop offset="1" stop-color="#ff7c00"/></linearGradient><linearGradient id="b2134"><stop offset="0" stop-color="#b3ff00"/><stop offset=".125" stop-color="#d8ff00"/><stop offset=".25" stop-color="#faff00"/><stop offset=".27" stop-color="#ff0"/><stop offset=".375" stop-color="#ffe500"/><stop offset=".5" stop-color="#ffc900"/><stop offset=".625" stop-color="#ffb000"/><stop offset=".75" stop-color="#ff9a00"/><stop offset=".875" stop-color="#ff8600"/><stop offset="1" stop-color="#ff7600"/></linearGradient><linearGradient id="b2135"><stop offset="0" stop-color="#baff00"/><stop offset=".125" stop-color="#dfff00"/><stop offset=".244" stop-color="#ff0"/><stop offset=".375" stop-color="#ffdf00"/><stop offset=".5" stop-color="#ffc300"/><stop offset=".625" stop-color="#fa0"/><stop offset=".75" stop-color="#ff9300"/><stop offset=".875" stop-color="#ff8000"/><stop offset="1" stop-color="#ff6f00"/></linearGradient><linearGradient id="b2136"><stop offset="0" stop-color="#c1ff00"/><stop offset=".125" stop-color="#e5ff00"/><stop offset=".219" stop-color="#ff0"/><stop offset=".25" stop-color="#fff700"/><stop offset=".375" stop-color="#ffd800"/><stop offset=".5" stop-color="#ffbc00"/><stop offset=".625" stop-color="#ffa300"/><stop offset=".75" stop-color="#ff8d00"/><stop offset=".875" stop-color="#ff7900"/><stop offset="1" stop-color="#ff6900"/></linearGradient><linearGradient id="b2137"><stop offset="0" stop-color="#c8ff00"/><stop offset=".125" stop-color="#ecff00"/><stop offset=".193" stop-color="#ff0"/><stop offset=".25" stop-color="#fff000"/><stop offset=".375" stop-color="#ffd100"/><stop offset=".5" stop-color="#ffb500"/><stop offset=".625" stop-color="#ff9c00"/><stop offset=".75" stop-color="#ff8600"/><stop offset=".875" stop-color="#ff7300"/><stop offset="1" stop-color="#ff6200"/></linearGradient><linearGradient id="b2138"><stop offset="0" stop-color="#cfff00"/><stop offset=".125" stop-color="#f3ff00"/><stop offset=".168" stop-color="#ff0"/><stop offset=".25" stop-color="#ffe900"/><stop offset=".375" stop-color="#ffca00"/><stop offset=".5" stop-color="#ffaf00"/><stop offset=".625" stop-color="#ff9500"/><stop offset=".75" stop-color="#ff7f00"/><stop offset=".875" stop-color="#ff6c00"/><stop offset="1" stop-color="#ff5b00"/></linearGradient><linearGradient id="b2139"><stop offset="0" stop-color="#d5ff00"/><stop offset=".125" stop-color="#faff00"/><stop offset=".143" stop-color="#ff0"/><stop offset=".25" stop-color="#ffe200"/><stop offset=".375" stop-color="#ffc400"/><stop offset=".5" stop-color="#ffa800"/><stop offset=".625" stop-color="#ff8f00"/><stop offset=".75" stop-color="#ff7900"/><stop offset=".875" stop-color="#ff6500"/><stop offset="1" stop-color="#f50"/></linearGradient><linearGradient id="b2140"><stop offset="0" stop-color="#dcff00"/><stop offset=".118" stop-color="#ff0"/><stop offset=".25" stop-color="#ffdc00"/><stop offset=".375" stop-color="#ffbd00"/><stop offset=".5" stop-color="#ffa100"/><stop offset=".625" stop-color="#f80"/><stop offset=".75" stop-color="#ff7200"/><stop offset=".875" stop-color="#ff5e00"/><stop offset="1" stop-color="#ff4e00"/></linearGradient><linearGradient id="b2141"><stop offset="0" stop-color="#e3ff00"/><stop offset=".094" stop-color="#ff0"/><stop offset=".125" stop-color="#fff600"/><stop offset=".25" stop-color="#ffd500"/><stop offset=".375" stop-color="#ffb600"/><stop offset=".5" stop-color="#ff9a00"/><stop offset=".625" stop-color="#ff8100"/><stop offset=".75" stop-color="#ff6b00"/><stop offset=".875" stop-color="#ff5800"/><stop offset="1" stop-color="#ff4700"/></linearGradient><linearGradient id="b2142"><stop offset="0" stop-color="#eaff00"/><stop offset=".069" stop-color="#ff0"/><stop offset=".125" stop-color="#ffef00"/><stop offset=".25" stop-color="#ffce00"/><stop offset=".375" stop-color="#ffaf00"/><stop offset=".5" stop-color="#ff9300"/><stop offset=".625" stop-color="#ff7a00"/><stop offset=".75" stop-color="#ff6400"/><stop offset=".875" stop-color="#ff5100"/><stop offset="1" stop-color="#ff4000"/></linearGradient><linearGradient id="b2143"><stop offset="0" stop-color="#f2ff00"/><stop offset=".045" stop-color="#ff0"/><stop offset=".125" stop-color="#ffe800"/><stop offset=".25" stop-color="#ffc700"/><stop offset=".375" stop-color="#ffa800"/><stop offset=".5" stop-color="#ff8c00"/><stop offset=".625" stop-color="#ff7300"/><stop offset=".75" stop-color="#ff5d00"/><stop offset=".875" stop-color="#ff4a00"/><stop offset="1" stop-color="#ff3a00"/></linearGradient><linearGradient id="b2144"><stop offset="0" stop-color="#f9ff00"/><stop offset=".021" stop-color="#ff0"/><stop offset=".125" stop-color="#ffe100"/><stop offset=".25" stop-color="#ffbf00"/><stop offset=".375" stop-color="#ffa100"/><stop offset=".5" stop-color="#ff8500"/><stop offset=".625" stop-color="#ff6c00"/><stop offset=".75" stop-color="#ff5600"/><stop offset=".875" stop-color="#ff4300"/><stop offset="1" stop-color="#f30"/></linearGradient><linearGradient id="b2145"><stop offset="0" stop-color="#fffe00"/><stop offset=".125" stop-color="#ffda00"/><stop offset=".25" stop-color="#ffb800"/><stop offset=".375" stop-color="#ff9a00"/><stop offset=".5" stop-color="#ff7e00"/><stop offset=".625" stop-color="#ff6500"/><stop offset=".75" stop-color="#ff4f00"/><stop offset=".875" stop-color="#ff3c00"/><stop offset="1" stop-color="#ff2c00"/></linearGradient><linearGradient id="b2146"><stop offset="0" stop-color="#fff700"/><stop offset=".125" stop-color="#ffd300"/><stop offset=".25" stop-color="#ffb100"/><stop offset=".375" stop-color="#ff9300"/><stop offset=".5" stop-color="#f70"/><stop offset=".625" stop-color="#ff5e00"/><stop offset=".75" stop-color="#ff4800"/><stop offset=".875" stop-color="#ff3500"/><stop offset="1" stop-color="#ff2500"/></linearGradient><linearGradient id="b2147"><stop offset="0" stop-color="#fff000"/><stop offset=".125" stop-color="#ffcb00"/><stop offset=".25" stop-color="#fa0"/><stop offset=".375" stop-color="#ff8b00"/><stop offset=".5" stop-color="#ff7000"/><stop offset=".625" stop-color="#ff5700"/><stop offset=".75" stop-color="#ff4100"/><stop offset=".875" stop-color="#ff2e00"/><stop offset="1" stop-color="#ff1e00"/></linearGradient><linearGradient id="b2148"><stop offset="0" stop-color="#ffe900"/><stop offset=".125" stop-color="#ffc500"/><stop offset=".25" stop-color="#ffa400"/><stop offset=".375" stop-color="#ff8500"/><stop offset=".5" stop-color="#ff6900"/><stop offset=".625" stop-color="#ff5100"/><stop offset=".75" stop-color="#ff3b00"/><stop offset=".875" stop-color="#ff2800"/><stop offset="1" stop-color="#ff1700"/></linearGradient></defs><g shape-rendering="crispEdges"><rect x="1462" width="890" y="1266" height="6.6" fill="url(#b20)"/><rect x="1462" width="890" y="1272" height="6.6" fill="url(#b21)"/><rect x="1462" width="890" y="1278" height="6.6" fill="url(#b22)"/><rect x="1462" width="890" y="1284" height="6.6" fill="url(#b23)"/><rect x="1462" width="890" y="1290" height="6.6" fill="url(#b24)"/><rect x="1462" width="890" y="1296" height="6.6" fill="url(#b25)"/><rect x="1462" width="890" y="1302" height="6.6" fill="url(#b26)"/><rect x="1462" width="890" y="1308" height="6.6" fill="url(#b27)"/><rect x="1462" width="890" y="1314" height="6.6" fill="url(#b28)"/><rect x="1462" width="890" y="1320" height="6.6" fill="url(#b29)"/><rect x="1462" width="890" y="1326" height="6.6" fill="url(#b210)"/><rect x="1462" width="890" y="1332" height="6.6" fill="url(#b211)"/><rect x="1462" width="890" y="1338" height="6.6" fill="url(#b212)"/><rect x="1462" width="890" y="1344" height="6.6" fill="url(#b213)"/><rect x="1462" width="890" y="1350" height="6.6" fill="url(#b214)"/><rect x="1462" width="890" y="1356" height="6.6" fill="url(#b215)"/><rect x="1462" width="890" y="1362" height="6.6" fill="url(#b216)"/><rect x="1462" width="890" y="1368" height="6.6" fill="url(#b217)"/><rect x="1462" width="890" y="1374" height="6.6" fill="url(#b218)"/><rect x="1462" width="890" y="1380" height="6.6" fill="url(#b219)"/><rect x="1462" width="890" y="1386" height="6.6" fill="url(#b220)"/><rect x="1462" width="890" y="1392" height="6.6" fill="url(#b221)"/><rect x="1462" width="890" y="1398" height="6.6" fill="url(#b222)"/><rect x="1462" width="890" y="1404" height="6.6" fill="url(#b223)"/><rect x="1462" width="890" y="1410" height="6.6" fill="url(#b224)"/><rect x="1462" width="890" y="1416" height="6.6" fill="url(#b225)"/><rect x="1462" width="890" y="1422" height="6.6" fill="url(#b226)"/><rect x="1462" width="890" y="1428" height="6.6" fill="url(#b227)"/><rect x="1462" width="890" y="1434" height="6.6" fill="url(#b228)"/><rect x="1462" width="890" y="1440" height="6.6" fill="url(#b229)"/><rect x="1462" width="890" y="1446" height="6.6" fill="url(#b230)"/><rect x="1462" width="890" y="1452" height="6.6" fill="url(#b231)"/><rect x="1462" width="890" y="1458" height="6.6" fill="url(#b232)"/><rect x="1462" width="890" y="1464" height="6.6" fill="url(#b233)"/><rect x="1462" width="890" y="1470" height="6.6" fill="url(#b234)"/><rect x="1462" width="890" y="1476" height="6.6" fill="url(#b235)"/><rect x="1462" width="890" y="1482" height="6.6" fill="url(#b236)"/><rect x="1462" width="890" y="1488" height="6.6" fill="url(#b237)"/><rect x="1462" width="890" y="1494" height="6.6" fill="url(#b238)"/><rect x="1462" width="890" y="1500" height="6.6" fill="url(#b239)"/><rect x="1462" width="890" y="1506" height="6.6" fill="url(#b240)"/><rect x="1462" width="890" y="1512" height="6.6" fill="url(#b241)"/><rect x="1462" width="890" y="1518" height="6.6" fill="url(#b242)"/><rect x="1462" width="890" y="1524" height="6.6" fill="url(#b243)"/><rect x="1462" width="890" y="1530" height="6.6" fill="url(#b244)"/><rect x="1462" width="890" y="1536" height="6.6" fill="url(#b245)"/><rect x="1462" width="890" y="1542" height="6.6" fill="url(#b246)"/><rect x="1462" width="890" y="1548" height="6.6" fill="url(#b247)"/><rect x="1462" width="890" y="1554" height="6.6" fill="url(#b248)"/><rect x="1462" width="890" y="1560" height="6.6" fill="url(#b249)"/><rect x="1462" width="890" y="1566" height="6.6" fill="url(#b250)"/><rect x="1462" width="890" y="1572" height="6.6" fill="url(#b251)"/><rect x="1462" width="890" y="1578" height="6.6" fill="url(#b252)"/><rect x="1462" width="890" y="1584" height="6.6" fill="url(#b253)"/><rect x="1462" width="890" y="1590" height="6.6" fill="url(#b254)"/><rect x="1462" width="890" y="1596" height="6.6" fill="url(#b255)"/><rect x="1462" width="890" y="1602" height="6.6" fill="url(#b256)"/><rect x="1462" width="890" y="1608" height="6.6" fill="url(#b257)"/><rect x="1462" width="890" y="1614" height="6.6" fill="url(#b258)"/><rect x="1462" width="890" y="1620" height="6.6" fill="url(#b259)"/><rect x="1462" width="890" y="1626" height="6.6" fill="url(#b260)"/><rect x="1462" width="890" y="1632" height="6.6" fill="url(#b261)"/><rect x="1462" width="890" y="1638" height="6.6" fill="url(#b262)"/><rect x="1462" width="890" y="1644" height="6.6" fill="url(#b263)"/><rect x="1462" width="890" y="1650" height="6.6" fill="url(#b264)"/><rect x="1462" width="890" y="1656" height="6.6" fill="url(#b265)"/><rect x="1462" width="890" y="1662" height="6.6" fill="url(#b266)"/><rect x="1462" width="890" y="1668" height="6.6" fill="url(#b267)"/><rect x="1462" width="890" y="1674" height="6.6" fill="url(#b268)"/><rect x="1462" width="890" y="1680" height="6.6" fill="url(#b269)"/><rect x="1462" width="890" y="1686" height="6.6" fill="url(#b270)"/><rect x="1462" width="890" y="1692" height="6.6" fill="url(#b271)"/><rect x="1462" width="890" y="1698" height="6.6" fill="url(#b272)"/><rect x="1462" width="890" y="1704" height="6.6" fill="url(#b273)"/><rect x="1462" width="890" y="1710" height="6.6" fill="url(#b274)"/><rect x="1462" width="890" y="1716" height="6.6" fill="url(#b275)"/><rect x="1462" width="890" y="1722" height="6.6" fill="url(#b276)"/><rect x="1462" width="890" y="1728" height="6.6" fill="url(#b277)"/><rect x="1462" width="890" y="1734" height="6.6" fill="url(#b278)"/><rect x="1462" width="890" y="1740" height="6.6" fill="url(#b279)"/><rect x="1462" width="890" y="1746" height="6.6" fill="url(#b280)"/><rect x="1462" width="890" y="1752" height="6.6" fill="url(#b281)"/><rect x="1462" width="890" y="1758" height="6.6" fill="url(#b282)"/><rect x="1462" width="890" y="1764" height="6.6" fill="url(#b283)"/><rect x="1462" width="890" y="1770" height="6.6" fill="url(#b284)"/><rect x="1462" width="890" y="1776" height="6.6" fill="url(#b285)"/><rect x="1462" width="890" y="1782" height="6.6" fill="url(#b286)"/><rect x="1462" width="890" y="1788" height="6.6" fill="url(#b287)"/><rect x="1462" width="890" y="1794" height="6.6" fill="url(#b288)"/><rect x="1462" width="890" y="1800" height="6.6" fill="url(#b289)"/><rect x="1462" width="890" y="1806" height="6.6" fill="url(#b290)"/><rect x="1462" width="890" y="1812" height="6.6" fill="url(#b291)"/><rect x="1462" width="890" y="1818" height="6.6" fill="url(#b292)"/><rect x="1462" width="890" y="1824" height="6.6" fill="url(#b293)"/><rect x="1462" width="890" y="1830" height="6.6" fill="url(#b294)"/><rect x="1462" width="890" y="1836" height="6.6" fill="url(#b295)"/><rect x="1462" width="890" y="1842" height="6.6" fill="url(#b296)"/><rect x="1462" width="890" y="1848" height="6.6" fill="url(#b297)"/><rect x="1462" width="890" y="1854" height="6.6" fill="url(#b298)"/><rect x="1462" width="890" y="1860" height="6.6" fill="url(#b299)"/><rect x="1462" width="890" y="1866" height="6.6" fill="url(#b2100)"/><rect x="1462" width="890" y="1872" height="6.6" fill="url(#b2101)"/><rect x="1462" width="890" y="1878" height="6.6" fill="url(#b2102)"/><rect x="1462" width="890" y="1884" height="6.6" fill="url(#b2103)"/><rect x="1462" width="890" y="1890" height="6.6" fill="url(#b2104)"/><rect x="1462" width="890" y="1896" height="6.6" fill="url(#b2105)"/><rect x="1462" width="890" y="1902" height="6.6" fill="url(#b2106)"/><rect x="1462" width="890" y="1908" height="6.6" fill="url(#b2107)"/><rect x="1462" width="890" y="1914" height="6.6" fill="url(#b2108)"/><rect x="1462" width="890" y="1920" height="6.6" fill="url(#b2109)"/><rect x="1462" width="890" y="1926" height="6.6" fill="url(#b2110)"/><rect x="1462" width="890" y="1932" height="6.6" fill="url(#b2111)"/><rect x="1462" width="890" y="1938" height="6.6" fill="url(#b2112)"/><rect x="1462" width="890" y="1944" height="6.6" fill="url(#b2113)"/><rect x="1462" width="890" y="1950" height="6.6" fill="url(#b2114)"/><rect x="1462" width="890" y="1956" height="6.6" fill="url(#b2115)"/><rect x="1462" width="890" y="1962" height="6.6" fill="url(#b2116)"/><rect x="1462" width="890" y="1968" height="6.6" fill="url(#b2117)"/><rect x="1462" width="890" y="1974" height="6.6" fill="url(#b2118)"/><rect x="1462" width="890" y="1980" height="6.6" fill="url(#b2119)"/><rect x="1462" width="890" y="1986" height="6.6" fill="url(#b2120)"/><rect x="1462" width="890" y="1992" height="6.6" fill="url(#b2121)"/><rect x="1462" width="890" y="1998" height="6.6" fill="url(#b2122)"/><rect x="1462" width="890" y="2004" height="6.6" fill="url(#b2123)"/><rect x="1462" width="890" y="2010" height="6.6" fill="url(#b2124)"/><rect x="1462" width="890" y="2016" height="6.6" fill="url(#b2125)"/><rect x="1462" width="890" y="2022" height="6.6" fill="url(#b2126)"/><rect x="1462" width="890" y="2028" height="6.6" fill="url(#b2127)"/><rect x="1462" width="890" y="2034" height="6.6" fill="url(#b2128)"/><rect x="1462" width="890" y="2040" height="6.6" fill="url(#b2129)"/><rect x="1462" width="890" y="2046" height="6.6" fill="url(#b2130)"/><rect x="1462" width="890" y="2052" height="6.6" fill="url(#b2131)"/><rect x="1462" width="890" y="2058" height="6.6" fill="url(#b2132)"/><rect x="1462" width="890" y="2064" height="6.6" fill="url(#b2133)"/><rect x="1462" width="890" y="2070" height="6.6" fill="url(#b2134)"/><rect x="1462" width="890" y="2076" height="6.6" fill="url(#b2135)"/><rect x="1462" width="890" y="2082" height="6.6" fill="url(#b2136)"/><rect x="1462" width="890" y="2088" height="6.6" fill="url(#b2137)"/><rect x="1462" width="890" y="2094" height="6.6" fill="url(#b2138)"/><rect x="1462" width="890" y="2100" height="6.6" fill="url(#b2139)"/><rect x="1462" width="890" y="2106" height="6.6" fill="url(#b2140)"/><rect x="1462" width="890" y="2112" height="6.6" fill="url(#b2141)"/><rect x="1462" width="890" y="2118" height="6.6" fill="url(#b2142)"/><rect x="1462" width="890" y="2124" height="6.6" fill="url(#b2143)"/><rect x="1462" width="890" y="2130" height="6.6" fill="url(#b2144)"/><rect x="1462" width="890" y="2136" height="6.6" fill="url(#b2145)"/><rect x="1462" width="890" y="2142" height="6.6" fill="url(#b2146)"/><rect x="1462" width="890" y="2148" height="6.6" fill="url(#b2147)"/><rect x="1462" width="890" y="2154" height="4.5" fill="url(#b2148)"/></g><path d="M1953.7 1266 1949.9 1277.2 1945.4 1288.3 1940.4 1299.5 1934.8 1310.6 1928.6 1321.8 1921.8 1332.9 1914.4 1344.1 1907 1354.6 1901.4 1362 1893.6 1372 1884.8 1382.6 1879.2 1389 1869.4 1399.9 1862.5 1407.2 1853.3 1416.6 1845.8 1424 1836.1 1433.3 1829.1 1439.9 1818 1450 1811.6 1455.7 1801.3 1464.5 1791.9 1472.4 1784.6 1478.4 1773.5 1487.4 1764.2 1494.7 1756.8 1500.4 1745.7 1508.9 1734.8 1517 1727.2 1522.6 1717.9 1529.4 1706.8 1537.3 1695.9 1544.9 1687.9 1550.5 1678.9 1556.6 1667.8 1564.1 1656.7 1571.5 1646.3 1578.4 1637.8 1584 1628.9 1589.7 1617.8 1596.8 1606.6 1603.8 1595.5 1610.8 1584.7 1617.4 1575.6 1623 1566.5 1628.6 1556.6 1634.5 1545.4 1641.2 1534.3 1647.8 1523.2 1654.3 1512.1 1660.8 1500.9 1667.3 1490.7 1673.2 1480.9 1678.8 1471.1 1684.4 1462 1689.5 M2352 1686 2336.6 1689.9 2324.2 1693.1 2313.1 1696 2296.4 1700.5 2285.2 1703.4 2273.2 1706.7 2257.4 1711 2246.3 1714 2232.5 1717.8 2218.5 1721.7 2207.4 1724.9 2192.9 1729 2179.6 1732.8 2168.4 1736 2154.1 1740.1 2140.6 1744.1 2129.5 1747.3 2116.1 1751.3 2101.7 1755.6 2090.6 1758.9 2078.8 1762.5 2062.8 1767.3 2051.6 1770.7 2040.5 1774.1 2023.9 1779.2 2012.7 1782.7 2001.6 1786.1 1988 1790.3 1973.8 1794.8 1962.6 1798.3 1951.5 1801.8 1935 1807.1 1923.7 1810.7 1912.6 1814.2 1900.1 1818.2 1884.8 1823.2 1873.6 1826.8 1862.5 1830.4 1848.5 1835 1834.7 1839.5 1823.6 1843.1 1812.4 1846.8 1797.7 1851.7 1784.6 1856 1773.5 1859.7 1762.4 1863.4 1747.4 1868.4 1734.6 1872.7 1723.4 1876.5 1712.3 1880.2 1697.7 1885.2 1684.5 1889.7 1673.4 1893.4 1662.2 1897.2 1648.5 1901.9 1634.4 1906.7 1623.3 1910.5 1612.2 1914.4 1599.8 1918.6 1584.4 1924 1573.2 1927.8 1562.1 1931.7 1551 1935.5 1535.5 1941 1523.2 1945.2 1512.1 1949.1 1500.9 1953 1487.6 1957.7 1473.1 1962.8 1462 1966.7 M2352 1974.7 2335.3 1977.2 2318.6 1979.7 2307.5 1981.4 2290.8 1984 2279.7 1985.8 2263 1988.5 2246.9 1991.2 2235.2 1993.1 2218.5 1996 2207.4 1997.9 2190.7 2000.8 2179.6 2002.8 2162.9 2005.8 2151.4 2007.9 2135.1 2010.9 2121.5 2013.5 2107.2 2016.2 2092.3 2019 2079.4 2021.5 2063.9 2024.6 2051.6 2027.1 2036 2030.2 2023.8 2032.7 2008.8 2035.8 1996 2038.4 1982.1 2041.4 1968.2 2044.3 1956 2046.9 1940.4 2050.3 1929.2 2052.7 1912.6 2056.4 1901.4 2058.9 1884.8 2062.6 1873.6 2065.1 1856.9 2068.9 1845.8 2071.5 1831.3 2074.8 1818 2077.9 1806.9 2080.5 1790.2 2084.5 1779.1 2087.1 1762.4 2091.2 1751.2 2093.8 1737.7 2097.1 1723.4 2100.6 1712.3 2103.4 1695.6 2107.5 1684.5 2110.3 1670.3 2113.9 1656.7 2117.3 1645.6 2120.1 1628.9 2124.4 1617.8 2127.3 1604.8 2130.6 1589.9 2134.5 1578.8 2137.4 1562.1 2141.8 1551 2144.7 1539.9 2147.7 1523.2 2152.1 1512.1 2155.1 1499.4 2158.5" fill="none" stroke="#000" stroke-width="2.3" stroke-opacity=".92"/><path d="M1462 1266 H2352 V2158.5 H1462 Z M1462 2158.5 v22 M1462 1266 h-22 M1684.5 2158.5 v22 M1462 1489.1 h-22 M1907 2158.5 v22 M1462 1712.2 h-22 M2129.5 2158.5 v22 M1462 1935.4 h-22 M2352 2158.5 v22 M1462 2158.5 h-22" fill="none" stroke="#303030" stroke-width="2.2"/><rect x="1715" y="1464" width="50" height="49" rx="2" fill="#fff" stroke="#3a3a3a" stroke-width="1.8"/><rect x="1876.2" y="1767.8" width="49.2" height="49" rx="2" fill="#fff" stroke="#3a3a3a" stroke-width="1.8"/><rect x="1888.2" y="2006.2" width="49.2" height="48.5" rx="2" fill="#fff" stroke="#3a3a3a" stroke-width="1.8"/></g>
<g fill="#050505" stroke="#050505" stroke-width="0.7" stroke-linejoin="round"><text transform="translate(75.0 126.0) scale(1.055 1)" font-size="48.0">100</text>
<text transform="translate(112.6 244.5) scale(0.996 1)" font-size="48.0">75</text>
<text transform="translate(118.0 360.5) scale(1.049 1)" font-size="48.0">50</text>
<text transform="translate(123.7 478.8) scale(1.048 1)" font-size="48.0">25</text>
<text transform="translate(160.5 596.0) scale(1.107 1)" font-size="48.0">0</text>
<text transform="translate(126.1 812.7) scale(1.082 1)" font-size="48.0">0.1</text>
<text transform="translate(220.0 885.5) scale(1.086 1)" font-size="48.0">0.2</text>
<text transform="translate(313.6 959.0) scale(1.066 1)" font-size="48.0">0.3</text>
<text transform="translate(406.8 1032.0) scale(1.061 1)" font-size="48.0">0.4</text>
<text transform="translate(500.6 1104.5) scale(1.040 1)" font-size="48.0">0.5</text>
<text transform="translate(621.1 1104.5) scale(1.096 1)" font-size="48.0">10</text>
<text transform="translate(759.5 1048.5) scale(1.039 1)" font-size="48.0">20</text>
<text transform="translate(895.1 992.3) scale(1.067 1)" font-size="48.0">30</text>
<text transform="translate(1033.1 937.5) scale(1.057 1)" font-size="48.0">40</text>
<text transform="translate(1170.5 881.2) scale(1.044 1)" font-size="48.0">50</text>
<text transform="translate(124.2 1000.5) scale(0.965 1)" font-size="42.2">Cr(III), g/L</text>
<text transform="translate(925.8 1068.0) scale(0.879 1)" font-size="42.2">D2EHPA, %</text>
<text transform="translate(10.0 1070.0) scale(1.007 1)" font-size="44.5">A1)</text>
<text transform="translate(54.8 577.5) rotate(-90) scale(0.942 1)" font-size="42.2">Extraction, %</text>
<text transform="translate(1805.4 60.3) scale(0.977 1)" font-size="35.0">Extraction, %</text>
<text transform="translate(1387.3 81.5) scale(1.032 1)" font-size="41.5">50</text>
<text transform="translate(1388.1 305.2) scale(1.014 1)" font-size="41.5">40</text>
<text transform="translate(1387.6 529.0) scale(1.022 1)" font-size="41.5">30</text>
<text transform="translate(1386.8 752.7) scale(1.042 1)" font-size="41.5">20</text>
<text transform="translate(1387.6 976.3) scale(1.016 1)" font-size="41.5">10</text>
<text transform="translate(1435.7 1043.8) scale(1.010 1)" font-size="41.5">0.1</text>
<text transform="translate(1657.9 1043.8) scale(1.025 1)" font-size="41.5">0.2</text>
<text transform="translate(1879.9 1043.8) scale(1.008 1)" font-size="41.5">0.3</text>
<text transform="translate(2103.1 1043.8) scale(1.011 1)" font-size="41.5">0.4</text>
<text transform="translate(2325.5 1043.8) scale(0.995 1)" font-size="41.5">0.5</text>
<text transform="translate(1815.5 1105.3) scale(0.971 1)" font-size="42.2">Cr(III), g/L</text>
<text transform="translate(1288.5 1069.6) scale(0.983 1)" font-size="44.5">A2)</text>
<text transform="translate(1342.6 618.5) rotate(-90) scale(0.883 1)" font-size="42.2">D2EHPA, %</text>
<text transform="translate(65.7 1333.0) scale(1.055 1)" font-size="48.0">100</text>
<text transform="translate(102.6 1453.5) scale(1.001 1)" font-size="48.0">75</text>
<text transform="translate(106.8 1573.5) scale(1.077 1)" font-size="48.0">50</text>
<text transform="translate(112.8 1694.0) scale(1.031 1)" font-size="48.0">25</text>
<text transform="translate(149.0 1814.0) scale(1.107 1)" font-size="48.0">0</text>
<text transform="translate(157.3 2031.5) scale(1.031 1)" font-size="48.0">3</text>
<text transform="translate(227.0 2095.5) scale(1.050 1)" font-size="48.0">2.5</text>
<text transform="translate(379.9 2161.0) scale(1.070 1)" font-size="48.0">2</text>
<text transform="translate(447.4 2225.0) scale(1.046 1)" font-size="48.0">1.5</text>
<text transform="translate(600.8 2291.0) scale(1.050 1)" font-size="48.0">1</text>
<text transform="translate(679.1 2291.0) scale(1.032 1)" font-size="48.0">0.5</text>
<text transform="translate(802.5 2231.0) scale(1.036 1)" font-size="48.0">0.4</text>
<text transform="translate(925.3 2171.0) scale(1.037 1)" font-size="48.0">0.3</text>
<text transform="translate(1047.8 2109.7) scale(1.036 1)" font-size="48.0">0.2</text>
<text transform="translate(1170.3 2049.7) scale(1.034 1)" font-size="48.0">0.1</text>
<text transform="translate(180.2 2212.0) scale(0.975 1)" font-size="42.2">Time, h</text>
<text transform="translate(981.8 2229.4) scale(0.958 1)" font-size="42.2">Cr(III), g/L</text>
<text transform="translate(20.9 2286.0) scale(0.977 1)" font-size="44.5">B1)</text>
<text transform="translate(43.4 1790.8) rotate(-90) scale(0.946 1)" font-size="42.2">Extraction, %</text>
<text transform="translate(1803.4 1251.3) scale(0.977 1)" font-size="35.0">Extraction, %</text>
<text transform="translate(1374.2 1272.7) scale(1.022 1)" font-size="41.5">0.5</text>
<text transform="translate(1374.2 1495.8) scale(1.012 1)" font-size="41.5">0.4</text>
<text transform="translate(1374.2 1718.9) scale(1.024 1)" font-size="41.5">0.3</text>
<text transform="translate(1374.2 1942.0) scale(1.028 1)" font-size="41.5">0.2</text>
<text transform="translate(1374.2 2165.0) scale(1.028 1)" font-size="41.5">0.1</text>
<text transform="translate(1450.5 2233.4) scale(1.020 1)" font-size="41.5">1</text>
<text transform="translate(1655.5 2233.4) scale(1.009 1)" font-size="41.5">1.5</text>
<text transform="translate(1894.9 2233.4) scale(1.017 1)" font-size="41.5">2</text>
<text transform="translate(2101.3 2233.4) scale(0.994 1)" font-size="41.5">2.5</text>
<text transform="translate(2341.1 2233.4) scale(0.984 1)" font-size="41.5">3</text>
<text transform="translate(1835.5 2294.3) scale(1.001 1)" font-size="42.2">Time, h</text>
<text transform="translate(1286.4 2286.6) scale(0.999 1)" font-size="44.5">B2)</text>
<text transform="translate(1341.5 1801.0) rotate(-90) scale(0.954 1)" font-size="42.2">Cr(III), g/L</text>
<text transform="translate(1633.6 449.9) scale(1.018 1)" font-size="37.0">80</text>
<text transform="translate(1892.8 559.6) scale(1.026 1)" font-size="37.0">60</text>
<text transform="translate(2127.5 141.8) scale(0.999 1)" font-size="37.0">40</text>
<text transform="translate(1992.1 802.1) scale(0.999 1)" font-size="37.0">40</text>
<text transform="translate(2182.1 924.6) scale(1.026 1)" font-size="37.0">20</text>
<text transform="translate(1719.3 1501.9) scale(0.999 1)" font-size="37.0">40</text>
<text transform="translate(1879.1 1805.6) scale(1.026 1)" font-size="37.0">60</text>
<text transform="translate(1891.4 2043.9) scale(1.018 1)" font-size="37.0">80</text></g>
</g>
</svg></body></html>
